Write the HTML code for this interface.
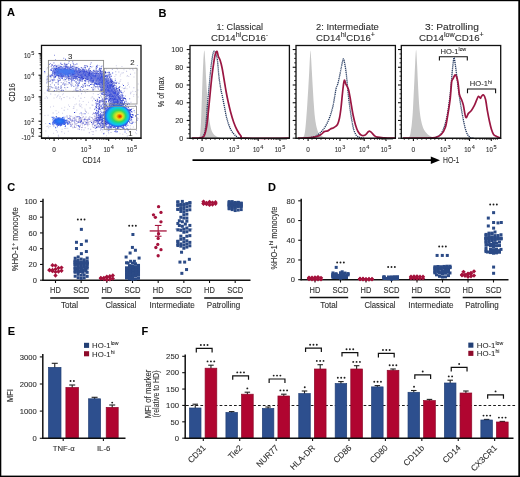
<!DOCTYPE html>
<html><head><meta charset="utf-8"><style>
html,body{margin:0;padding:0;background:#fff;width:520px;height:477px;overflow:hidden}
svg{display:block;will-change:transform;} text{stroke:#2e2e2e;stroke-width:0.1px;paint-order:stroke} svg{font-family:"Liberation Sans", sans-serif}
</style></head><body>
<svg width="520" height="477" viewBox="0 0 520 477">
<defs><radialGradient id="llg" cx="0.5" cy="0.5" r="0.5"><stop offset="0" stop-color="#2a80f8"/><stop offset="0.5" stop-color="#2068f0" stop-opacity="0.9"/><stop offset="1" stop-color="#2050e8" stop-opacity="0"/></radialGradient><filter id="bl1" x="-20%" y="-50%" width="140%" height="200%"><feGaussianBlur stdDeviation="1.8"/></filter><radialGradient id="hotg" cx="0.5" cy="0.5" r="0.5" fx="0.6" fy="0.53">
<stop offset="0" stop-color="#d82800"/><stop offset="0.08" stop-color="#e84a00"/><stop offset="0.17" stop-color="#f0a000"/>
<stop offset="0.25" stop-color="#e8e020"/><stop offset="0.37" stop-color="#a0e030"/><stop offset="0.5" stop-color="#30d860"/>
<stop offset="0.65" stop-color="#10d0c0"/><stop offset="0.77" stop-color="#10c0f0"/><stop offset="0.87" stop-color="#2080f0"/>
<stop offset="0.95" stop-color="#2850e0" stop-opacity="0.8"/><stop offset="1" stop-color="#2840d8" stop-opacity="0"/></radialGradient></defs>
<rect x="0" y="0" width="520" height="1.2" fill="#000"/>
<rect x="0" y="0" width="1.3" height="477" fill="#000"/>
<rect x="518.3" y="0" width="1.7" height="477" fill="#000"/>
<rect x="0" y="475.6" width="520" height="1.4" fill="#000"/>
<text x="7" y="16.3" font-size="11" text-anchor="start" fill="#000" font-weight="bold">A</text>
<text x="158.6" y="16.5" font-size="11" text-anchor="start" fill="#000" font-weight="bold">B</text>
<text x="7.2" y="190.8" font-size="11" text-anchor="start" fill="#000" font-weight="bold">C</text>
<text x="267.9" y="190.6" font-size="11" text-anchor="start" fill="#000" font-weight="bold">D</text>
<text x="7.8" y="334.7" font-size="11" text-anchor="start" fill="#000" font-weight="bold">E</text>
<text x="141.6" y="334.6" font-size="11" text-anchor="start" fill="#000" font-weight="bold">F</text>
<path fill="#d0d0e8" d="M102.76 103.72h1v1h-1zM128.34 119.38h1v1h-1zM116.91 68.7h1v1h-1zM65.17 116.4h1v1h-1zM72.22 65.11h1v1h-1zM126.11 133h1v1h-1zM44.49 97.74h1v1h-1zM121.2 93.45h1v1h-1zM118.92 115.87h1v1h-1zM87.99 101.68h1v1h-1zM72.49 116.62h1v1h-1zM70.17 70.1h1v1h-1zM67.96 104.52h1v1h-1zM85.84 104.18h1v1h-1zM91.43 131.11h1v1h-1zM96.03 66.85h1v1h-1zM137.58 96.6h1v1h-1zM118.51 109.44h1v1h-1zM102.48 103.65h1v1h-1zM136.96 69.34h1v1h-1zM64.24 106.71h1v1h-1zM59.06 80h1v1h-1zM101.58 78.08h1v1h-1zM48.13 127.27h1v1h-1zM47.35 78.24h1v1h-1zM92.4 96.71h1v1h-1zM87.82 118.02h1v1h-1zM130.21 114.93h1v1h-1zM103.15 103.85h1v1h-1zM92.33 122.11h1v1h-1zM90.71 97.54h1v1h-1zM67.27 108.67h1v1h-1zM45.11 122.96h1v1h-1zM62.09 112.82h1v1h-1zM109.05 110.21h1v1h-1zM62.86 93.24h1v1h-1zM78.74 104.2h1v1h-1zM44.35 92.52h1v1h-1zM122.02 117.59h1v1h-1zM58.52 91.39h1v1h-1zM69.15 97.6h1v1h-1zM126.75 118.39h1v1h-1zM91.92 100.26h1v1h-1zM123.63 88.34h1v1h-1zM104.13 123.53h1v1h-1zM113.73 91.43h1v1h-1zM52.6 124.82h1v1h-1zM94.87 120.54h1v1h-1zM91.73 96.2h1v1h-1zM125.91 115.33h1v1h-1zM77.96 66.48h1v1h-1zM100.23 92.07h1v1h-1zM49.57 125.94h1v1h-1zM80.44 105.73h1v1h-1zM74.37 104.16h1v1h-1zM58.12 111.86h1v1h-1zM120.74 112.79h1v1h-1zM79.67 106.02h1v1h-1zM136 94.29h1v1h-1zM99.46 77.21h1v1h-1zM100.88 85.07h1v1h-1zM103.97 85.09h1v1h-1zM107.59 95.01h1v1h-1zM58.17 135.93h1v1h-1zM85.39 89.38h1v1h-1zM66.52 96.21h1v1h-1zM81.83 90.76h1v1h-1zM53.09 105.86h1v1h-1zM134.98 132.25h1v1h-1zM64.21 128.01h1v1h-1zM107.15 91.15h1v1h-1zM72.24 83.22h1v1h-1zM126.16 127.68h1v1h-1zM106.25 99.56h1v1h-1zM56.37 113.36h1v1h-1zM123.44 69.28h1v1h-1zM132.83 126.39h1v1h-1zM128.97 86.53h1v1h-1zM97.55 99.61h1v1h-1zM57.67 78.26h1v1h-1zM62.09 94.26h1v1h-1zM131.22 123.62h1v1h-1zM95.92 123.59h1v1h-1zM60.97 98.1h1v1h-1zM127.1 119.29h1v1h-1zM104.31 96.98h1v1h-1zM97.55 90.88h1v1h-1zM79.37 103.3h1v1h-1zM82.63 78.5h1v1h-1zM66.51 86.79h1v1h-1zM47.58 114.87h1v1h-1zM126.36 119.48h1v1h-1zM87.97 68.08h1v1h-1zM95.48 116.76h1v1h-1zM74.28 122.85h1v1h-1zM114.62 96.05h1v1h-1zM46.37 68.5h1v1h-1zM78.99 113.17h1v1h-1zM46.85 81.72h1v1h-1zM55.55 110.32h1v1h-1zM134.91 91.12h1v1h-1zM105.83 109.88h1v1h-1zM84.25 82.59h1v1h-1zM93.23 98.31h1v1h-1zM126.04 101.78h1v1h-1zM76.36 109.43h1v1h-1zM99.49 78.63h1v1h-1zM108.27 133.27h1v1h-1zM77.41 84.82h1v1h-1zM92.8 86.03h1v1h-1zM115.93 82.45h1v1h-1zM129.46 68.86h1v1h-1zM58.2 94.45h1v1h-1zM131.74 119.57h1v1h-1zM44.49 115.09h1v1h-1zM114.78 78.08h1v1h-1zM120.19 73.86h1v1h-1zM56.86 87.14h1v1h-1zM83.38 119.31h1v1h-1zM120.63 99.14h1v1h-1zM45.34 130.47h1v1h-1zM103.08 111.26h1v1h-1zM118.54 108.71h1v1h-1zM92.22 119.27h1v1h-1zM112.23 118.02h1v1h-1zM65.28 88.76h1v1h-1zM62.66 82.5h1v1h-1zM78.13 95.51h1v1h-1zM60.86 99.23h1v1h-1zM76.53 74.2h1v1h-1zM133.12 95.78h1v1h-1zM97.89 110.07h1v1h-1zM75.97 73.77h1v1h-1zM69.52 73.94h1v1h-1zM133.49 76.51h1v1h-1zM85.78 84.4h1v1h-1zM136.16 133.24h1v1h-1zM92.46 65.86h1v1h-1zM92.99 77.23h1v1h-1zM128.27 75.88h1v1h-1zM113.82 98.15h1v1h-1zM98.58 65.09h1v1h-1zM84.11 96.99h1v1h-1zM126.55 75.73h1v1h-1zM82.69 83.41h1v1h-1zM130.74 121.06h1v1h-1zM50.46 77.25h1v1h-1zM84.42 108.43h1v1h-1zM92.83 93.25h1v1h-1zM133.39 94.07h1v1h-1zM67.59 122.81h1v1h-1zM119.77 75.59h1v1h-1zM107.59 130.51h1v1h-1zM111.41 128.33h1v1h-1zM103.18 112.12h1v1h-1zM135.33 67.56h1v1h-1zM75.27 111.76h1v1h-1zM81.44 107.23h1v1h-1zM63.07 119.6h1v1h-1zM48.77 79.4h1v1h-1zM64.01 132.64h1v1h-1zM130.05 127.81h1v1h-1zM122.98 72.23h1v1h-1zM54.57 86.69h1v1h-1zM100.76 66.34h1v1h-1zM89.04 123.83h1v1h-1zM99.9 129.89h1v1h-1zM105.97 135.27h1v1h-1zM72.83 108.06h1v1h-1zM134.37 111.95h1v1h-1zM87.79 112.85h1v1h-1zM103.04 105.05h1v1h-1zM103.71 132.57h1v1h-1zM61.29 107.77h1v1h-1zM49.82 88.17h1v1h-1zM82.68 100.93h1v1h-1zM115.82 65.34h1v1h-1zM120.63 116.14h1v1h-1zM112.62 113.96h1v1h-1zM54.64 94.32h1v1h-1zM129.86 125.31h1v1h-1zM119.39 118.4h1v1h-1zM126.5 88.24h1v1h-1zM93.19 69.58h1v1h-1zM130.07 73.52h1v1h-1zM48.39 77.27h1v1h-1zM46.85 85.88h1v1h-1zM45.9 96.22h1v1h-1zM67.76 130.82h1v1h-1zM67.37 84.05h1v1h-1zM61.63 128.7h1v1h-1zM97.3 112.99h1v1h-1zM47.66 125.45h1v1h-1zM99.5 93.03h1v1h-1zM59.61 64.24h1v1h-1zM107.72 120.66h1v1h-1zM45.98 81.67h1v1h-1zM73.19 74.26h1v1h-1zM132.2 121.56h1v1h-1zM94.61 113.42h1v1h-1zM120.29 79.29h1v1h-1zM105.85 83.27h1v1h-1zM101.41 131.62h1v1h-1zM61.98 83.33h1v1h-1zM97.99 114.57h1v1h-1zM47.73 73.33h1v1h-1zM119.36 122.68h1v1h-1zM134.25 72.47h1v1h-1zM124.28 101.15h1v1h-1zM48.77 66.54h1v1h-1zM75.83 103.61h1v1h-1zM73.89 124.96h1v1h-1zM54.6 70.08h1v1h-1zM102.9 83.75h1v1h-1zM118.96 119.06h1v1h-1zM73.49 107.78h1v1h-1zM125.1 86.52h1v1h-1zM118.93 109.28h1v1h-1zM56.14 96.74h1v1h-1zM116.08 126.09h1v1h-1zM126.97 85.09h1v1h-1zM62.54 118.56h1v1h-1zM97.92 109.77h1v1h-1zM104.04 117.31h1v1h-1zM101.28 91.23h1v1h-1zM53.05 116.19h1v1h-1zM106.15 114.29h1v1h-1zM103.4 91.9h1v1h-1zM121.45 65.9h1v1h-1zM119.53 133.33h1v1h-1zM74.75 115.38h1v1h-1zM111.87 78.74h1v1h-1zM125.52 116.62h1v1h-1zM127.94 84.07h1v1h-1zM59.18 97.79h1v1h-1zM46.51 125.91h1v1h-1zM105.18 96.26h1v1h-1zM64.18 84.74h1v1h-1zM96.99 86h1v1h-1zM132.81 69.55h1v1h-1zM79.66 79.8h1v1h-1zM67.76 83.52h1v1h-1zM86.91 76.45h1v1h-1zM105.78 68.54h1v1h-1zM53.5 97.54h1v1h-1zM79.77 79.44h1v1h-1zM56.57 117.19h1v1h-1zM106.27 130.42h1v1h-1zM122.07 83.65h1v1h-1zM79.42 105.2h1v1h-1zM78.94 100.48h1v1h-1zM94.72 69.41h1v1h-1zM64.22 72.99h1v1h-1zM67.26 127.7h1v1h-1zM75.01 98.14h1v1h-1zM87 121.93h1v1h-1zM51.66 68.79h1v1h-1zM114.76 106.83h1v1h-1zM98.43 126.3h1v1h-1zM72.17 126.43h1v1h-1zM51.29 64.41h1v1h-1zM115.74 101.56h1v1h-1zM56.32 90.57h1v1h-1zM56.52 118.72h1v1h-1zM56.28 69.27h1v1h-1zM51.64 83.07h1v1h-1zM129.2 122.51h1v1h-1zM69.31 97.81h1v1h-1zM72.8 96.63h1v1h-1zM122.28 133.74h1v1h-1zM102.27 87.03h1v1h-1zM61.59 67h1v1h-1zM84.87 92.24h1v1h-1zM127.09 75.04h1v1h-1zM79.29 69.9h1v1h-1zM110.82 104.89h1v1h-1zM53.1 132.66h1v1h-1zM112.37 105.72h1v1h-1zM116.99 110.59h1v1h-1zM121.62 87.3h1v1h-1zM107.37 105.12h1v1h-1zM78.85 118.16h1v1h-1zM50.04 106.43h1v1h-1zM92.76 121.8h1v1h-1zM115.2 103.63h1v1h-1zM61.94 78.27h1v1h-1zM69.03 105.96h1v1h-1zM94.4 99.35h1v1h-1zM114.34 75.95h1v1h-1zM128.28 108.58h1v1h-1zM55.82 122.82h1v1h-1zM61.32 73.73h1v1h-1zM119.16 103.24h1v1h-1zM104.59 116.83h1v1h-1zM111.77 93.02h1v1h-1zM137.7 83.44h1v1h-1zM132.28 90.8h1v1h-1zM123.24 103h1v1h-1zM117.05 113.44h1v1h-1zM81.13 104.26h1v1h-1z"/>
<path fill="#b4b6de" d="M104.28 71.71h1v1h-1zM61.34 122.89h1v1h-1zM115.39 130.52h1v1h-1zM115.22 71.29h1v1h-1zM111.8 81.97h1v1h-1zM85.81 76.51h1v1h-1zM79.55 125.14h1v1h-1zM83.46 129.54h1v1h-1zM47.13 67.19h1v1h-1zM123.37 87.93h1v1h-1zM94.98 77.86h1v1h-1zM80.43 97.81h1v1h-1zM95.51 130.35h1v1h-1zM111.83 69.05h1v1h-1zM79.86 76.33h1v1h-1zM122.08 99.07h1v1h-1zM130.43 101.73h1v1h-1zM80.42 117.68h1v1h-1zM56.95 95.51h1v1h-1zM115.48 74.16h1v1h-1zM137.34 89.46h1v1h-1zM57.91 134.71h1v1h-1zM110.99 118.05h1v1h-1zM121.58 72.38h1v1h-1zM130.53 122.19h1v1h-1zM55.6 86.39h1v1h-1zM52.63 120.26h1v1h-1zM136.86 64.92h1v1h-1zM54.98 126.73h1v1h-1zM60.62 75.69h1v1h-1zM98.05 96.81h1v1h-1zM85.95 111.65h1v1h-1zM114.54 100.57h1v1h-1zM61.91 75.91h1v1h-1zM129.96 74.02h1v1h-1zM64.42 84.49h1v1h-1zM116.3 67.77h1v1h-1zM50.35 79.59h1v1h-1zM88.5 73.37h1v1h-1zM47.06 97.47h1v1h-1zM73.5 89.67h1v1h-1zM73.35 106.25h1v1h-1zM111.66 84.22h1v1h-1zM86.77 66.44h1v1h-1zM49.34 87.84h1v1h-1zM137.56 118.37h1v1h-1zM127.54 82.42h1v1h-1zM130.13 93.13h1v1h-1zM67.18 118.36h1v1h-1zM81.05 93.28h1v1h-1zM65.35 127.87h1v1h-1zM55.74 130.1h1v1h-1zM47.1 86.36h1v1h-1zM91.31 116.99h1v1h-1zM55.57 82.22h1v1h-1zM60.57 74.05h1v1h-1zM124.88 95.53h1v1h-1zM89.52 107.38h1v1h-1zM61.27 131.36h1v1h-1zM106.97 74.5h1v1h-1zM68.99 115.29h1v1h-1zM93.53 98.23h1v1h-1zM70.6 73.48h1v1h-1zM92.52 134.03h1v1h-1zM103.08 114.1h1v1h-1zM94.4 73.28h1v1h-1zM81.19 129.21h1v1h-1zM118.34 71.42h1v1h-1zM126.1 70.67h1v1h-1zM60.86 87.87h1v1h-1zM56.81 131.53h1v1h-1zM54.64 66.38h1v1h-1zM136.08 130.11h1v1h-1zM132.51 108.04h1v1h-1zM65.68 68.83h1v1h-1zM135.17 104.94h1v1h-1zM63.53 97.03h1v1h-1zM91.61 104.61h1v1h-1zM90.75 117.08h1v1h-1zM130.01 112.86h1v1h-1zM47.81 135.8h1v1h-1zM73.64 75.28h1v1h-1zM100.4 122.53h1v1h-1zM50.24 93.6h1v1h-1zM66.24 120.4h1v1h-1zM87.72 128.21h1v1h-1zM126.8 135.42h1v1h-1zM115.53 83.16h1v1h-1zM121.92 96.61h1v1h-1zM115.54 131.88h1v1h-1zM110.53 132.09h1v1h-1zM123.87 90.85h1v1h-1zM108.06 131.7h1v1h-1zM113.15 93.22h1v1h-1zM72.35 90.98h1v1h-1zM59.76 118.48h1v1h-1zM115.11 97.93h1v1h-1zM59.59 96.27h1v1h-1zM130.43 91.8h1v1h-1zM100.08 95.16h1v1h-1zM74.97 74.07h1v1h-1zM132.04 68.39h1v1h-1zM58.58 118.29h1v1h-1zM92.36 104.64h1v1h-1zM52.61 112.38h1v1h-1zM134.75 121.77h1v1h-1zM98.09 80.57h1v1h-1zM119.54 80.83h1v1h-1zM70.5 84.01h1v1h-1zM119.37 85.88h1v1h-1zM110.07 118.77h1v1h-1zM104.51 90.94h1v1h-1zM133.35 87.27h1v1h-1zM84.75 109.81h1v1h-1zM83.02 77.43h1v1h-1zM109.06 71.66h1v1h-1zM122.5 114.19h1v1h-1zM75.5 118.46h1v1h-1zM106.95 85.34h1v1h-1zM63.65 109.79h1v1h-1z"/>
<path fill="#a0a4da" d="M47.98 86.43h1v1h-1zM69.45 78.37h1v1h-1zM79.52 90.86h1v1h-1zM60.7 86.24h1v1h-1zM66.2 81.2h1v1h-1zM81.35 81.05h1v1h-1zM80.21 87.25h1v1h-1zM54.94 76.99h1v1h-1zM86.98 84.87h1v1h-1zM50.64 86.22h1v1h-1zM102.24 82.78h1v1h-1zM57.74 88.84h1v1h-1zM60.71 81.97h1v1h-1zM57.62 81.9h1v1h-1zM103.51 78.84h1v1h-1zM62.62 89.63h1v1h-1zM81.11 79.38h1v1h-1zM103.46 85.82h1v1h-1zM101.1 80.96h1v1h-1zM48.46 89.9h1v1h-1zM76.23 90.12h1v1h-1zM80.88 74.51h1v1h-1zM86.74 90.91h1v1h-1zM65.48 84.28h1v1h-1zM65.02 75.26h1v1h-1zM46.25 82.45h1v1h-1zM48.04 74.84h1v1h-1zM77.9 83.33h1v1h-1zM50.4 77.15h1v1h-1zM57.74 80.25h1v1h-1zM65.33 79.18h1v1h-1zM50.09 84.24h1v1h-1zM47.79 87.98h1v1h-1zM99.76 89.92h1v1h-1zM71.24 79.59h1v1h-1zM57.88 83.68h1v1h-1zM87.09 74.1h1v1h-1zM46.55 80.33h1v1h-1zM60.21 90.33h1v1h-1zM101.72 76.02h1v1h-1zM98.07 88.79h1v1h-1zM82.88 85.09h1v1h-1zM51.41 79h1v1h-1zM64.45 87.23h1v1h-1zM47.62 78.92h1v1h-1zM58.71 89.21h1v1h-1zM47.48 75.41h1v1h-1zM53.32 76.02h1v1h-1zM82.73 86.75h1v1h-1zM51.83 81.64h1v1h-1zM55.03 76.51h1v1h-1zM98.36 82.73h1v1h-1zM65.46 79.05h1v1h-1zM65.31 83.34h1v1h-1zM51.02 86.64h1v1h-1zM92.16 88.57h1v1h-1zM85.23 75h1v1h-1zM77.73 84.07h1v1h-1zM81.84 90.72h1v1h-1zM51.82 81.82h1v1h-1zM61.1 87.08h1v1h-1zM79.85 75.65h1v1h-1zM101.23 88.85h1v1h-1zM93.39 83.89h1v1h-1zM83.16 89.1h1v1h-1zM76.09 87.38h1v1h-1zM46.88 88.78h1v1h-1zM97.66 74.97h1v1h-1zM49.88 86.16h1v1h-1zM53.49 77.35h1v1h-1zM86.2 78.52h1v1h-1zM93.1 79.52h1v1h-1zM91.62 84.05h1v1h-1zM72.24 84.67h1v1h-1zM56.27 89.83h1v1h-1zM48.05 74.22h1v1h-1zM95.38 77.29h1v1h-1zM102.71 80.15h1v1h-1zM60.16 87.91h1v1h-1zM96.23 83.35h1v1h-1zM69.35 82.7h1v1h-1zM64.06 86.92h1v1h-1zM75.3 85.14h1v1h-1zM46.47 78.93h1v1h-1zM71.68 75.48h1v1h-1zM57.57 81.86h1v1h-1zM87.32 88.96h1v1h-1zM75.15 84.17h1v1h-1zM96.39 74.91h1v1h-1zM98.01 81.48h1v1h-1zM64.37 80.54h1v1h-1zM62.26 83.9h1v1h-1zM100.47 83.98h1v1h-1zM75.23 90.17h1v1h-1zM51.6 79.75h1v1h-1zM48.66 80.94h1v1h-1zM103.44 84.43h1v1h-1zM79.59 89.07h1v1h-1zM49.16 86h1v1h-1zM75.65 82.01h1v1h-1zM75.24 87.85h1v1h-1zM71.25 82.25h1v1h-1zM101.17 90.38h1v1h-1zM101.03 78.8h1v1h-1zM53.25 76.17h1v1h-1zM54.8 88.12h1v1h-1zM69.63 79.05h1v1h-1zM94.37 88.41h1v1h-1zM82.18 84.36h1v1h-1zM88.33 82.65h1v1h-1zM79.41 75.48h1v1h-1zM58.18 87.37h1v1h-1zM93.43 75.12h1v1h-1zM46.81 90.41h1v1h-1zM86.51 88.91h1v1h-1zM57.27 79.15h1v1h-1zM73.32 76.17h1v1h-1zM102.56 89.06h1v1h-1zM77.26 82.16h1v1h-1zM49.3 76.12h1v1h-1zM70.87 82.47h1v1h-1zM84.3 78.2h1v1h-1zM49.29 80.93h1v1h-1zM60.65 84.88h1v1h-1zM47.06 89.56h1v1h-1zM77.32 87.62h1v1h-1zM68.13 76.74h1v1h-1zM75.21 82.11h1v1h-1zM63.16 82.36h1v1h-1zM84.09 90.82h1v1h-1zM56.04 75.48h1v1h-1zM98.59 82.68h1v1h-1zM101.68 89.54h1v1h-1zM74.59 80.78h1v1h-1zM72.99 78.45h1v1h-1zM95.86 83.45h1v1h-1zM62.81 79.44h1v1h-1zM92.58 89.76h1v1h-1zM62.66 75.44h1v1h-1zM87.76 77.51h1v1h-1z"/>
<path fill="#6f78d8" d="M65.37 75.43h1v1h-1zM80.95 86.1h1v1h-1zM99.7 78.98h1v1h-1zM49.15 89.3h1v1h-1zM92.82 89.19h1v1h-1zM77.43 89.92h1v1h-1zM67.99 78.35h1v1h-1zM66.32 74.01h1v1h-1zM50.03 80.59h1v1h-1zM60.99 90.36h1v1h-1zM82.14 86.98h1v1h-1zM51.66 75.01h1v1h-1zM84.83 85.94h1v1h-1zM101.81 89.59h1v1h-1zM102.89 90.45h1v1h-1zM97.58 86.17h1v1h-1zM92.78 88.67h1v1h-1zM56.32 88.31h1v1h-1zM102.27 80.09h1v1h-1zM57.76 75.68h1v1h-1zM96.4 86.37h1v1h-1zM96.92 76.33h1v1h-1zM82.07 80.53h1v1h-1zM76.24 90.93h1v1h-1zM57.62 83.52h1v1h-1zM76.13 82.87h1v1h-1zM62.86 90.11h1v1h-1zM53.3 78.83h1v1h-1zM53.44 90.99h1v1h-1zM92.47 89.5h1v1h-1zM99.5 80.19h1v1h-1zM54.23 79.56h1v1h-1zM46.77 76.15h1v1h-1zM61.29 89.57h1v1h-1zM53.8 77.16h1v1h-1zM56.94 74.15h1v1h-1zM79.83 89.13h1v1h-1zM70.49 84.17h1v1h-1zM70.9 85.42h1v1h-1zM57.93 86.46h1v1h-1zM84.55 74.73h1v1h-1zM62.79 75.56h1v1h-1zM69.15 82.5h1v1h-1zM72.88 74.85h1v1h-1zM98.46 82.57h1v1h-1zM60.29 86.52h1v1h-1zM87.68 85.18h1v1h-1zM63.94 84.48h1v1h-1zM97.88 74.79h1v1h-1zM68.86 78.02h1v1h-1zM75.3 89.26h1v1h-1zM96.88 76.09h1v1h-1zM85.02 83.06h1v1h-1zM51.47 74.85h1v1h-1zM53.94 89.97h1v1h-1zM103.46 76.92h1v1h-1zM47.69 80.97h1v1h-1zM63.45 83.3h1v1h-1zM101.62 86.22h1v1h-1zM46.88 89.94h1v1h-1zM55.36 86.52h1v1h-1zM58.38 79.91h1v1h-1zM51.01 75.28h1v1h-1zM73.37 86.03h1v1h-1zM80.36 90.53h1v1h-1zM64.46 74.29h1v1h-1zM52.3 87.17h1v1h-1zM93.04 76.99h1v1h-1zM92.66 81.82h1v1h-1zM78.6 82.88h1v1h-1zM53.99 84.45h1v1h-1zM77.43 90.82h1v1h-1zM82.51 85.69h1v1h-1zM70.84 80.67h1v1h-1zM96.1 86.16h1v1h-1zM68.62 81.93h1v1h-1zM75.63 81.02h1v1h-1zM52.62 80.22h1v1h-1zM78.69 82.39h1v1h-1zM90.45 78.78h1v1h-1z"/>
<path fill="#b0a8d8" d="M76.17 120.87h1v1h-1zM72.24 120.35h1v1h-1zM84.49 117.74h1v1h-1zM78.32 117.55h1v1h-1zM101.15 117.19h1v1h-1zM101.61 119.5h1v1h-1zM80.44 119.38h1v1h-1zM92 123.83h1v1h-1zM103.9 119.48h1v1h-1zM81.08 120.25h1v1h-1zM89.3 116.37h1v1h-1zM84.63 127.25h1v1h-1zM93.31 122.93h1v1h-1zM106.31 127.8h1v1h-1zM71.82 124.03h1v1h-1zM106.55 126.66h1v1h-1zM93.96 120.06h1v1h-1zM99.43 123.73h1v1h-1zM92.68 131.28h1v1h-1zM102.55 116.35h1v1h-1zM79.7 125.47h1v1h-1zM95.74 127.45h1v1h-1zM77.09 122.6h1v1h-1zM87.36 123.91h1v1h-1zM94.62 125.86h1v1h-1zM74.45 118.45h1v1h-1zM68.57 122.59h1v1h-1zM99.22 117.63h1v1h-1zM99.98 118.37h1v1h-1zM93.96 118.6h1v1h-1zM79.5 120.44h1v1h-1zM93.64 121.57h1v1h-1zM69.52 122.76h1v1h-1zM93.83 115.49h1v1h-1zM90.2 128.7h1v1h-1zM91.92 125.5h1v1h-1zM84.77 123.83h1v1h-1zM75.46 119.61h1v1h-1zM96.49 120.65h1v1h-1zM85.49 123.13h1v1h-1zM97.31 122.6h1v1h-1zM81.3 114.46h1v1h-1zM69.69 123.89h1v1h-1zM88.78 132.36h1v1h-1zM92.16 113.81h1v1h-1zM104.71 124.87h1v1h-1zM103.29 122.44h1v1h-1zM68.4 120.57h1v1h-1zM98.42 126.35h1v1h-1zM76.98 116.39h1v1h-1zM95.28 121.63h1v1h-1zM81.94 126.71h1v1h-1zM79.53 120.23h1v1h-1zM86.51 119.37h1v1h-1zM88.28 121.45h1v1h-1zM95.17 119.26h1v1h-1zM92.79 127.04h1v1h-1zM94.49 117.46h1v1h-1zM82.13 124.41h1v1h-1zM94.45 116.11h1v1h-1zM80.51 123.61h1v1h-1zM91.52 120.59h1v1h-1zM85.3 110.91h1v1h-1zM89.64 120.98h1v1h-1zM66.74 116.83h1v1h-1zM86.95 119.26h1v1h-1zM75.24 127.01h1v1h-1zM82.2 116.64h1v1h-1zM69.1 116.86h1v1h-1zM93.59 126.63h1v1h-1zM103.53 121.45h1v1h-1zM80.89 127.02h1v1h-1zM70.41 122.26h1v1h-1zM92.05 117.55h1v1h-1zM71.34 120.74h1v1h-1zM103.45 125.8h1v1h-1zM71.14 124.68h1v1h-1zM81.2 121h1v1h-1zM86.78 121.19h1v1h-1zM70.95 120.56h1v1h-1zM79.39 118.74h1v1h-1zM77.56 128.55h1v1h-1zM95.96 121.03h1v1h-1zM107.42 116.58h1v1h-1zM81.24 119.14h1v1h-1zM99.21 123.84h1v1h-1zM71.89 123.51h1v1h-1zM90.36 120.46h1v1h-1zM84.17 118.39h1v1h-1zM78.1 121.09h1v1h-1zM100.51 114.46h1v1h-1zM97.35 115.91h1v1h-1zM71.63 124.12h1v1h-1zM78.28 119.13h1v1h-1zM100.42 122.46h1v1h-1zM107.68 125.76h1v1h-1zM91.69 123.54h1v1h-1zM102.61 121.08h1v1h-1zM107.34 129.31h1v1h-1zM97.1 123.61h1v1h-1zM93.08 119.62h1v1h-1zM75.29 123.86h1v1h-1zM81.56 122.59h1v1h-1zM92.19 117.66h1v1h-1zM104.91 121.29h1v1h-1zM78.68 120.36h1v1h-1zM82.6 113.32h1v1h-1zM66.93 120.33h1v1h-1zM95.26 119.89h1v1h-1zM84.63 119.29h1v1h-1zM99.5 114.57h1v1h-1zM75.81 119.61h1v1h-1zM93.71 120.84h1v1h-1zM94.27 121.4h1v1h-1zM85.5 116.56h1v1h-1zM73.92 123.47h1v1h-1zM82.92 116.25h1v1h-1zM97.29 120.13h1v1h-1zM73.95 126.1h1v1h-1zM69.78 118.3h1v1h-1zM85.44 119h1v1h-1zM75.85 125.19h1v1h-1zM99.62 119.5h1v1h-1zM100.32 119.84h1v1h-1zM105.7 121.86h1v1h-1zM101.27 125.1h1v1h-1zM93.19 112.39h1v1h-1zM73.86 117.77h1v1h-1zM100.57 117.07h1v1h-1zM96.58 116.77h1v1h-1zM97.37 117.66h1v1h-1zM95.29 117.73h1v1h-1zM100.86 122.18h1v1h-1zM78.51 117.53h1v1h-1zM94.24 121.48h1v1h-1zM87.73 122.56h1v1h-1zM80.19 118.16h1v1h-1zM79.73 121.51h1v1h-1zM72.53 127.37h1v1h-1zM86.64 122.25h1v1h-1zM81.49 118.52h1v1h-1zM83.7 120.75h1v1h-1zM101.77 117.44h1v1h-1zM94.62 122.05h1v1h-1zM94.57 124.35h1v1h-1zM107.33 117.82h1v1h-1zM75.15 120.19h1v1h-1zM87.33 125.32h1v1h-1zM69.89 119.07h1v1h-1zM82.5 121.73h1v1h-1z"/>
<path fill="#8080d8" d="M105.91 117.02h1v1h-1zM69.61 117.82h1v1h-1zM97.82 119.01h1v1h-1zM102.35 129.27h1v1h-1zM87.38 119.45h1v1h-1zM99.5 118.99h1v1h-1zM84.52 118.86h1v1h-1zM80.84 120.37h1v1h-1zM87.24 123.49h1v1h-1zM74.18 121.72h1v1h-1zM78.91 128.82h1v1h-1zM78.83 121.81h1v1h-1zM107.51 126.5h1v1h-1zM80.08 122.05h1v1h-1zM75.61 123.3h1v1h-1zM105.47 115.51h1v1h-1zM71.82 120.52h1v1h-1zM106.56 120.74h1v1h-1zM101.84 120.08h1v1h-1zM93.18 112.82h1v1h-1zM83.97 124.35h1v1h-1zM74.28 119.53h1v1h-1zM70.46 119.34h1v1h-1zM70.35 120.03h1v1h-1zM80.66 120.13h1v1h-1zM83.1 122.55h1v1h-1zM104.8 116.17h1v1h-1zM88.52 117.46h1v1h-1zM107.61 122.1h1v1h-1zM96.28 121.55h1v1h-1zM72.14 119.57h1v1h-1zM89.25 118.82h1v1h-1zM72.69 117.83h1v1h-1zM67.65 120.78h1v1h-1zM105.64 125.49h1v1h-1zM80.19 116.98h1v1h-1zM73.96 126.79h1v1h-1zM70.28 124.21h1v1h-1zM93.39 119.28h1v1h-1zM85.37 123.98h1v1h-1zM66.49 115.43h1v1h-1zM96.04 114.42h1v1h-1zM76.78 116.1h1v1h-1zM98.78 119.44h1v1h-1zM86.52 119.76h1v1h-1zM88.49 119.04h1v1h-1zM85.2 121.38h1v1h-1zM94.39 112.89h1v1h-1zM107.58 122.88h1v1h-1zM99.51 115.61h1v1h-1zM68.9 118.49h1v1h-1zM86.78 119.43h1v1h-1zM75.84 116.61h1v1h-1zM70.3 115.79h1v1h-1zM74.2 117.18h1v1h-1zM76.42 120.95h1v1h-1zM106.31 123.24h1v1h-1zM97.28 123.14h1v1h-1zM101.82 117.22h1v1h-1zM95.35 117.99h1v1h-1z"/>
<path fill="#3040d0" d="M79.26 117.5h1v1h-1zM82.43 122.71h1v1h-1zM84.51 113.26h1v1h-1zM78.32 125.71h1v1h-1zM83.7 119.16h1v1h-1zM98.39 118.02h1v1h-1zM69.18 122.29h1v1h-1zM77.62 124.92h1v1h-1zM86.12 122.3h1v1h-1zM94.4 125h1v1h-1zM93.13 121.51h1v1h-1zM96.45 125.67h1v1h-1zM70.42 125.73h1v1h-1zM73.59 120.62h1v1h-1zM78.98 126.47h1v1h-1zM77.83 121.63h1v1h-1zM97.73 121.33h1v1h-1zM107.72 117.5h1v1h-1zM94.69 119.9h1v1h-1zM67.39 123.95h1v1h-1zM78.5 116.01h1v1h-1zM99.73 123.47h1v1h-1zM104.82 122.32h1v1h-1zM90.99 122.05h1v1h-1zM80.65 112.62h1v1h-1zM80.91 120.61h1v1h-1zM92.6 123.46h1v1h-1zM102.3 118.1h1v1h-1zM80.31 121.34h1v1h-1zM74.01 111.96h1v1h-1z"/>
<path fill="#3a44d0" d="M95.84 115.53h1v1h-1zM104.9 108.34h1v1h-1zM102.56 100.19h1v1h-1zM99.07 101.86h1v1h-1zM104.26 111.91h1v1h-1zM103.77 105.61h1v1h-1zM98.59 120.19h1v1h-1zM104.32 101.55h1v1h-1zM105.22 98.4h1v1h-1zM101.82 126.91h1v1h-1zM98.87 107.08h1v1h-1zM104.91 112.78h1v1h-1zM105.37 104.09h1v1h-1zM98.82 104.06h1v1h-1zM95.95 109.67h1v1h-1zM104.55 120.9h1v1h-1zM102.31 99.13h1v1h-1zM97.55 122.28h1v1h-1zM101.24 126.72h1v1h-1zM98.39 114.22h1v1h-1zM105.11 108.44h1v1h-1zM98.76 104.78h1v1h-1zM97.16 103.31h1v1h-1zM95.48 107.38h1v1h-1zM98.77 122.7h1v1h-1zM105.88 98.09h1v1h-1zM97.4 120.79h1v1h-1zM100.04 117.36h1v1h-1zM105.69 98.55h1v1h-1zM95.07 100.02h1v1h-1zM98.25 119.32h1v1h-1zM104.03 117.52h1v1h-1zM96.05 107.09h1v1h-1zM105.21 122.98h1v1h-1zM104.18 104.09h1v1h-1zM96.57 110.38h1v1h-1zM101.52 101.34h1v1h-1zM101.11 116.73h1v1h-1zM102.63 100.52h1v1h-1zM98.38 103.2h1v1h-1zM99.23 120.22h1v1h-1zM97.65 112.51h1v1h-1zM98.21 117.19h1v1h-1zM96.93 119.28h1v1h-1zM104.95 115.59h1v1h-1zM104.76 103.74h1v1h-1zM98.96 118.26h1v1h-1zM102.63 101.36h1v1h-1zM100.39 105.82h1v1h-1zM98.09 111h1v1h-1zM98.85 101.32h1v1h-1zM105.62 101.07h1v1h-1zM98.76 116.92h1v1h-1zM101.37 119.52h1v1h-1zM105.4 108.75h1v1h-1zM98.27 109.31h1v1h-1zM103.9 104.02h1v1h-1zM96.25 113.13h1v1h-1zM103.07 114.83h1v1h-1zM103.87 125.07h1v1h-1zM104.21 99.18h1v1h-1zM105.73 124.35h1v1h-1zM102.82 126.73h1v1h-1zM105.75 108.04h1v1h-1zM98.06 119.05h1v1h-1zM100.74 121.92h1v1h-1zM97.35 116.88h1v1h-1zM95.92 106.38h1v1h-1zM99.83 116.06h1v1h-1zM102.92 123.43h1v1h-1zM103.56 101.1h1v1h-1zM95.19 111.92h1v1h-1zM105.36 98.66h1v1h-1zM97.72 122.5h1v1h-1zM98.21 120.58h1v1h-1zM104.16 99.33h1v1h-1zM104.84 119.63h1v1h-1zM103.1 118.06h1v1h-1zM98.66 101.66h1v1h-1zM100.09 113.23h1v1h-1zM104.18 117.99h1v1h-1zM98.93 107.73h1v1h-1zM103.86 112.61h1v1h-1zM103.6 126.3h1v1h-1zM100.16 116.43h1v1h-1zM104.86 112.56h1v1h-1zM99.23 99.91h1v1h-1zM103.25 101.51h1v1h-1zM102.04 122.67h1v1h-1zM98.64 119.54h1v1h-1zM100.85 122.22h1v1h-1zM101.67 114.76h1v1h-1zM100.91 114.7h1v1h-1zM96.22 113.39h1v1h-1zM105.91 119.32h1v1h-1zM105.63 107.58h1v1h-1zM95.41 112.4h1v1h-1zM105.39 111.62h1v1h-1zM100.85 117.19h1v1h-1zM96.38 104.27h1v1h-1zM104.03 98.73h1v1h-1zM99.76 100.57h1v1h-1zM102.85 103.2h1v1h-1zM104.1 122.86h1v1h-1zM100.92 118.79h1v1h-1zM95.55 119.75h1v1h-1zM104.05 110.88h1v1h-1zM102.63 100.98h1v1h-1zM105.01 111.49h1v1h-1zM97.97 123.03h1v1h-1zM103.64 112.77h1v1h-1zM104.6 116.32h1v1h-1zM98.91 108.85h1v1h-1zM99.51 102.35h1v1h-1zM98.67 116.17h1v1h-1zM95.06 112.06h1v1h-1zM97.55 108.02h1v1h-1zM98.65 105.5h1v1h-1zM96.19 118.18h1v1h-1zM103.42 107.22h1v1h-1zM99.7 114.7h1v1h-1zM101.25 105.53h1v1h-1zM98.13 119.85h1v1h-1zM98.96 108.87h1v1h-1zM103.29 111.88h1v1h-1zM100.17 124.9h1v1h-1zM101.56 118.83h1v1h-1zM99.65 119.35h1v1h-1zM101.13 107.84h1v1h-1zM104.87 122.37h1v1h-1z"/>
<path fill="#7a7ed8" d="M97.94 109.19h1v1h-1zM100.71 126.66h1v1h-1zM102.56 123.98h1v1h-1zM95.95 117.11h1v1h-1zM105.58 122.11h1v1h-1zM100.49 113.78h1v1h-1zM97.7 119.26h1v1h-1zM103.36 101.62h1v1h-1zM103.97 126.67h1v1h-1zM101.94 121.21h1v1h-1zM105.08 102.13h1v1h-1zM95.98 105.04h1v1h-1zM100.8 114.67h1v1h-1zM103.17 120.12h1v1h-1zM105.08 102.32h1v1h-1zM102.06 125.86h1v1h-1zM101.63 108.03h1v1h-1zM99.27 126.85h1v1h-1zM101.29 119.82h1v1h-1zM101.1 112.08h1v1h-1zM104.96 108.52h1v1h-1zM104.1 100.8h1v1h-1zM103.11 100.55h1v1h-1zM105.16 116.25h1v1h-1zM95.73 120.43h1v1h-1zM103.47 124.32h1v1h-1zM100.1 108.58h1v1h-1zM103.27 125.19h1v1h-1zM98.26 106.61h1v1h-1zM100.14 125.26h1v1h-1zM104.07 124.65h1v1h-1zM95.39 102.49h1v1h-1zM98.2 122.96h1v1h-1zM100.37 118.41h1v1h-1zM104.37 118.37h1v1h-1zM97.97 122.37h1v1h-1zM104.05 113.56h1v1h-1zM97.69 112.7h1v1h-1zM98.33 108.64h1v1h-1zM101.09 123.09h1v1h-1zM102.19 124.13h1v1h-1zM104.68 102.66h1v1h-1zM104.67 120.39h1v1h-1zM97.75 105.99h1v1h-1zM103.2 103.33h1v1h-1zM101.98 103.72h1v1h-1zM99.25 114.63h1v1h-1zM103.54 106.11h1v1h-1zM104.87 105.03h1v1h-1zM100.27 100.86h1v1h-1zM105.08 107.42h1v1h-1zM96.4 120.45h1v1h-1zM96.83 98.63h1v1h-1zM103.41 112h1v1h-1zM98.36 115.48h1v1h-1zM101.44 99.44h1v1h-1zM100.47 106.53h1v1h-1zM96.6 124.29h1v1h-1zM103.3 126.84h1v1h-1zM103.16 122.66h1v1h-1zM96.6 102.92h1v1h-1zM97.86 120.16h1v1h-1zM103.81 111.08h1v1h-1zM105.03 102.95h1v1h-1zM104.57 111.95h1v1h-1zM100.52 124.76h1v1h-1zM99.04 123.44h1v1h-1zM99.9 109.35h1v1h-1zM96.94 99.84h1v1h-1zM100.46 124.12h1v1h-1zM97.54 126.6h1v1h-1zM96.78 112.83h1v1h-1zM99.19 104.53h1v1h-1zM95.7 113.77h1v1h-1zM100.17 118.19h1v1h-1zM102.66 111.98h1v1h-1zM102.17 108.22h1v1h-1zM105.73 105.19h1v1h-1zM104.74 106.61h1v1h-1zM101.97 99.44h1v1h-1zM104.87 105.4h1v1h-1zM99.89 125.64h1v1h-1zM103.79 98.23h1v1h-1zM98.13 119.1h1v1h-1zM100.79 120.88h1v1h-1zM105.78 109.74h1v1h-1zM101.59 115.26h1v1h-1zM100.57 104.41h1v1h-1zM103.66 117.37h1v1h-1zM98.44 118.53h1v1h-1zM104.14 119.3h1v1h-1zM95.2 112.26h1v1h-1zM97.62 126.14h1v1h-1zM96.95 123.12h1v1h-1zM97.83 114.6h1v1h-1zM105.4 117.79h1v1h-1zM95.26 105.97h1v1h-1zM98.29 125.37h1v1h-1zM101.32 116.71h1v1h-1zM102.73 123.95h1v1h-1zM103.51 106.37h1v1h-1zM99.22 126.49h1v1h-1zM97.42 101.06h1v1h-1zM104.38 113.38h1v1h-1zM96.34 101.2h1v1h-1zM95.72 103.5h1v1h-1zM97.55 120.16h1v1h-1zM100.42 99.92h1v1h-1zM105.36 109.1h1v1h-1zM103.02 103.56h1v1h-1zM101.2 122.66h1v1h-1zM100.73 100.39h1v1h-1zM102.63 107.76h1v1h-1zM101.89 122.83h1v1h-1zM98.7 117.92h1v1h-1zM96.02 118.4h1v1h-1zM97.21 126.74h1v1h-1zM103.61 98.68h1v1h-1zM101.98 117.28h1v1h-1zM103.77 119.6h1v1h-1zM95.49 119.7h1v1h-1zM104.91 118.71h1v1h-1zM99.2 100.09h1v1h-1zM105.19 100.43h1v1h-1zM101.54 120.41h1v1h-1zM101.02 115.74h1v1h-1zM104 105.62h1v1h-1zM101.88 98.27h1v1h-1zM102.42 113.47h1v1h-1zM96.73 100.62h1v1h-1z"/>
<path fill="#2028b4" d="M110.19 83.47h1v1h-1zM80.32 71.8h1v1h-1zM110.19 92.38h1v1h-1zM64.39 68.19h1v1h-1zM94.94 74.97h1v1h-1zM58.64 70.59h1v1h-1zM104.36 88.46h1v1h-1zM96.95 77.18h1v1h-1zM73.4 71.38h1v1h-1zM115.6 96.35h1v1h-1zM104.09 80.07h1v1h-1zM78.2 73.43h1v1h-1zM112.06 88.61h1v1h-1zM78.24 73.48h1v1h-1zM116.19 100.22h1v1h-1zM79.15 76.88h1v1h-1zM117.85 101.9h1v1h-1zM55.77 68.36h1v1h-1zM105.18 86.39h1v1h-1zM76.77 73.04h1v1h-1zM85.63 76.85h1v1h-1zM101.99 81.02h1v1h-1zM58.39 69.62h1v1h-1zM68.02 73.58h1v1h-1zM63.15 70.46h1v1h-1zM105.56 92.53h1v1h-1zM68.63 71.49h1v1h-1zM92.36 73.08h1v1h-1zM79.25 78.8h1v1h-1zM74.67 74.15h1v1h-1zM116.26 99.02h1v1h-1zM95.05 76.15h1v1h-1zM100.97 81.2h1v1h-1zM107.8 84.7h1v1h-1zM112.17 85.25h1v1h-1zM77.46 79.45h1v1h-1zM63.87 70.08h1v1h-1zM86.82 76.64h1v1h-1zM64.11 73.57h1v1h-1zM54.03 74.16h1v1h-1zM117.9 91.77h1v1h-1zM101.66 77.7h1v1h-1zM81.27 73.08h1v1h-1zM63.78 74.22h1v1h-1zM103.32 90.31h1v1h-1zM100.01 78.82h1v1h-1zM68.88 71.48h1v1h-1zM112.92 103.37h1v1h-1zM116.25 101.85h1v1h-1zM121.68 100.27h1v1h-1zM111.65 96.01h1v1h-1zM90.15 73.74h1v1h-1zM75.72 71.26h1v1h-1zM104.27 80.05h1v1h-1zM70.6 75.69h1v1h-1zM102.35 78.31h1v1h-1zM60.83 73.43h1v1h-1zM51.94 72.43h1v1h-1zM107.73 85.06h1v1h-1zM84.53 77.32h1v1h-1zM102.43 83.69h1v1h-1zM106.16 90.1h1v1h-1zM108.23 94.73h1v1h-1zM101.18 82.22h1v1h-1zM110.76 88.59h1v1h-1zM107.78 80.84h1v1h-1zM118.23 99.42h1v1h-1zM115.04 101.45h1v1h-1zM58.29 75.29h1v1h-1zM70.03 75.24h1v1h-1zM82.74 74.1h1v1h-1zM73.2 73.52h1v1h-1zM72.29 66.18h1v1h-1zM112.32 92.51h1v1h-1zM59.29 70.11h1v1h-1zM69.19 70.46h1v1h-1zM109.63 90.14h1v1h-1zM69.84 72.29h1v1h-1zM69.52 73.48h1v1h-1zM118.25 99.23h1v1h-1zM111.05 81.34h1v1h-1zM82.54 71.46h1v1h-1zM62.99 71.27h1v1h-1zM74.21 72.54h1v1h-1zM118.38 100.38h1v1h-1zM105.4 85.51h1v1h-1zM65.46 64.23h1v1h-1zM104.78 88.12h1v1h-1zM83.88 71.89h1v1h-1zM105.88 87.21h1v1h-1zM79.93 70.48h1v1h-1zM66.14 71.93h1v1h-1zM58.71 75.41h1v1h-1zM75.45 68.89h1v1h-1zM112.85 98.87h1v1h-1zM114.86 96.44h1v1h-1zM110.99 79.59h1v1h-1zM109.75 84.78h1v1h-1zM68.97 72.04h1v1h-1zM85.24 71.25h1v1h-1zM111.62 91.68h1v1h-1zM117.89 100.76h1v1h-1zM88.71 72.27h1v1h-1zM107.36 91.19h1v1h-1zM113.97 100.39h1v1h-1zM118.42 101.78h1v1h-1zM71.93 75.95h1v1h-1zM102.89 83.94h1v1h-1zM77.69 69.71h1v1h-1zM82.91 73.26h1v1h-1zM91.91 77.38h1v1h-1zM75.06 73.24h1v1h-1zM57.66 70.5h1v1h-1zM109.12 88h1v1h-1zM98.41 82.15h1v1h-1zM114.89 91.26h1v1h-1zM65.29 69.53h1v1h-1zM70.62 75.58h1v1h-1zM97.88 75.86h1v1h-1zM105.57 97.13h1v1h-1zM83.92 70.64h1v1h-1zM71.6 73.92h1v1h-1zM93 81.25h1v1h-1zM116.72 97.9h1v1h-1zM114.12 89.52h1v1h-1zM109.67 92.11h1v1h-1zM81.84 77.36h1v1h-1zM70.06 69.31h1v1h-1zM109.33 94.97h1v1h-1zM107.96 91.42h1v1h-1zM109.29 89.38h1v1h-1zM82.16 74.62h1v1h-1zM73.02 73.75h1v1h-1zM77.53 70.66h1v1h-1zM112.19 98.3h1v1h-1zM112.03 95.16h1v1h-1zM78.61 75.28h1v1h-1zM113.69 94.19h1v1h-1zM82.96 78.02h1v1h-1zM90.31 71.35h1v1h-1zM96.48 78.2h1v1h-1zM72.86 71.41h1v1h-1zM72.38 71.31h1v1h-1zM69.03 72.55h1v1h-1zM71.95 73.89h1v1h-1zM89.8 75.4h1v1h-1zM58.74 67.9h1v1h-1zM110.53 87h1v1h-1zM68.52 68.18h1v1h-1zM87.74 70.39h1v1h-1zM100.21 78.89h1v1h-1zM66.11 71.63h1v1h-1zM84.34 77.1h1v1h-1zM96.77 79.29h1v1h-1zM97.52 77.16h1v1h-1zM111.94 96.68h1v1h-1zM107.47 89.73h1v1h-1zM66.31 73.51h1v1h-1zM109.43 88.07h1v1h-1zM95.09 76.97h1v1h-1zM106.82 81.1h1v1h-1zM65.47 73.33h1v1h-1zM88.12 75.33h1v1h-1zM109.8 87.65h1v1h-1zM111 90.18h1v1h-1zM106.69 91.58h1v1h-1zM70.56 72.57h1v1h-1zM109.01 91.71h1v1h-1zM96.03 78.79h1v1h-1zM107.21 82.76h1v1h-1zM106.43 90.19h1v1h-1zM79.97 72.3h1v1h-1zM115.43 98.68h1v1h-1zM110.62 95.74h1v1h-1zM107.37 85.97h1v1h-1zM78.56 71.73h1v1h-1zM97.78 72.97h1v1h-1zM70.66 75.21h1v1h-1zM106.98 86.86h1v1h-1zM110.94 95.54h1v1h-1zM68.04 71.23h1v1h-1zM109.73 89.53h1v1h-1zM105.49 83.97h1v1h-1zM56.46 72.12h1v1h-1zM110.47 98.5h1v1h-1zM90.61 73.42h1v1h-1zM80.53 69.77h1v1h-1zM53.64 71.96h1v1h-1zM102.91 86.1h1v1h-1zM75.04 70.77h1v1h-1zM92.18 77.49h1v1h-1zM71.88 73.96h1v1h-1zM102.7 80.69h1v1h-1zM82.56 77.69h1v1h-1zM108.09 88.21h1v1h-1zM107.35 83.85h1v1h-1zM106.44 86.84h1v1h-1zM75.48 68.4h1v1h-1zM58.44 67.52h1v1h-1zM112.64 92.92h1v1h-1zM118.33 100.07h1v1h-1zM99.29 80.33h1v1h-1zM110.36 97.76h1v1h-1zM106.69 84.46h1v1h-1zM93.59 77.98h1v1h-1zM87.02 75.67h1v1h-1zM84.14 70.1h1v1h-1zM92.3 74.21h1v1h-1zM71.33 73.15h1v1h-1zM88.18 73.25h1v1h-1zM92.65 73.05h1v1h-1zM52.13 72.75h1v1h-1zM83.47 69.7h1v1h-1zM72.97 72.82h1v1h-1zM105.62 82.92h1v1h-1zM112 85.15h1v1h-1zM99.5 80.58h1v1h-1zM103.92 82.64h1v1h-1zM99.07 84.27h1v1h-1zM77.59 72.13h1v1h-1zM79.49 80.08h1v1h-1zM109.31 95.95h1v1h-1zM120.32 96.51h1v1h-1zM68.49 70.43h1v1h-1zM56.13 72.19h1v1h-1zM121.01 101.98h1v1h-1zM111.47 96.77h1v1h-1zM98.51 77.93h1v1h-1zM116.37 88.28h1v1h-1zM96.94 78.73h1v1h-1zM110.15 90.39h1v1h-1zM75.39 69.96h1v1h-1zM85.83 74.15h1v1h-1zM100.31 78.66h1v1h-1zM70.71 78.83h1v1h-1zM107.61 86.38h1v1h-1zM69.4 72.41h1v1h-1zM101.83 86.16h1v1h-1zM108.73 89.93h1v1h-1zM85.66 73.16h1v1h-1zM112.04 103.85h1v1h-1zM96.94 76.31h1v1h-1zM106.49 84.76h1v1h-1zM56.16 74.13h1v1h-1zM63.16 71.53h1v1h-1zM105.39 86.5h1v1h-1zM109.32 100.11h1v1h-1zM98.05 76.02h1v1h-1zM113.53 95.91h1v1h-1zM60.03 74.14h1v1h-1zM105.97 95.42h1v1h-1zM117.85 97.19h1v1h-1zM105 79.91h1v1h-1zM82.15 71.69h1v1h-1zM107.1 86.39h1v1h-1zM70.25 71.46h1v1h-1zM103.74 76.55h1v1h-1zM103.47 87.7h1v1h-1zM100.84 76.73h1v1h-1zM78.91 70.93h1v1h-1zM51.64 64.83h1v1h-1zM71.52 70.54h1v1h-1zM117.3 92.75h1v1h-1zM70.54 66.6h1v1h-1zM63.85 69.81h1v1h-1zM72.11 65.88h1v1h-1zM95.65 79.52h1v1h-1zM96.04 78.64h1v1h-1zM113.31 97.46h1v1h-1zM111.62 98.18h1v1h-1zM114.95 99h1v1h-1zM111.09 87.79h1v1h-1zM85.52 78.27h1v1h-1zM65.44 68.71h1v1h-1zM116.17 94.05h1v1h-1zM70.42 73.58h1v1h-1zM102.36 77.18h1v1h-1zM76.58 77.94h1v1h-1zM108.65 92.82h1v1h-1zM64.62 66.01h1v1h-1zM87.46 74.94h1v1h-1zM71.14 70.26h1v1h-1zM110.7 95.93h1v1h-1zM105.14 78.73h1v1h-1zM96.15 83.43h1v1h-1zM79.46 75.2h1v1h-1zM67.84 78.14h1v1h-1zM111.65 94.86h1v1h-1zM102.36 85.64h1v1h-1zM104.39 85.37h1v1h-1zM117.75 100.49h1v1h-1zM100.95 74.51h1v1h-1zM66.16 72.12h1v1h-1zM95.83 80.73h1v1h-1zM77.51 71.97h1v1h-1zM98.06 76.79h1v1h-1zM89.36 72.75h1v1h-1zM91.35 75.89h1v1h-1zM112.93 96.31h1v1h-1zM111.88 83.31h1v1h-1zM81.98 69.43h1v1h-1zM113.81 89.07h1v1h-1zM110.06 90.39h1v1h-1zM110.77 86.71h1v1h-1zM96 71.46h1v1h-1zM116.43 97.31h1v1h-1zM92.57 79.75h1v1h-1zM61.38 70.47h1v1h-1zM76.61 73.87h1v1h-1zM101.73 81.25h1v1h-1zM81.1 76.27h1v1h-1zM88.56 74.87h1v1h-1zM89.76 70.08h1v1h-1zM67.81 76.58h1v1h-1zM59.77 66.27h1v1h-1zM61.66 72.63h1v1h-1zM99.82 84.16h1v1h-1zM75.47 69.48h1v1h-1zM87.93 74.11h1v1h-1zM111.21 97.49h1v1h-1zM97.76 79.76h1v1h-1zM109.61 92.45h1v1h-1zM106.33 83.32h1v1h-1zM111.27 99.07h1v1h-1zM63.42 73.4h1v1h-1zM81.09 77.02h1v1h-1zM111.58 102.46h1v1h-1zM87.83 77.88h1v1h-1zM116.69 98.59h1v1h-1zM68.91 68.42h1v1h-1zM58.24 74.13h1v1h-1zM124.81 97.96h1v1h-1zM85.24 71.74h1v1h-1zM95.27 71.66h1v1h-1zM112.11 99.67h1v1h-1zM67.06 76.44h1v1h-1zM118.84 99.1h1v1h-1zM82.27 70.63h1v1h-1zM68.6 73.61h1v1h-1zM73.45 73.17h1v1h-1zM93.72 75.05h1v1h-1zM90.18 71.42h1v1h-1zM112.57 99.59h1v1h-1zM61.59 69.7h1v1h-1zM56.25 75.1h1v1h-1zM70.73 66.8h1v1h-1zM97.96 79.65h1v1h-1zM112.05 85.93h1v1h-1zM91.96 75.07h1v1h-1zM106.69 80.46h1v1h-1zM101.22 79.38h1v1h-1zM58.41 73.22h1v1h-1zM69.44 72.94h1v1h-1zM112.89 100.52h1v1h-1zM75.18 69.63h1v1h-1zM112.84 96.47h1v1h-1zM92.55 78.5h1v1h-1zM70.11 68.75h1v1h-1zM56.4 65.46h1v1h-1zM64.8 74.06h1v1h-1zM80.17 76.19h1v1h-1zM86.45 71.51h1v1h-1zM86.18 76.98h1v1h-1zM92.92 75.24h1v1h-1zM85.6 72.45h1v1h-1zM58.83 72.48h1v1h-1zM70.77 69.43h1v1h-1zM113.79 101.94h1v1h-1zM52.56 70.7h1v1h-1zM100.14 81.79h1v1h-1zM91.06 78.5h1v1h-1zM101.79 81.52h1v1h-1zM81.41 72.38h1v1h-1zM80.33 75.59h1v1h-1zM93.4 79.89h1v1h-1zM115.75 95.19h1v1h-1zM78.43 73.28h1v1h-1zM56.47 68.07h1v1h-1zM59.62 66.51h1v1h-1zM115.27 95.84h1v1h-1zM77.27 74.8h1v1h-1zM64.38 74.55h1v1h-1zM97.39 78.04h1v1h-1zM110.27 98.05h1v1h-1zM101.53 76.11h1v1h-1zM64.49 69.1h1v1h-1zM84.63 75.24h1v1h-1zM80.8 67.27h1v1h-1zM58.14 72.55h1v1h-1zM113.54 100.17h1v1h-1zM87.13 75.72h1v1h-1zM67.1 66.68h1v1h-1zM116.34 94.15h1v1h-1zM120.69 103.1h1v1h-1zM113.49 92.31h1v1h-1zM76.33 72.59h1v1h-1zM65.99 73.58h1v1h-1zM95.54 82.94h1v1h-1zM91.84 77.78h1v1h-1zM115.37 91.17h1v1h-1zM114.99 106.88h1v1h-1zM117.62 94.39h1v1h-1zM83.98 77.13h1v1h-1zM100.08 79.53h1v1h-1zM64.05 68.55h1v1h-1zM91.52 78.86h1v1h-1zM59.72 76.33h1v1h-1zM61.44 64.06h1v1h-1zM62.25 71.89h1v1h-1zM77.91 73.29h1v1h-1zM75.03 77.56h1v1h-1zM103.19 85.77h1v1h-1zM58.88 67.46h1v1h-1zM66.51 63.76h1v1h-1zM99.97 82.39h1v1h-1zM102.33 84.17h1v1h-1zM105.09 82.73h1v1h-1zM112.09 84.01h1v1h-1zM102.36 78.34h1v1h-1zM93.35 79.36h1v1h-1zM108.41 85.97h1v1h-1zM58.12 72.94h1v1h-1zM65.12 70.95h1v1h-1zM106.05 83.53h1v1h-1zM69.06 69.76h1v1h-1zM91.61 82.22h1v1h-1zM75.88 76.06h1v1h-1zM86.72 77.91h1v1h-1zM112.93 95.46h1v1h-1zM109.6 80.74h1v1h-1zM88.37 75.24h1v1h-1zM64.55 68.71h1v1h-1zM109.62 91.85h1v1h-1zM100.87 84.51h1v1h-1zM90.96 74.1h1v1h-1zM116.15 99.38h1v1h-1zM105.88 80.22h1v1h-1zM120.51 101.22h1v1h-1zM101.87 81.95h1v1h-1zM111.63 99.45h1v1h-1zM97.68 81.01h1v1h-1zM107.11 81.79h1v1h-1zM110.55 95.07h1v1h-1zM59.72 79.51h1v1h-1zM89.1 74.27h1v1h-1zM102.66 81.27h1v1h-1zM58.33 70.47h1v1h-1zM110.23 91.42h1v1h-1zM107.89 83.56h1v1h-1zM115.83 101.21h1v1h-1zM84.4 65.29h1v1h-1zM86.84 73.63h1v1h-1zM112.99 97.66h1v1h-1zM87.81 76.62h1v1h-1zM110.34 92.06h1v1h-1zM90.99 73.2h1v1h-1zM80.49 78.26h1v1h-1zM76.06 66.91h1v1h-1zM71.34 70.9h1v1h-1zM86.3 78.21h1v1h-1zM67.69 70.59h1v1h-1zM113.06 92.83h1v1h-1zM116.33 102.17h1v1h-1zM62.17 70.09h1v1h-1zM56.85 71.22h1v1h-1zM51.52 67.83h1v1h-1zM118.19 97.79h1v1h-1zM59.56 70.64h1v1h-1zM103.93 82.51h1v1h-1zM77.25 70.88h1v1h-1zM71.8 69.82h1v1h-1zM75.73 66.88h1v1h-1zM101.32 85.82h1v1h-1zM54.94 69.44h1v1h-1zM112.95 90.99h1v1h-1zM96.88 71.57h1v1h-1zM70.61 70.42h1v1h-1zM71.43 74.5h1v1h-1zM99.95 85.79h1v1h-1zM99.29 73.84h1v1h-1zM71.23 77.89h1v1h-1zM79.07 71.79h1v1h-1zM86.83 72.6h1v1h-1zM117.52 96.81h1v1h-1zM99.75 76.61h1v1h-1zM104.11 94.82h1v1h-1zM100.58 79.72h1v1h-1zM100.8 77.06h1v1h-1zM94.32 76.25h1v1h-1zM101.71 83.94h1v1h-1zM89.34 79.86h1v1h-1zM108.93 85.26h1v1h-1zM69.65 73.26h1v1h-1zM77.65 76.09h1v1h-1zM111.53 96.36h1v1h-1zM81.16 74.88h1v1h-1zM112.25 90.29h1v1h-1zM113.44 97.34h1v1h-1zM99.53 76.23h1v1h-1zM63.05 75.52h1v1h-1zM108.59 82.34h1v1h-1zM103.44 84.74h1v1h-1zM75.27 76.25h1v1h-1zM113.61 95.14h1v1h-1zM89.7 74.67h1v1h-1zM57.63 71.34h1v1h-1zM60.73 72.31h1v1h-1zM70.52 72.43h1v1h-1zM100.78 74.55h1v1h-1zM107.79 88.44h1v1h-1zM61 70.31h1v1h-1zM54.99 68.86h1v1h-1zM102.51 80.45h1v1h-1zM80.26 74.88h1v1h-1zM84.16 80.33h1v1h-1zM108.91 89.99h1v1h-1zM114.21 97.08h1v1h-1zM115.63 105.36h1v1h-1zM109.25 90.84h1v1h-1zM57.57 68.7h1v1h-1zM70.44 73.32h1v1h-1zM100.86 76.11h1v1h-1zM117.72 101.28h1v1h-1zM58.71 77.68h1v1h-1zM94.52 76.1h1v1h-1zM84.63 77.3h1v1h-1zM88.12 76.5h1v1h-1zM77.99 77.05h1v1h-1zM71.05 71.4h1v1h-1zM69.46 72.68h1v1h-1zM66.11 73.04h1v1h-1zM92.71 76.79h1v1h-1zM90.75 73.95h1v1h-1zM105.34 85.21h1v1h-1zM96.38 82.67h1v1h-1zM116.26 101.57h1v1h-1zM76.97 71.58h1v1h-1zM110.87 95.98h1v1h-1zM83.4 74.86h1v1h-1zM108.02 85.28h1v1h-1zM107.57 88.2h1v1h-1zM89.07 73.75h1v1h-1zM91.78 80.13h1v1h-1zM99.6 79.18h1v1h-1zM62.75 68.68h1v1h-1zM91.29 75.96h1v1h-1zM63.77 69.82h1v1h-1zM70.57 70.88h1v1h-1zM96.66 83.98h1v1h-1zM109.21 99.31h1v1h-1zM118.65 98.97h1v1h-1zM75.62 76.32h1v1h-1zM62.74 71.92h1v1h-1zM89.93 78.34h1v1h-1zM87.68 76.03h1v1h-1zM86.75 75.77h1v1h-1zM112.02 89.61h1v1h-1zM101.99 84.89h1v1h-1zM97.71 73.68h1v1h-1zM104.37 79.82h1v1h-1zM98.77 75.86h1v1h-1zM103.94 83.2h1v1h-1zM113.37 98.49h1v1h-1zM108.88 103.46h1v1h-1zM113.05 95.36h1v1h-1zM108.94 91.31h1v1h-1zM63.62 68.5h1v1h-1zM89.01 72.82h1v1h-1zM115.11 90.16h1v1h-1zM82.07 70.18h1v1h-1zM101.39 76.42h1v1h-1zM59.94 73.17h1v1h-1zM64.93 68.65h1v1h-1zM80.96 70.35h1v1h-1zM57.28 68.32h1v1h-1zM81.96 75.35h1v1h-1zM73.13 68.47h1v1h-1zM110.18 93.88h1v1h-1zM77.55 71.44h1v1h-1zM85.22 76.86h1v1h-1zM111.49 89.28h1v1h-1zM101.88 82.83h1v1h-1zM56.69 70.87h1v1h-1zM74.04 69.79h1v1h-1zM100.89 79.42h1v1h-1zM67.18 71.2h1v1h-1zM68.35 70.92h1v1h-1zM94.8 86.25h1v1h-1zM95.71 79.95h1v1h-1zM75.35 75.66h1v1h-1zM99.76 80.71h1v1h-1zM103.94 77.41h1v1h-1zM58.27 69.72h1v1h-1zM71.4 69.51h1v1h-1zM78.61 76.34h1v1h-1zM108.44 100.02h1v1h-1zM62.19 70.08h1v1h-1zM78.98 73.66h1v1h-1zM71.68 70.68h1v1h-1zM101.5 84.23h1v1h-1zM99.71 78.78h1v1h-1zM122.19 103.37h1v1h-1zM105.87 81.95h1v1h-1zM108.97 88.14h1v1h-1zM116.11 87.87h1v1h-1zM118.03 102.92h1v1h-1zM122.4 95.13h1v1h-1zM112.81 88.4h1v1h-1zM101.74 70.67h1v1h-1zM109.96 81.39h1v1h-1zM104.7 85.38h1v1h-1zM106.28 87.95h1v1h-1zM110.07 95.06h1v1h-1zM116.12 98.26h1v1h-1zM117.56 96.96h1v1h-1zM107.43 75.85h1v1h-1zM96.43 77.68h1v1h-1zM116.47 91.05h1v1h-1zM110.6 93.64h1v1h-1zM114.67 95.85h1v1h-1zM117.53 93.49h1v1h-1zM111.32 85.11h1v1h-1zM96.37 80.41h1v1h-1zM107.87 89.63h1v1h-1zM100.62 88.95h1v1h-1zM100.89 68.17h1v1h-1zM114.97 92.17h1v1h-1zM104.84 87.36h1v1h-1zM103.36 93.92h1v1h-1zM114.82 98.1h1v1h-1zM115.58 90.31h1v1h-1zM113.42 95.99h1v1h-1zM114.36 101.63h1v1h-1zM106.85 84.64h1v1h-1zM114.49 91.74h1v1h-1zM107.92 95.1h1v1h-1zM101.69 85.19h1v1h-1zM106.07 93.76h1v1h-1zM112.83 95.35h1v1h-1zM101.13 87.13h1v1h-1zM114.58 92.05h1v1h-1zM118.9 88.94h1v1h-1zM97.29 77.91h1v1h-1zM105.99 101.45h1v1h-1zM112.39 86.18h1v1h-1zM119.19 103.06h1v1h-1zM123.8 97.66h1v1h-1zM95.74 68.36h1v1h-1zM102.96 74.55h1v1h-1zM111.67 95.47h1v1h-1zM101.06 75.02h1v1h-1zM119.46 96.99h1v1h-1zM112.82 96.88h1v1h-1zM112.11 98.04h1v1h-1zM115.52 82.67h1v1h-1zM108.11 92.61h1v1h-1zM108.3 86.16h1v1h-1zM110.46 93.33h1v1h-1zM117.11 103.68h1v1h-1zM98.98 77.47h1v1h-1zM106.53 77.89h1v1h-1zM119.18 98.36h1v1h-1zM96.13 79.45h1v1h-1zM105.61 90.43h1v1h-1zM121.55 109.16h1v1h-1zM114.95 101.2h1v1h-1zM113.42 96.8h1v1h-1zM88.51 72.03h1v1h-1zM118.91 104.38h1v1h-1zM104.73 89.62h1v1h-1zM108.9 81.72h1v1h-1zM98.82 73.63h1v1h-1zM102.03 81.77h1v1h-1zM105.07 72.59h1v1h-1zM106.1 86.59h1v1h-1zM110.15 85.06h1v1h-1zM105.82 83.43h1v1h-1zM116.15 97.11h1v1h-1zM95.95 72.97h1v1h-1zM107.57 86.99h1v1h-1zM112.95 95.51h1v1h-1zM120.24 96.13h1v1h-1zM113.46 93.01h1v1h-1zM105.7 82.67h1v1h-1zM99.74 74.37h1v1h-1zM109.89 80.17h1v1h-1zM111.37 97.41h1v1h-1zM113.52 98.37h1v1h-1zM113.95 84.77h1v1h-1zM114.62 96.32h1v1h-1zM115.07 89.37h1v1h-1zM117.17 105.09h1v1h-1zM114.95 100.53h1v1h-1zM103.63 76.78h1v1h-1zM106.4 80.37h1v1h-1zM121.81 102.97h1v1h-1zM103.35 80.22h1v1h-1zM106.18 79.9h1v1h-1zM108.53 88.66h1v1h-1zM115.21 96.59h1v1h-1zM98.59 74.37h1v1h-1zM109.67 94.52h1v1h-1zM104.54 88.08h1v1h-1zM103.1 76.18h1v1h-1zM106.64 82.23h1v1h-1zM113.45 102.03h1v1h-1zM104.95 72.04h1v1h-1zM105.62 82.2h1v1h-1zM114.53 92.08h1v1h-1zM111.11 92.61h1v1h-1zM109.06 95.97h1v1h-1zM98.76 75.41h1v1h-1zM97.82 70.63h1v1h-1zM108.04 87.68h1v1h-1zM113.72 97.42h1v1h-1zM106.44 84.85h1v1h-1zM107.11 86.01h1v1h-1zM112.19 93.44h1v1h-1zM108.21 93.52h1v1h-1zM99.69 82.5h1v1h-1zM105.35 89.41h1v1h-1zM111.82 97.69h1v1h-1zM100.65 75.82h1v1h-1zM112.98 103.67h1v1h-1zM105.17 83.06h1v1h-1zM111.14 101.77h1v1h-1zM105.22 79.28h1v1h-1zM105.28 93.99h1v1h-1zM113.67 100.35h1v1h-1zM103.15 72.1h1v1h-1zM118.14 105.18h1v1h-1zM101.21 74.82h1v1h-1zM94.39 70.94h1v1h-1zM109.88 101.47h1v1h-1zM109.2 83.56h1v1h-1zM98.92 69.17h1v1h-1zM98.98 97.18h1v1h-1zM113.19 82.44h1v1h-1zM115.29 103.75h1v1h-1zM116.2 99.13h1v1h-1zM113.84 98.49h1v1h-1zM106.88 89.32h1v1h-1zM113.76 94.66h1v1h-1zM113.17 88.71h1v1h-1zM109.7 74.21h1v1h-1zM112.97 96.68h1v1h-1zM106.21 82.54h1v1h-1zM111.83 81.07h1v1h-1zM99.69 75.88h1v1h-1zM99.38 74.64h1v1h-1zM113.46 85.12h1v1h-1zM113.18 97.09h1v1h-1zM113.36 97.42h1v1h-1zM100.94 78.87h1v1h-1zM109.86 90.92h1v1h-1zM110.04 78.66h1v1h-1zM109.11 77.08h1v1h-1zM108.49 84.29h1v1h-1zM110.85 85.85h1v1h-1zM122.78 97.93h1v1h-1zM97.35 79.82h1v1h-1zM104.85 88.66h1v1h-1zM119.65 98.07h1v1h-1zM109.43 90.6h1v1h-1zM101.38 84.99h1v1h-1zM114.85 95.23h1v1h-1zM99.47 68.06h1v1h-1zM120.48 106.32h1v1h-1zM99.25 81.35h1v1h-1zM121 99.98h1v1h-1zM111.02 94.29h1v1h-1zM118.21 105.05h1v1h-1zM106.69 91.56h1v1h-1zM108.43 91.25h1v1h-1zM100.36 74.26h1v1h-1zM104.52 93.48h1v1h-1zM110.31 90.92h1v1h-1zM108.35 80.86h1v1h-1zM111.21 96.9h1v1h-1zM105.61 92.19h1v1h-1zM115.6 95.39h1v1h-1zM114.65 98.64h1v1h-1zM98.86 82.2h1v1h-1zM111.98 94.85h1v1h-1zM99.74 72.97h1v1h-1zM111.04 96.7h1v1h-1zM115.04 101.97h1v1h-1zM112.14 91.64h1v1h-1zM111.76 91.8h1v1h-1zM108.78 81.31h1v1h-1zM99.16 77.92h1v1h-1zM115.94 96.56h1v1h-1zM101.67 81.09h1v1h-1zM106.14 94.56h1v1h-1zM102.01 73.38h1v1h-1zM118.79 89.91h1v1h-1zM104.3 87.03h1v1h-1zM112.57 91.12h1v1h-1zM93.98 76.67h1v1h-1zM106.58 94.75h1v1h-1zM116.72 93.12h1v1h-1zM103.27 87.23h1v1h-1zM108.39 95.36h1v1h-1zM101.4 73.91h1v1h-1zM106.72 82.17h1v1h-1zM98.42 81.82h1v1h-1zM115.25 93.91h1v1h-1zM103.6 85.19h1v1h-1zM115.37 98.54h1v1h-1zM118.93 97.33h1v1h-1zM94.73 81.72h1v1h-1zM115.16 94.58h1v1h-1zM119.33 91.48h1v1h-1zM115.04 98.55h1v1h-1zM104.57 71.09h1v1h-1zM98.98 81.31h1v1h-1zM109.84 84.58h1v1h-1zM120.33 90.43h1v1h-1zM102.33 75.3h1v1h-1zM119.91 101.92h1v1h-1zM109.41 95.04h1v1h-1zM93.45 75.44h1v1h-1zM111.95 98.66h1v1h-1zM105.46 83.07h1v1h-1zM103.6 82.54h1v1h-1zM103.83 93.17h1v1h-1zM114.94 89h1v1h-1zM107.5 93.85h1v1h-1zM100.65 77.78h1v1h-1zM108.68 74.56h1v1h-1zM96.19 66.04h1v1h-1zM97.81 73.08h1v1h-1zM112.22 88.01h1v1h-1zM100.62 90.12h1v1h-1zM102.54 74.3h1v1h-1zM118.09 99.7h1v1h-1zM99.49 71.63h1v1h-1zM96.49 75.24h1v1h-1zM101.53 76.06h1v1h-1zM111 81.96h1v1h-1zM114.18 89.72h1v1h-1zM100.32 71.09h1v1h-1zM101.49 74.29h1v1h-1zM92.1 73.69h1v1h-1zM106.32 87.71h1v1h-1zM119.08 99.21h1v1h-1zM111.54 87.02h1v1h-1zM111.01 103.38h1v1h-1zM122.06 103.25h1v1h-1zM104.25 81.37h1v1h-1zM113.1 85.73h1v1h-1zM103.59 89.61h1v1h-1zM110.26 84.42h1v1h-1zM112.24 94.18h1v1h-1zM107.6 86.14h1v1h-1zM103.57 92.02h1v1h-1zM102.36 79.88h1v1h-1zM123.3 103.4h1v1h-1zM108.8 94.66h1v1h-1zM105.29 95.63h1v1h-1zM114.41 94.93h1v1h-1zM118.51 105.84h1v1h-1zM100.34 74.19h1v1h-1zM111.87 80.54h1v1h-1zM123.1 99.64h1v1h-1zM113.2 90.63h1v1h-1zM118.26 98.56h1v1h-1zM102.7 88.38h1v1h-1zM119.04 94.98h1v1h-1zM106.25 82.15h1v1h-1zM109.69 94.84h1v1h-1zM114.52 100.42h1v1h-1zM105.79 81.22h1v1h-1zM104.83 88.46h1v1h-1zM103.26 89.97h1v1h-1zM102.72 74.9h1v1h-1zM100.83 72.17h1v1h-1zM115.45 97.48h1v1h-1zM113.11 97.52h1v1h-1zM97.4 79.86h1v1h-1zM102.11 87.11h1v1h-1zM99.81 86.5h1v1h-1zM112.71 101.05h1v1h-1zM98 83.81h1v1h-1zM100.55 73.35h1v1h-1zM101.31 93.43h1v1h-1zM120.96 107.83h1v1h-1zM114.48 88.57h1v1h-1zM116.47 105.24h1v1h-1zM97.27 77.97h1v1h-1zM102.63 81.66h1v1h-1zM116.58 93.45h1v1h-1zM118.55 87.11h1v1h-1zM103.42 75.14h1v1h-1zM105.66 81.86h1v1h-1zM98.79 75.31h1v1h-1zM113.41 93.59h1v1h-1zM103.68 87.9h1v1h-1zM111.77 94.64h1v1h-1zM113.95 88.13h1v1h-1z"/>
<path fill="#3444d4" d="M103.85 90.87h1v1h-1zM61.75 72.03h1v1h-1zM114.08 95.35h1v1h-1zM106.86 83.69h1v1h-1zM68.11 71.42h1v1h-1zM113.59 101.06h1v1h-1zM80.97 74.27h1v1h-1zM106.78 86.83h1v1h-1zM59.17 75.05h1v1h-1zM89.42 75.47h1v1h-1zM89.92 79.13h1v1h-1zM113.91 95.98h1v1h-1zM111.09 97.03h1v1h-1zM94.68 82.26h1v1h-1zM61.53 71.32h1v1h-1zM89.08 74.77h1v1h-1zM80.02 73.51h1v1h-1zM114.2 104.18h1v1h-1zM103.93 84.12h1v1h-1zM87.05 65.68h1v1h-1zM82.54 68.9h1v1h-1zM108.5 85.11h1v1h-1zM61.61 75.03h1v1h-1zM105.1 91.39h1v1h-1zM103.11 76.48h1v1h-1zM88.79 75.33h1v1h-1zM103.97 82.02h1v1h-1zM93.43 73.48h1v1h-1zM59.71 68.55h1v1h-1zM84.49 73.8h1v1h-1zM57.69 68.14h1v1h-1zM62.22 69.63h1v1h-1zM83.25 72.94h1v1h-1zM109.24 93.84h1v1h-1zM70.91 70.92h1v1h-1zM91.83 77.1h1v1h-1zM122.11 99.81h1v1h-1zM111.8 93.64h1v1h-1zM110.51 97.03h1v1h-1zM104.04 80.81h1v1h-1zM99.81 81.6h1v1h-1zM100.93 77.85h1v1h-1zM99.57 85.79h1v1h-1zM85.92 76.44h1v1h-1zM83.9 74.5h1v1h-1zM74.05 72.85h1v1h-1zM61.17 74.8h1v1h-1zM81.32 74.76h1v1h-1zM107.97 86.63h1v1h-1zM95.53 74.26h1v1h-1zM68.67 76.32h1v1h-1zM114.89 94.35h1v1h-1zM54.37 75.64h1v1h-1zM112.31 98.27h1v1h-1zM107.62 77.86h1v1h-1zM98.27 78.46h1v1h-1zM84.78 72.3h1v1h-1zM111.58 90.03h1v1h-1zM57.55 75.01h1v1h-1zM51.21 69.93h1v1h-1zM92.29 73.42h1v1h-1zM73.31 73.37h1v1h-1zM83.79 69.89h1v1h-1zM92.87 78.66h1v1h-1zM53.84 68.54h1v1h-1zM120.96 105.69h1v1h-1zM99.02 78.4h1v1h-1zM62.64 67.62h1v1h-1zM105.98 84.55h1v1h-1zM95.78 69.75h1v1h-1zM97.85 79.24h1v1h-1zM109.62 85.36h1v1h-1zM111.72 103.86h1v1h-1zM65.09 70.44h1v1h-1zM115.9 104.02h1v1h-1zM93.5 76.46h1v1h-1zM70.85 71.72h1v1h-1zM81.19 71.6h1v1h-1zM82.34 73.25h1v1h-1zM112.32 98.74h1v1h-1zM94.93 79.44h1v1h-1zM54.52 72.7h1v1h-1zM103.94 82.05h1v1h-1zM89.08 79.93h1v1h-1zM112.36 88.6h1v1h-1zM54.24 71.24h1v1h-1zM110.54 98.84h1v1h-1zM108.69 90.57h1v1h-1zM53.89 71.48h1v1h-1zM90.39 78.21h1v1h-1zM69.29 70.17h1v1h-1zM92.32 71.92h1v1h-1zM61.51 73.52h1v1h-1zM111.96 98.92h1v1h-1zM68.09 76.03h1v1h-1zM104.15 78.76h1v1h-1zM100.52 76.62h1v1h-1zM73.3 74.24h1v1h-1zM72.85 77.7h1v1h-1zM113.62 96.68h1v1h-1zM53.82 74.11h1v1h-1zM74.44 70.82h1v1h-1zM80.77 75.18h1v1h-1zM92.39 80.63h1v1h-1zM82.36 73.06h1v1h-1zM61.29 76.2h1v1h-1zM101.29 83.36h1v1h-1zM102.73 83.06h1v1h-1zM107.82 80.26h1v1h-1zM88.85 71.03h1v1h-1zM82.66 76.34h1v1h-1zM56.11 72.07h1v1h-1zM92.94 75.93h1v1h-1zM102.73 77.71h1v1h-1zM90.92 73.92h1v1h-1zM112.92 104.05h1v1h-1zM68.98 73.49h1v1h-1zM108.74 84.12h1v1h-1zM107.41 80.73h1v1h-1zM116.32 91.81h1v1h-1zM108.73 98.88h1v1h-1zM73.24 72.63h1v1h-1zM110.51 100.38h1v1h-1zM80.27 73.36h1v1h-1zM101.51 81.29h1v1h-1zM117.68 98.03h1v1h-1zM100.24 80.82h1v1h-1zM92.77 75.05h1v1h-1zM58.29 69.33h1v1h-1zM99.59 73.24h1v1h-1zM74.42 74.54h1v1h-1zM82.91 70.47h1v1h-1zM82.63 72.76h1v1h-1zM117.63 100.98h1v1h-1zM103.59 78.99h1v1h-1zM110.29 78.33h1v1h-1zM64.23 72.92h1v1h-1zM72.71 75.35h1v1h-1zM108.82 95.13h1v1h-1zM60.52 69.88h1v1h-1zM115.73 99.58h1v1h-1zM85.22 81.33h1v1h-1zM83.55 71.69h1v1h-1zM95.49 79.12h1v1h-1zM91.05 80.57h1v1h-1zM86.8 78.97h1v1h-1zM89.38 75.02h1v1h-1zM105.77 74.87h1v1h-1zM73.32 78.01h1v1h-1zM61.52 69.87h1v1h-1zM87.69 76.89h1v1h-1zM65.47 65.92h1v1h-1zM87.94 77.96h1v1h-1zM87.48 76.24h1v1h-1zM114.24 92.51h1v1h-1zM63.89 63.54h1v1h-1zM83.67 75.73h1v1h-1zM107.71 88.27h1v1h-1zM88.59 73.11h1v1h-1zM107.97 92.82h1v1h-1zM104.89 83.71h1v1h-1zM56.93 73.48h1v1h-1zM83.86 70.95h1v1h-1zM107.58 88.96h1v1h-1zM92.32 80.29h1v1h-1zM105.7 79.19h1v1h-1zM117.55 108.09h1v1h-1zM108.11 82.03h1v1h-1zM97.72 75.4h1v1h-1zM106.96 94.38h1v1h-1zM87.25 76.63h1v1h-1zM54.72 72.38h1v1h-1zM73.21 74.15h1v1h-1zM100.98 78.61h1v1h-1zM117.4 94.43h1v1h-1zM97.16 83.34h1v1h-1zM80.66 73.65h1v1h-1zM116.44 98.87h1v1h-1zM85.34 76.92h1v1h-1zM67.03 73.83h1v1h-1zM97.03 78.83h1v1h-1zM76.81 75.39h1v1h-1zM58.17 75.44h1v1h-1zM105.95 80.89h1v1h-1zM108.4 86.38h1v1h-1zM114.06 107.54h1v1h-1zM61.53 72.13h1v1h-1zM117.03 90.47h1v1h-1zM112.2 89.34h1v1h-1zM73.19 69.41h1v1h-1zM91.14 72.85h1v1h-1zM98.24 78.55h1v1h-1zM74.34 77.94h1v1h-1zM58.35 68.92h1v1h-1zM109.9 92.18h1v1h-1zM68.87 73.77h1v1h-1zM90.15 75.17h1v1h-1zM87.2 77.66h1v1h-1zM115.34 95.06h1v1h-1zM90.06 83.94h1v1h-1zM88.87 75.79h1v1h-1zM117.11 99.95h1v1h-1zM77.81 72.98h1v1h-1zM105.53 83.3h1v1h-1zM67.57 71.38h1v1h-1zM109.23 85.58h1v1h-1zM107.35 80.64h1v1h-1zM109.87 91.23h1v1h-1zM87.03 71.15h1v1h-1zM72.1 69.79h1v1h-1zM102.57 78.72h1v1h-1zM115.4 96.05h1v1h-1zM73.14 73.05h1v1h-1zM54.59 73.28h1v1h-1zM66.79 70.52h1v1h-1zM116.95 101.92h1v1h-1zM56.66 74.47h1v1h-1zM59.43 73.39h1v1h-1zM64.05 72.25h1v1h-1zM113.08 96.23h1v1h-1zM90 74.44h1v1h-1zM103.82 81.98h1v1h-1zM105.15 84.54h1v1h-1zM83.54 69.47h1v1h-1zM107.29 80.82h1v1h-1zM89.59 76.13h1v1h-1zM98.16 82.1h1v1h-1zM78.35 71.65h1v1h-1zM50.74 69.19h1v1h-1zM98.58 72.74h1v1h-1zM74.4 72.66h1v1h-1zM76.77 71.84h1v1h-1zM112.69 92.81h1v1h-1zM80.07 68.94h1v1h-1zM62.17 75.58h1v1h-1zM101.53 80.92h1v1h-1zM91.72 81.34h1v1h-1zM56.17 73.46h1v1h-1zM80.75 71.11h1v1h-1zM102.7 79.31h1v1h-1zM75.77 74.18h1v1h-1zM116.41 100.98h1v1h-1zM110.72 88.47h1v1h-1zM92.22 74.6h1v1h-1zM109.47 95.43h1v1h-1zM55.21 71.32h1v1h-1zM74.52 67.26h1v1h-1zM114.14 90.93h1v1h-1zM89.33 75.15h1v1h-1zM60.45 66.08h1v1h-1zM97.27 78.28h1v1h-1zM106.01 83.01h1v1h-1zM105.42 78.57h1v1h-1zM55 76.08h1v1h-1zM58.58 70.19h1v1h-1zM88.27 75.22h1v1h-1zM57.11 72.08h1v1h-1zM57.43 73.84h1v1h-1zM102.21 77.56h1v1h-1zM84.94 78.06h1v1h-1zM59.45 71.16h1v1h-1zM114.21 95.16h1v1h-1zM77.49 76.03h1v1h-1zM115.29 97.75h1v1h-1zM104.27 80.27h1v1h-1zM102.67 84.16h1v1h-1zM85.24 80.06h1v1h-1zM108.43 84.29h1v1h-1zM77.85 74.88h1v1h-1zM71.01 75.88h1v1h-1zM113.2 95.89h1v1h-1zM69.96 75.84h1v1h-1zM84.83 72.43h1v1h-1zM108.4 88.35h1v1h-1zM76.92 72.35h1v1h-1zM80.61 72.38h1v1h-1zM114.56 99.92h1v1h-1zM75.21 75.4h1v1h-1zM75.3 75.69h1v1h-1zM116.57 94.38h1v1h-1zM76.92 73.75h1v1h-1zM78.69 72.29h1v1h-1zM111.05 94.38h1v1h-1zM74.78 74.98h1v1h-1zM116.82 103.11h1v1h-1zM111.2 93.23h1v1h-1zM109.46 92.5h1v1h-1zM66.5 65.74h1v1h-1zM64.89 76.53h1v1h-1zM102.05 88.1h1v1h-1zM114.7 90.16h1v1h-1zM75.81 77.52h1v1h-1zM72.42 78.81h1v1h-1zM74.32 70.3h1v1h-1zM66.03 69.95h1v1h-1zM82.1 71.28h1v1h-1zM98.65 74.96h1v1h-1zM100.87 77.86h1v1h-1zM58.64 70.48h1v1h-1zM67.48 68.26h1v1h-1zM58.87 69.02h1v1h-1zM75.4 78.8h1v1h-1zM71.25 76.99h1v1h-1zM116.03 98.56h1v1h-1zM78.48 74.31h1v1h-1zM58.43 70.41h1v1h-1zM107.86 82.74h1v1h-1zM119.3 100.15h1v1h-1zM105.26 88.01h1v1h-1zM100.97 84.34h1v1h-1zM88.43 72.24h1v1h-1zM83.55 74.35h1v1h-1zM75.99 69.65h1v1h-1zM109.98 91.24h1v1h-1zM110.72 86.51h1v1h-1zM90.67 71.29h1v1h-1zM114.48 90.94h1v1h-1zM101.57 79.77h1v1h-1zM102.55 79.73h1v1h-1zM69.38 77.84h1v1h-1zM73.19 73.24h1v1h-1zM77.5 72h1v1h-1zM115.37 97.33h1v1h-1zM112.95 91.27h1v1h-1zM114.18 95.66h1v1h-1zM111.17 94.69h1v1h-1zM103.66 89.75h1v1h-1zM85.85 74.47h1v1h-1zM102.3 89.75h1v1h-1zM64.36 70.86h1v1h-1zM101.12 76.43h1v1h-1zM56.06 65.98h1v1h-1zM113.06 99.91h1v1h-1zM112.5 95.25h1v1h-1zM66.28 77.69h1v1h-1zM109.43 84.28h1v1h-1zM108.62 89.47h1v1h-1zM56.79 69.58h1v1h-1zM94.15 82.82h1v1h-1zM86.01 74.08h1v1h-1zM99.62 78.96h1v1h-1zM116.82 96.93h1v1h-1zM109.37 75.95h1v1h-1zM71.12 75.16h1v1h-1zM101.56 77.79h1v1h-1zM91.35 79.62h1v1h-1zM53.23 66.33h1v1h-1zM62.37 74.37h1v1h-1zM84.82 76.24h1v1h-1zM64.64 78.97h1v1h-1zM68.76 72.21h1v1h-1zM99.55 86.16h1v1h-1zM116.93 103.11h1v1h-1zM88.97 75.58h1v1h-1zM102.56 75.31h1v1h-1zM110.74 90.03h1v1h-1zM102.43 82.15h1v1h-1zM103.54 85.91h1v1h-1zM55.46 71.73h1v1h-1zM110.7 90.12h1v1h-1zM64.7 71.68h1v1h-1zM67.15 71.94h1v1h-1zM94.73 78.04h1v1h-1zM98.93 80.58h1v1h-1zM108.15 86.95h1v1h-1zM77.74 68.17h1v1h-1zM118.68 95.75h1v1h-1zM103.49 79.94h1v1h-1zM114.43 92.88h1v1h-1zM87.41 79.28h1v1h-1zM60.1 71.53h1v1h-1zM55.3 74.47h1v1h-1zM104.13 81.19h1v1h-1zM81.89 74.04h1v1h-1zM87.75 80.69h1v1h-1zM79.99 73.43h1v1h-1zM71.22 71.4h1v1h-1zM89.83 76.57h1v1h-1zM69.18 75.48h1v1h-1zM114.32 95.21h1v1h-1zM64.47 72.35h1v1h-1zM119.99 99.15h1v1h-1zM108.78 95.09h1v1h-1zM78.58 68.13h1v1h-1zM107.13 86.14h1v1h-1zM96.93 76.94h1v1h-1zM90.31 75.34h1v1h-1zM108.29 89.35h1v1h-1zM112.57 94.7h1v1h-1zM72.13 74.06h1v1h-1zM104.03 94.02h1v1h-1zM55.7 72.06h1v1h-1zM49.9 75.76h1v1h-1zM91.55 74.52h1v1h-1zM77.52 72.34h1v1h-1zM83.95 76.64h1v1h-1zM89.01 72.14h1v1h-1zM87.7 75.7h1v1h-1zM110.54 100.71h1v1h-1zM110.91 102.84h1v1h-1zM83.01 71.3h1v1h-1zM76.4 76.58h1v1h-1zM102.02 77.81h1v1h-1zM69.62 77.78h1v1h-1zM80.18 76.46h1v1h-1zM106 84.43h1v1h-1zM53.49 70.73h1v1h-1zM111.41 89.84h1v1h-1zM103.81 90.28h1v1h-1zM79.76 76.58h1v1h-1zM73.57 76.14h1v1h-1zM95.92 80.48h1v1h-1zM76.58 76.11h1v1h-1zM111.41 97.55h1v1h-1zM96.46 82.33h1v1h-1zM78.83 73.98h1v1h-1zM108.26 91.73h1v1h-1zM95.41 75.4h1v1h-1zM66.35 66.91h1v1h-1zM89.71 74.28h1v1h-1zM91.89 76.7h1v1h-1zM116.34 98.73h1v1h-1zM77.47 73.32h1v1h-1zM91.16 78.99h1v1h-1zM120.03 102.74h1v1h-1zM85.87 70.41h1v1h-1zM112.52 94.17h1v1h-1zM60.45 73.63h1v1h-1zM87.77 75.06h1v1h-1zM71.3 72.76h1v1h-1zM107.79 94.14h1v1h-1zM94.62 79.3h1v1h-1zM68.35 71.04h1v1h-1zM58.46 71.16h1v1h-1zM86.27 78.02h1v1h-1zM63.89 71.77h1v1h-1zM91.54 76.72h1v1h-1zM106.83 89.96h1v1h-1zM70.57 73.02h1v1h-1zM67.91 74.93h1v1h-1zM78.44 75.31h1v1h-1zM69.4 70.35h1v1h-1zM105.76 91.8h1v1h-1zM58.08 73.18h1v1h-1zM104.58 91.39h1v1h-1zM79.95 71.55h1v1h-1zM105.02 82.28h1v1h-1zM109.53 92.41h1v1h-1zM63.91 74.12h1v1h-1zM105.01 88.09h1v1h-1zM121.84 95.53h1v1h-1zM100.4 81.6h1v1h-1zM96.65 76.68h1v1h-1zM75.86 76.53h1v1h-1zM66.29 71.26h1v1h-1zM109.25 86.78h1v1h-1zM111.06 90.36h1v1h-1zM73.18 69.89h1v1h-1zM67.74 70.37h1v1h-1zM78.6 76.03h1v1h-1zM102.3 74.18h1v1h-1zM82.52 70.43h1v1h-1zM113.45 103.11h1v1h-1zM106.8 90.39h1v1h-1zM112.93 103.25h1v1h-1zM98.84 75.73h1v1h-1zM104.5 84.5h1v1h-1zM115.71 99.94h1v1h-1zM59.73 71.96h1v1h-1zM97.73 79.34h1v1h-1zM68.08 72.73h1v1h-1zM111.69 91.85h1v1h-1zM70.31 67.33h1v1h-1zM104.7 87.05h1v1h-1zM72.19 72.45h1v1h-1zM103.74 79.51h1v1h-1zM100.73 87.65h1v1h-1zM117.73 96.37h1v1h-1zM116.17 98.46h1v1h-1zM84 83.23h1v1h-1zM101.81 82.31h1v1h-1zM64.9 72.02h1v1h-1zM57.84 71.22h1v1h-1zM108.92 85.12h1v1h-1zM112.86 101.45h1v1h-1zM104.64 89.32h1v1h-1zM92.24 77.56h1v1h-1zM101.26 80.34h1v1h-1zM106.33 83.21h1v1h-1zM95.26 79.46h1v1h-1zM81.34 70.87h1v1h-1zM109.43 91.21h1v1h-1zM81.95 74.84h1v1h-1zM113.74 94.83h1v1h-1zM109.56 85.83h1v1h-1zM100.9 89.21h1v1h-1zM106.01 89.32h1v1h-1zM113.11 104.06h1v1h-1zM113.21 103.23h1v1h-1zM90.5 73h1v1h-1z"/>
<path fill="#5670e4" d="M78.1 75.74h1v1h-1zM107.68 87.85h1v1h-1zM121.17 101.73h1v1h-1zM101.93 79.55h1v1h-1zM56.33 70.38h1v1h-1zM54.41 77.09h1v1h-1zM83.71 76.57h1v1h-1zM110.26 89.38h1v1h-1zM109.98 95.01h1v1h-1zM81.1 71.2h1v1h-1zM92.88 75.63h1v1h-1zM91.1 78.71h1v1h-1zM58.16 72.35h1v1h-1zM52.31 72.74h1v1h-1zM93.68 77.61h1v1h-1zM89.19 74.29h1v1h-1zM109.34 94.44h1v1h-1zM70.01 74.73h1v1h-1zM109.94 93.43h1v1h-1zM69.91 66.33h1v1h-1zM92.1 75.26h1v1h-1zM100.78 78.73h1v1h-1zM66.61 68.9h1v1h-1zM110.07 106.12h1v1h-1zM115.86 99.24h1v1h-1zM117.78 98.76h1v1h-1zM58.72 66.98h1v1h-1zM97.96 80.08h1v1h-1zM101.08 85.99h1v1h-1zM107.74 92.84h1v1h-1zM69.96 73.42h1v1h-1zM66.29 72.09h1v1h-1zM116.06 88.88h1v1h-1zM74.31 75.03h1v1h-1zM58.03 70.14h1v1h-1zM59.58 69.09h1v1h-1zM98.53 78.92h1v1h-1zM89.79 78.13h1v1h-1zM102.42 92.29h1v1h-1zM114.48 93.26h1v1h-1zM53.48 69.67h1v1h-1zM117.87 98.94h1v1h-1zM113.92 92.8h1v1h-1zM117.41 96.11h1v1h-1zM108.25 82.59h1v1h-1zM81.03 75.72h1v1h-1zM71.43 71.04h1v1h-1zM115.82 96.83h1v1h-1zM89.24 67.83h1v1h-1zM92.31 77.55h1v1h-1zM100.28 79.5h1v1h-1zM106.71 79.64h1v1h-1zM102.62 84.71h1v1h-1zM99.49 80.86h1v1h-1zM89.7 77.33h1v1h-1zM110.97 88.41h1v1h-1zM77.47 76.32h1v1h-1zM73.95 69.88h1v1h-1zM117.42 91.77h1v1h-1zM116.41 90.78h1v1h-1zM110.18 84.3h1v1h-1zM62.84 71.56h1v1h-1zM58.28 72.62h1v1h-1zM116.96 95.1h1v1h-1zM116.1 101.18h1v1h-1zM73.75 69.92h1v1h-1zM98.09 81.82h1v1h-1zM57.55 68.83h1v1h-1zM79.78 77.98h1v1h-1zM100.51 84.02h1v1h-1zM78.87 68.84h1v1h-1zM109.87 89.47h1v1h-1zM117.68 103.6h1v1h-1zM63.77 74.02h1v1h-1zM107.16 81.19h1v1h-1zM79.81 78.78h1v1h-1zM66.08 71.28h1v1h-1zM79.47 73.35h1v1h-1zM88.46 78.11h1v1h-1zM116.51 94.84h1v1h-1zM103.78 87.5h1v1h-1zM49.94 69.46h1v1h-1zM61.69 77.68h1v1h-1zM117.69 99.35h1v1h-1zM97.96 71.02h1v1h-1zM97.49 83.47h1v1h-1zM82.72 69.8h1v1h-1zM105.64 94.1h1v1h-1zM95.6 75.8h1v1h-1zM99.44 76.9h1v1h-1zM67.26 74.66h1v1h-1zM106.4 85.16h1v1h-1zM66.29 72.59h1v1h-1zM61.99 72.86h1v1h-1zM97.81 81.82h1v1h-1zM109.36 89.81h1v1h-1zM70.41 69.72h1v1h-1zM78.85 81.84h1v1h-1zM61.63 68.11h1v1h-1zM99.97 80.25h1v1h-1zM106.05 87.92h1v1h-1zM58.79 70.16h1v1h-1zM96.76 81.68h1v1h-1zM94.01 76.3h1v1h-1zM63.29 74.14h1v1h-1zM95.21 74.71h1v1h-1zM75.53 75.4h1v1h-1zM66.95 67.83h1v1h-1zM117.76 102.94h1v1h-1zM63.52 71.14h1v1h-1zM78.02 72.39h1v1h-1zM97.13 76.6h1v1h-1zM82.87 73.18h1v1h-1zM58.43 67.7h1v1h-1zM111.63 92.26h1v1h-1zM76.33 72.96h1v1h-1zM83.96 77.04h1v1h-1zM113.57 95.4h1v1h-1zM120.13 102.88h1v1h-1zM118.61 100.53h1v1h-1zM87.2 75.06h1v1h-1zM103.7 88.11h1v1h-1zM111.32 94.74h1v1h-1zM68.87 69.69h1v1h-1zM112.81 102.86h1v1h-1zM65.33 70.13h1v1h-1zM103.78 85.14h1v1h-1zM69.64 71.24h1v1h-1zM67.01 75.31h1v1h-1zM65.11 69.77h1v1h-1zM109.91 98.51h1v1h-1zM66.54 70.22h1v1h-1zM112.33 98.91h1v1h-1zM62.97 71.44h1v1h-1zM80.57 71.23h1v1h-1zM67.59 72.6h1v1h-1zM116.14 101.4h1v1h-1zM61.57 71.58h1v1h-1zM108.95 91.74h1v1h-1zM77.99 76.28h1v1h-1zM118.98 97.28h1v1h-1zM110.29 88.66h1v1h-1zM73.86 73.97h1v1h-1zM94.73 81.69h1v1h-1zM63.16 72.98h1v1h-1zM84.31 74.07h1v1h-1zM59.21 73.59h1v1h-1zM100.92 81.61h1v1h-1zM99.02 74.58h1v1h-1zM77.04 72.46h1v1h-1zM55.39 72.29h1v1h-1zM119.78 98.96h1v1h-1zM62.42 76.08h1v1h-1zM77.32 71.97h1v1h-1zM51.86 74.35h1v1h-1zM83.71 75.67h1v1h-1zM84.79 74.2h1v1h-1zM91.86 74.77h1v1h-1zM79.7 73.78h1v1h-1zM77.58 70.22h1v1h-1zM107.36 85.77h1v1h-1zM79.06 69.24h1v1h-1zM81.31 77.68h1v1h-1zM90.57 78.29h1v1h-1zM68.62 71.61h1v1h-1zM101.34 85.53h1v1h-1zM60.35 68.74h1v1h-1zM81.14 74.44h1v1h-1zM84.27 73.42h1v1h-1zM69.32 71.99h1v1h-1zM116.92 90.25h1v1h-1zM81.96 72.32h1v1h-1zM88.06 76.15h1v1h-1zM88.66 70.68h1v1h-1zM109 95.08h1v1h-1zM69.87 73.82h1v1h-1zM109.05 86.2h1v1h-1zM116.19 100.41h1v1h-1zM72.48 71.56h1v1h-1zM67.67 69.69h1v1h-1zM109.89 88.31h1v1h-1zM70.91 72.86h1v1h-1zM69.52 69.73h1v1h-1zM61.04 69.53h1v1h-1zM101.39 82.41h1v1h-1zM114.95 94.31h1v1h-1zM110.33 97.66h1v1h-1zM97.33 76.23h1v1h-1zM86.84 76.68h1v1h-1zM116.78 103.22h1v1h-1zM100.32 80.56h1v1h-1zM114.55 99.96h1v1h-1zM98.24 82.13h1v1h-1zM100.89 87.23h1v1h-1zM109.43 88.3h1v1h-1zM65.86 69.73h1v1h-1zM75.9 71.89h1v1h-1zM60.71 68.44h1v1h-1zM112.7 99.79h1v1h-1zM121.82 102.51h1v1h-1zM105.7 86.94h1v1h-1zM62.18 71.17h1v1h-1zM60.71 70.73h1v1h-1zM86.14 75.2h1v1h-1zM86.3 77.16h1v1h-1zM69.6 71.75h1v1h-1zM61.1 71.36h1v1h-1zM103.62 80.71h1v1h-1zM110.51 85.4h1v1h-1zM61.04 76.06h1v1h-1zM77.97 69.2h1v1h-1zM80.64 72.17h1v1h-1zM86.23 76.59h1v1h-1zM100.95 80.13h1v1h-1zM88.58 76.55h1v1h-1zM112.23 88.39h1v1h-1zM80.35 74.99h1v1h-1zM78.93 70.22h1v1h-1zM106.19 88.91h1v1h-1zM105.48 86.87h1v1h-1zM111.65 95.54h1v1h-1zM65.5 64.84h1v1h-1zM69.03 67.96h1v1h-1zM90.78 75.43h1v1h-1zM116.49 102.65h1v1h-1zM98.82 81.88h1v1h-1zM104.12 80.73h1v1h-1zM82.56 71.72h1v1h-1zM119.23 103.11h1v1h-1zM65.05 71.37h1v1h-1zM94.5 76.12h1v1h-1zM103.78 85.19h1v1h-1zM108.84 90.7h1v1h-1zM105.67 90.88h1v1h-1zM86.54 76.75h1v1h-1zM75.92 71.22h1v1h-1zM113.4 101.35h1v1h-1zM91.73 73.98h1v1h-1zM78.1 70.24h1v1h-1zM69.68 67.09h1v1h-1zM110.73 86.52h1v1h-1zM111.72 89.91h1v1h-1zM96.88 77.57h1v1h-1zM81.75 75.85h1v1h-1zM107.01 79.65h1v1h-1zM118.75 101.89h1v1h-1zM97.28 84.57h1v1h-1zM102.63 86.87h1v1h-1zM107.29 94.23h1v1h-1zM106.85 97.9h1v1h-1zM91.68 81.33h1v1h-1zM71.29 70.27h1v1h-1zM106.12 88.06h1v1h-1zM111.07 92.37h1v1h-1zM117 96.18h1v1h-1zM63.26 72.21h1v1h-1zM64.21 68.46h1v1h-1zM100.43 79.77h1v1h-1zM109.96 93.47h1v1h-1zM60.09 71.45h1v1h-1zM95.82 76.29h1v1h-1zM75.13 68.08h1v1h-1zM117.71 101.01h1v1h-1zM79 75.9h1v1h-1zM58.26 68.5h1v1h-1zM106.72 88.71h1v1h-1zM84.68 67.02h1v1h-1zM85.61 74.2h1v1h-1zM66.65 70.08h1v1h-1zM71.93 77.38h1v1h-1zM60.98 70.98h1v1h-1zM69.56 69.37h1v1h-1zM95.94 80.72h1v1h-1zM79.06 71.35h1v1h-1zM104.53 80.65h1v1h-1zM113.5 96.81h1v1h-1zM98.98 76.4h1v1h-1zM55.74 71.87h1v1h-1zM115.66 97.96h1v1h-1zM73.95 70.42h1v1h-1zM82.34 74.36h1v1h-1zM97.12 70.59h1v1h-1zM106.09 78.8h1v1h-1zM76.3 74.08h1v1h-1zM93.72 76.71h1v1h-1zM97.2 78.31h1v1h-1zM92.3 71.52h1v1h-1zM74.92 71.99h1v1h-1zM91.24 73.89h1v1h-1zM86.83 72.39h1v1h-1zM73.77 75.84h1v1h-1zM100.69 73.89h1v1h-1zM94.38 78.46h1v1h-1zM83.29 75.37h1v1h-1zM106.09 82.57h1v1h-1zM108.11 88.52h1v1h-1zM101.23 76.9h1v1h-1zM79.65 69.37h1v1h-1zM114.72 98.45h1v1h-1zM58.88 73.46h1v1h-1zM115.1 93.8h1v1h-1zM81.85 78.55h1v1h-1zM84.57 74.36h1v1h-1zM109.23 92.46h1v1h-1zM106.36 82.62h1v1h-1zM114.72 99.24h1v1h-1zM111.07 96.48h1v1h-1zM68.15 68h1v1h-1zM91.84 75.31h1v1h-1zM105.76 88.7h1v1h-1zM61.78 66.84h1v1h-1zM91.78 80.6h1v1h-1zM117.54 103.92h1v1h-1zM70.63 71.16h1v1h-1zM64.13 69.62h1v1h-1zM72.69 72.9h1v1h-1zM82.6 70.76h1v1h-1zM78.64 74.87h1v1h-1zM84.1 75.1h1v1h-1zM110.45 93.65h1v1h-1zM94.82 72.95h1v1h-1zM94.2 81.48h1v1h-1zM62.55 72.22h1v1h-1zM59.8 75.39h1v1h-1zM111.57 102.77h1v1h-1zM77.86 75.85h1v1h-1zM118.75 95.43h1v1h-1zM80.5 72.79h1v1h-1zM100.65 80.36h1v1h-1zM99.7 78.61h1v1h-1zM62.65 73.37h1v1h-1zM57.68 66.78h1v1h-1zM93.94 78.41h1v1h-1zM64.65 68.13h1v1h-1zM74.69 73.69h1v1h-1zM66.07 76.29h1v1h-1zM78.04 74.38h1v1h-1zM85.4 72.93h1v1h-1zM75.27 74.02h1v1h-1zM78.57 72.76h1v1h-1zM91.48 76.74h1v1h-1zM108.15 81.92h1v1h-1zM54.21 71.1h1v1h-1zM120.99 101.15h1v1h-1zM86.62 74.03h1v1h-1zM115.14 98.52h1v1h-1zM52.14 70.7h1v1h-1zM60.97 74.16h1v1h-1zM64.1 73.44h1v1h-1zM112.64 96.07h1v1h-1z"/>
<path fill="#8c94dc" d="M87.73 71.39h1v1h-1zM110.91 87.4h1v1h-1zM103.49 81.09h1v1h-1zM57.17 72.59h1v1h-1zM79.21 72.94h1v1h-1zM78.3 71.43h1v1h-1zM92.19 74.07h1v1h-1zM107.87 82.99h1v1h-1zM58.93 70h1v1h-1zM113.23 96.35h1v1h-1zM90.29 80.36h1v1h-1zM81.24 73.65h1v1h-1zM103.64 90.49h1v1h-1zM79.51 74.32h1v1h-1zM107.45 82.13h1v1h-1zM84.95 75.4h1v1h-1zM90.34 73.52h1v1h-1zM66.1 73.09h1v1h-1zM70.27 65.8h1v1h-1zM111.91 97.32h1v1h-1zM95.33 78.83h1v1h-1zM81.72 77.27h1v1h-1zM105.09 84.46h1v1h-1zM112.67 103.81h1v1h-1zM64.3 67.64h1v1h-1zM118.15 103.43h1v1h-1zM59.71 67.71h1v1h-1zM95.3 78.36h1v1h-1zM75.02 73.59h1v1h-1zM76.16 68.18h1v1h-1zM88.88 75.9h1v1h-1zM101.53 80.33h1v1h-1zM85.74 72.27h1v1h-1zM108.03 86.95h1v1h-1zM122.74 99.1h1v1h-1zM71.41 67.92h1v1h-1zM70.44 70.32h1v1h-1zM98.2 76.64h1v1h-1zM83.42 74.57h1v1h-1zM76.56 75.18h1v1h-1zM91.72 76.45h1v1h-1zM108.9 84.12h1v1h-1zM113.89 96.79h1v1h-1zM114.85 100.61h1v1h-1zM107.78 94.18h1v1h-1zM84.65 77.05h1v1h-1zM111.11 90.67h1v1h-1zM104.1 84.44h1v1h-1zM69.58 70.92h1v1h-1zM114.28 104.13h1v1h-1zM70.82 75.4h1v1h-1zM106.46 78.69h1v1h-1zM105.37 81.52h1v1h-1zM110.73 91.55h1v1h-1zM98.55 82.83h1v1h-1zM115.17 102.57h1v1h-1zM55.45 70.13h1v1h-1zM56 66.79h1v1h-1zM64.09 72.96h1v1h-1zM97.52 75.48h1v1h-1zM85.7 76.82h1v1h-1zM65.41 68.41h1v1h-1zM71.05 77.81h1v1h-1zM97.57 82.41h1v1h-1zM77.03 78.72h1v1h-1zM107.72 81.98h1v1h-1zM91.39 78.73h1v1h-1zM115.71 98.2h1v1h-1zM107.46 84.9h1v1h-1zM89.91 76.17h1v1h-1zM82.19 72.57h1v1h-1zM70.33 74.44h1v1h-1zM77.02 79.47h1v1h-1zM86.96 70.63h1v1h-1zM79.67 70.27h1v1h-1zM64.25 73.05h1v1h-1zM86.82 72.89h1v1h-1zM61.68 73.32h1v1h-1zM110.91 93.17h1v1h-1zM97.95 78.74h1v1h-1zM62.47 73.68h1v1h-1zM75.89 74.1h1v1h-1zM71.51 75.4h1v1h-1zM68.16 68.24h1v1h-1zM94 72.68h1v1h-1zM71.22 72.13h1v1h-1zM63.01 68.01h1v1h-1zM104.13 83.46h1v1h-1zM84.38 76.65h1v1h-1zM99.33 81.92h1v1h-1zM89.4 70.47h1v1h-1zM92.81 72.85h1v1h-1zM70.36 71.48h1v1h-1zM85.51 77.56h1v1h-1zM88.82 80.22h1v1h-1zM83.98 76.82h1v1h-1zM114.09 92.37h1v1h-1zM71.05 74.21h1v1h-1zM73.46 72.71h1v1h-1zM79.31 69.25h1v1h-1zM110.66 89.66h1v1h-1zM107.4 93.07h1v1h-1zM98.44 77.51h1v1h-1zM83.48 76.13h1v1h-1zM97.79 79.87h1v1h-1zM111.71 94h1v1h-1zM76.41 66.83h1v1h-1zM102.87 83.75h1v1h-1zM108.84 88.82h1v1h-1zM80.78 73.35h1v1h-1zM61.95 73.51h1v1h-1zM95.58 82.46h1v1h-1zM72.59 73.29h1v1h-1zM75.57 72.15h1v1h-1zM97.07 73.16h1v1h-1zM114.81 100.13h1v1h-1zM67.65 71.98h1v1h-1zM60.32 69.68h1v1h-1zM94.52 76.72h1v1h-1zM116.84 98.61h1v1h-1zM60.39 66.25h1v1h-1zM105.07 79.89h1v1h-1zM59.22 71.48h1v1h-1zM97.83 81.69h1v1h-1zM61.42 71.29h1v1h-1zM102.1 81.86h1v1h-1zM76.62 73.49h1v1h-1zM101.62 78.77h1v1h-1zM72.98 68.08h1v1h-1zM63.63 72.21h1v1h-1zM73.17 69.02h1v1h-1zM71.37 73.51h1v1h-1zM61.7 71.95h1v1h-1zM67 70.77h1v1h-1zM95.62 77.33h1v1h-1zM92.33 76.99h1v1h-1zM106.57 94.1h1v1h-1zM87.6 76.56h1v1h-1zM90.97 74.74h1v1h-1zM109.1 82.4h1v1h-1zM109.49 91.55h1v1h-1zM96.85 82.51h1v1h-1zM53.32 67.62h1v1h-1zM90.24 71.01h1v1h-1zM55.3 74.43h1v1h-1zM99.17 77.6h1v1h-1zM56.81 68.35h1v1h-1zM92.84 77.48h1v1h-1zM68.89 73.92h1v1h-1zM109.77 91.18h1v1h-1zM63.06 65.73h1v1h-1zM101.31 80.31h1v1h-1zM101.84 80.72h1v1h-1zM75.76 67.94h1v1h-1zM95.66 76.72h1v1h-1zM79.1 69.53h1v1h-1zM76.64 71.57h1v1h-1zM72.83 71.42h1v1h-1zM53.12 68.43h1v1h-1zM106.57 82.48h1v1h-1zM58.99 73.72h1v1h-1zM66.79 73.43h1v1h-1zM60.51 68.3h1v1h-1zM111.56 85.53h1v1h-1zM95.57 74.3h1v1h-1zM90.27 79.59h1v1h-1zM99.18 76.53h1v1h-1zM109.43 89h1v1h-1zM97.07 76.28h1v1h-1zM92.61 78.03h1v1h-1zM72.5 72.93h1v1h-1zM94.18 76.86h1v1h-1zM113.42 104.88h1v1h-1zM93.1 79.67h1v1h-1zM94.35 69.97h1v1h-1zM113.25 96.23h1v1h-1zM58.56 68.72h1v1h-1zM57.69 66.86h1v1h-1zM109.13 90.28h1v1h-1zM112.65 96.26h1v1h-1zM56.27 70.89h1v1h-1zM55.75 70.79h1v1h-1zM54.67 67.44h1v1h-1zM89.26 79.75h1v1h-1zM68.3 66.92h1v1h-1zM94.03 78.38h1v1h-1zM105.38 83.17h1v1h-1zM58.55 70.97h1v1h-1zM112.97 95.26h1v1h-1zM71.69 75.66h1v1h-1zM97.18 80.09h1v1h-1zM79.41 76.61h1v1h-1zM76.74 74.64h1v1h-1zM76.82 71.55h1v1h-1zM56.09 69.91h1v1h-1zM86.64 70.22h1v1h-1zM78.25 74.09h1v1h-1zM80.72 74.91h1v1h-1zM67.08 75.1h1v1h-1zM79.71 69.21h1v1h-1zM103.93 86.8h1v1h-1zM117.71 100.44h1v1h-1zM70.46 71.85h1v1h-1zM113.38 89.35h1v1h-1zM97.14 80.97h1v1h-1zM60.79 71.79h1v1h-1zM60.39 70.23h1v1h-1zM112.99 93.42h1v1h-1zM69.74 71.79h1v1h-1zM57.7 64.85h1v1h-1zM106.06 80.58h1v1h-1zM108.17 83.94h1v1h-1zM113.15 97.64h1v1h-1zM93.48 72.77h1v1h-1zM80.81 70.29h1v1h-1zM78.43 80.38h1v1h-1zM69.53 76.35h1v1h-1zM100.06 81.56h1v1h-1zM114.67 100.06h1v1h-1zM57.75 68.14h1v1h-1zM83.94 69.74h1v1h-1zM77.98 75.46h1v1h-1zM58.09 68.2h1v1h-1zM95.14 78.92h1v1h-1zM115.04 102.01h1v1h-1zM74.2 77.79h1v1h-1zM104.68 79.32h1v1h-1zM113.27 96.12h1v1h-1zM74.72 67.93h1v1h-1zM116.84 97.24h1v1h-1zM106.75 81.7h1v1h-1zM102.98 80.18h1v1h-1zM72.33 70.32h1v1h-1zM71.3 72.92h1v1h-1zM58.88 71.98h1v1h-1zM109.7 95.42h1v1h-1zM108.82 89.92h1v1h-1zM58.87 68.46h1v1h-1zM93.56 75.13h1v1h-1zM70.37 70.97h1v1h-1zM101.31 87.08h1v1h-1zM100.67 78.72h1v1h-1zM116.33 100.37h1v1h-1zM104.6 81.11h1v1h-1zM63.68 73.77h1v1h-1zM83.54 75.16h1v1h-1zM98.08 77.88h1v1h-1zM114.14 96.89h1v1h-1zM82.73 71.28h1v1h-1zM66.27 73.01h1v1h-1zM74.29 65.86h1v1h-1zM72.93 65.78h1v1h-1zM70.87 73.02h1v1h-1zM81.67 71.68h1v1h-1zM69.5 71.61h1v1h-1zM92.27 74.23h1v1h-1zM113.15 97.62h1v1h-1zM116.67 96.79h1v1h-1zM59.86 71.07h1v1h-1zM94.67 79.02h1v1h-1zM107.81 86.42h1v1h-1zM66.18 74.11h1v1h-1zM98.38 76.93h1v1h-1zM69.73 73.96h1v1h-1zM81.23 72.47h1v1h-1zM76.23 73.28h1v1h-1zM108 92.67h1v1h-1zM70.63 76.1h1v1h-1zM97.8 73.54h1v1h-1zM100.67 77.16h1v1h-1zM82.58 74.79h1v1h-1zM113.96 99.94h1v1h-1zM77.41 74.32h1v1h-1zM79.58 72.92h1v1h-1zM105.41 80.11h1v1h-1zM92.13 72.66h1v1h-1zM107.6 86.1h1v1h-1zM67.42 69.54h1v1h-1zM73.49 70.44h1v1h-1zM106.82 83.42h1v1h-1zM87.18 72.99h1v1h-1zM114.13 90.71h1v1h-1zM72.43 71.08h1v1h-1zM74.66 71.39h1v1h-1zM109.26 94.99h1v1h-1zM77.95 71.28h1v1h-1zM64.33 65.8h1v1h-1zM72.7 70.85h1v1h-1zM105.44 88.3h1v1h-1zM75.76 70.93h1v1h-1zM95.18 79.7h1v1h-1zM112.65 91.73h1v1h-1zM97.42 76.51h1v1h-1zM105.58 88.47h1v1h-1zM117.58 102.18h1v1h-1zM80.41 72.2h1v1h-1zM111.14 93.6h1v1h-1zM100.6 71.75h1v1h-1zM70.03 72.99h1v1h-1zM64.14 77.5h1v1h-1zM81.98 75.59h1v1h-1zM61.96 72.5h1v1h-1zM107.1 87.95h1v1h-1zM96.39 76.29h1v1h-1zM59.03 75.6h1v1h-1zM115.14 95.43h1v1h-1zM93.3 81.73h1v1h-1zM90.36 74.79h1v1h-1zM63.4 72.98h1v1h-1zM87.21 78.01h1v1h-1zM110.86 94.94h1v1h-1zM97.83 74.46h1v1h-1zM88.65 77.1h1v1h-1zM95.88 81.66h1v1h-1zM93.87 78.94h1v1h-1zM101.15 78.36h1v1h-1zM67.7 67.16h1v1h-1zM63.42 69.14h1v1h-1zM59.4 74.17h1v1h-1zM106.86 93.98h1v1h-1zM54.83 70.42h1v1h-1zM74.7 74.7h1v1h-1zM96.33 77.74h1v1h-1zM92.13 73.76h1v1h-1zM113.74 96.22h1v1h-1zM68.36 69.72h1v1h-1zM63.52 73.5h1v1h-1zM67.13 69.01h1v1h-1zM93.58 76.87h1v1h-1zM77.71 76.17h1v1h-1zM85.94 75.23h1v1h-1zM102.66 80.46h1v1h-1zM83.81 76.02h1v1h-1zM98.21 82.81h1v1h-1zM53.98 74.48h1v1h-1zM95.35 76.87h1v1h-1zM113.86 97.88h1v1h-1zM114.58 98.02h1v1h-1zM96.56 79.49h1v1h-1zM113.29 101.87h1v1h-1zM71.57 70.98h1v1h-1zM78.59 69.62h1v1h-1zM86.87 73.16h1v1h-1zM93.85 75.36h1v1h-1zM110.27 92.04h1v1h-1zM83.48 76.69h1v1h-1zM55.64 70.5h1v1h-1zM104.66 85.66h1v1h-1zM72.94 76.92h1v1h-1zM113.01 93.89h1v1h-1z"/>
<path fill="#8a90dc" d="M87.66 77.83h1v1h-1zM78.62 77.81h1v1h-1zM85.91 65.29h1v1h-1zM58.56 70.4h1v1h-1zM81.46 79.84h1v1h-1zM111.37 86.75h1v1h-1zM94.26 83.12h1v1h-1zM62.55 69.82h1v1h-1zM114.09 92.46h1v1h-1zM119.05 96.35h1v1h-1zM92.19 73.15h1v1h-1zM76.84 74.13h1v1h-1zM64.16 71.55h1v1h-1zM81.5 79.62h1v1h-1zM62.58 75.96h1v1h-1zM126.47 104.57h1v1h-1zM106.46 83.07h1v1h-1zM79.07 74.8h1v1h-1zM98.33 83.82h1v1h-1zM59.24 70.29h1v1h-1zM117.14 93.6h1v1h-1zM91.4 73.29h1v1h-1zM107.19 87.72h1v1h-1zM74.96 74.15h1v1h-1zM86.46 77.3h1v1h-1zM108.46 91.21h1v1h-1zM73.21 76.37h1v1h-1zM50.36 74.64h1v1h-1zM91.69 78.39h1v1h-1zM114.68 93.28h1v1h-1zM85.95 77.55h1v1h-1zM122.1 101.23h1v1h-1zM96.35 72.09h1v1h-1zM118.22 92.93h1v1h-1zM53.07 69.29h1v1h-1zM97.14 78.84h1v1h-1zM98.7 80.58h1v1h-1zM88.05 81.25h1v1h-1zM109.14 98.92h1v1h-1zM68.31 82.15h1v1h-1zM84.06 69.53h1v1h-1zM79.63 71.78h1v1h-1zM110.87 102.29h1v1h-1zM105.02 77.82h1v1h-1zM69.3 72.58h1v1h-1zM66.91 75.8h1v1h-1zM56.8 70.34h1v1h-1zM64.63 63.84h1v1h-1zM112.33 103.16h1v1h-1zM115.4 104.46h1v1h-1zM108.79 81.3h1v1h-1zM88.36 79.72h1v1h-1zM84.9 68.52h1v1h-1zM98.02 81.71h1v1h-1zM104.55 88.87h1v1h-1zM50.72 65.93h1v1h-1zM61.64 72.38h1v1h-1zM95.94 75.29h1v1h-1zM52.43 79.68h1v1h-1zM110.24 98.33h1v1h-1zM52.06 73.11h1v1h-1zM108.88 101.78h1v1h-1zM69.51 76.5h1v1h-1zM63.62 68.75h1v1h-1zM85.06 85.1h1v1h-1zM94.52 81.71h1v1h-1zM113.17 103.2h1v1h-1zM93.14 76.75h1v1h-1zM114.45 97.62h1v1h-1zM110.1 94.75h1v1h-1zM108.56 100.33h1v1h-1zM77.65 72.89h1v1h-1zM93.39 77.85h1v1h-1zM57.94 76.68h1v1h-1zM71.73 76.51h1v1h-1zM80.72 73.53h1v1h-1zM57.3 73.84h1v1h-1zM116.16 96.81h1v1h-1zM74.83 75.95h1v1h-1zM68.42 79.93h1v1h-1zM68.7 71.85h1v1h-1zM56.35 72.17h1v1h-1zM108.58 84.55h1v1h-1zM97.79 73.79h1v1h-1zM89.67 78.63h1v1h-1zM82.6 73.72h1v1h-1zM105.74 104.41h1v1h-1zM82.62 73.74h1v1h-1zM92.08 77.01h1v1h-1zM101.09 92.54h1v1h-1zM112.17 102.95h1v1h-1zM120.38 90.66h1v1h-1zM112.97 91.24h1v1h-1zM72.99 70.05h1v1h-1zM109.66 105.61h1v1h-1zM114.7 87.07h1v1h-1zM84.67 74.55h1v1h-1zM122.58 98.27h1v1h-1zM112.57 98.59h1v1h-1zM102.76 86.8h1v1h-1zM106.96 89.39h1v1h-1zM111.29 85.26h1v1h-1zM108.53 101.7h1v1h-1zM114.15 87.73h1v1h-1zM59.28 70.21h1v1h-1zM70 63.96h1v1h-1zM67.49 68.02h1v1h-1zM89.89 63.76h1v1h-1zM60.13 77.47h1v1h-1zM84.78 84.74h1v1h-1zM116.38 94.47h1v1h-1zM108.73 107.32h1v1h-1zM58.11 74.09h1v1h-1zM102.7 78.77h1v1h-1zM69.07 66.69h1v1h-1zM116.07 85.86h1v1h-1zM51.96 64.37h1v1h-1zM68.13 62.73h1v1h-1zM73.1 76.66h1v1h-1zM55.5 81.94h1v1h-1zM111.65 84.46h1v1h-1zM72.96 63.2h1v1h-1zM101.66 83.13h1v1h-1zM114.23 93.07h1v1h-1zM85.07 71.85h1v1h-1zM94.58 77.93h1v1h-1zM115.28 101.44h1v1h-1zM79.19 70.02h1v1h-1zM111.4 87.18h1v1h-1zM108.77 88.88h1v1h-1zM56.42 73.72h1v1h-1zM78.34 82.88h1v1h-1zM106.9 78.44h1v1h-1zM52.42 74.61h1v1h-1zM116.69 97.21h1v1h-1zM117.68 98.06h1v1h-1zM100.53 83.75h1v1h-1zM101.16 88.59h1v1h-1zM92.22 79.31h1v1h-1zM108.9 80.93h1v1h-1zM92.8 79.47h1v1h-1zM78.22 75.45h1v1h-1zM108.53 82.24h1v1h-1zM93.22 76.68h1v1h-1zM82.69 74.18h1v1h-1zM73.29 75.1h1v1h-1zM90.78 76.43h1v1h-1zM80.73 70.55h1v1h-1zM105.58 84.02h1v1h-1zM109.7 89.44h1v1h-1zM108.88 89.53h1v1h-1zM111.88 100.16h1v1h-1zM87.17 71.25h1v1h-1zM83.95 72.55h1v1h-1zM110.32 91h1v1h-1zM64.65 64.97h1v1h-1zM93.14 84.48h1v1h-1zM99.17 72.49h1v1h-1zM105.45 79.79h1v1h-1zM106.07 79.35h1v1h-1zM102.03 81.24h1v1h-1zM60.33 73.25h1v1h-1zM55.04 59.3h1v1h-1zM118.24 99.59h1v1h-1zM114 97.84h1v1h-1zM89.95 71.26h1v1h-1zM100.54 79.29h1v1h-1zM71.56 79.84h1v1h-1zM86.16 73.56h1v1h-1zM99.53 81.2h1v1h-1zM101.5 78.51h1v1h-1zM79.9 77.08h1v1h-1zM53.43 62.39h1v1h-1zM111.4 101.36h1v1h-1zM113.77 91.15h1v1h-1zM59.66 72.5h1v1h-1zM113.05 91.07h1v1h-1zM107.33 93.18h1v1h-1zM67.42 66.03h1v1h-1zM109.89 83.59h1v1h-1zM87.47 76.52h1v1h-1zM74.36 74.55h1v1h-1zM72.18 60.77h1v1h-1zM97.5 86.54h1v1h-1zM92.16 78.36h1v1h-1zM85.48 76.2h1v1h-1zM49.78 63.03h1v1h-1zM106.47 89.95h1v1h-1zM79.73 75.33h1v1h-1zM79.55 75.93h1v1h-1zM105.12 75.49h1v1h-1zM67.17 87.05h1v1h-1zM124.52 100.94h1v1h-1zM105.53 85.47h1v1h-1zM106.87 98.43h1v1h-1zM77.84 73.21h1v1h-1zM96.91 64.76h1v1h-1zM74.73 63.91h1v1h-1zM69.73 71.91h1v1h-1zM83.53 75.58h1v1h-1zM104.98 88.21h1v1h-1zM85.96 74.46h1v1h-1zM103.7 95h1v1h-1zM56.01 74.39h1v1h-1zM73.78 71.35h1v1h-1zM62.46 71.65h1v1h-1zM104.22 99.55h1v1h-1zM44.36 72.27h1v1h-1zM92.7 70.2h1v1h-1zM103.72 80.42h1v1h-1zM79.3 69.59h1v1h-1zM125.69 108.36h1v1h-1zM113.1 97.53h1v1h-1zM78.5 71.52h1v1h-1zM65.29 69.82h1v1h-1zM96.01 78.87h1v1h-1zM87.9 69h1v1h-1zM97.63 87.76h1v1h-1zM108.08 79.01h1v1h-1zM115.86 102.48h1v1h-1zM114.66 89.14h1v1h-1zM75.2 71.25h1v1h-1zM112.59 99.19h1v1h-1zM84.69 65.16h1v1h-1zM119.95 100.84h1v1h-1zM90.58 82.03h1v1h-1zM55.02 64.69h1v1h-1zM103.94 97.1h1v1h-1zM69.12 74.13h1v1h-1zM103.74 89.24h1v1h-1zM92.28 77.33h1v1h-1zM104.61 89.03h1v1h-1zM113.27 84.81h1v1h-1zM108.97 106.33h1v1h-1zM112.34 94.83h1v1h-1zM104.8 87.75h1v1h-1zM83.67 76.8h1v1h-1zM94.94 71.93h1v1h-1zM72.01 72.2h1v1h-1zM79.86 73.67h1v1h-1zM90.2 75.71h1v1h-1zM83.75 66.78h1v1h-1zM80.02 75.8h1v1h-1zM72.6 75.58h1v1h-1zM79.48 73.56h1v1h-1zM59.29 65.6h1v1h-1zM94.6 86.36h1v1h-1zM56.65 69.19h1v1h-1zM67.21 69.88h1v1h-1zM68.6 61h1v1h-1zM90.99 87.06h1v1h-1zM75.31 69.73h1v1h-1zM66.31 75.8h1v1h-1zM99.62 90.16h1v1h-1zM92.5 71.81h1v1h-1zM107.87 94.63h1v1h-1zM76.86 67.36h1v1h-1zM76.71 67.1h1v1h-1zM98.67 68.99h1v1h-1zM64.19 62.71h1v1h-1zM116.22 94.01h1v1h-1zM62.47 76.18h1v1h-1zM119.18 103.62h1v1h-1zM102.12 81.77h1v1h-1zM108.9 90.39h1v1h-1zM67.86 77.34h1v1h-1zM114.4 101.41h1v1h-1zM96.63 80.4h1v1h-1zM81.5 72.64h1v1h-1zM62.1 70.15h1v1h-1zM66.06 75.53h1v1h-1zM105.36 109.91h1v1h-1zM115.1 107.14h1v1h-1zM90.71 62.2h1v1h-1zM104.59 92.16h1v1h-1zM92.64 87.11h1v1h-1zM86.54 73.88h1v1h-1zM91.24 66.62h1v1h-1zM96.47 74.19h1v1h-1zM76.39 77.23h1v1h-1zM124.43 87.87h1v1h-1zM88.25 74.53h1v1h-1zM88.3 77.7h1v1h-1zM75.31 72.42h1v1h-1zM120.39 100.11h1v1h-1zM72.39 62.62h1v1h-1zM108.52 87.08h1v1h-1zM103.95 75.7h1v1h-1zM74.27 72.49h1v1h-1zM116.45 95.22h1v1h-1zM51.3 73.91h1v1h-1zM79.72 69.81h1v1h-1zM75.94 69.92h1v1h-1zM113.94 82.74h1v1h-1zM97.74 83.51h1v1h-1zM116.81 89.87h1v1h-1zM104.38 93.12h1v1h-1zM53.27 69.48h1v1h-1zM89.88 75.64h1v1h-1zM78.75 76.18h1v1h-1zM104.41 75.65h1v1h-1zM84.97 74.38h1v1h-1zM83.46 76.16h1v1h-1zM54 54.71h1v1h-1zM74.9 69.41h1v1h-1zM85.83 69.13h1v1h-1zM77.19 70.18h1v1h-1zM96.13 77.67h1v1h-1zM101.06 80.49h1v1h-1zM78.64 74.43h1v1h-1zM109.11 92.81h1v1h-1zM86.32 78.04h1v1h-1zM88.21 81.7h1v1h-1zM87.7 70.07h1v1h-1zM104.36 92.88h1v1h-1zM98.76 80.88h1v1h-1zM120.86 97.57h1v1h-1zM50.1 75.14h1v1h-1zM121.02 97.45h1v1h-1zM70.35 78.48h1v1h-1zM114.51 95.7h1v1h-1zM46.73 77.67h1v1h-1zM114.57 93.88h1v1h-1zM98.65 73.52h1v1h-1zM103.45 81.98h1v1h-1zM88.92 68.25h1v1h-1zM90.41 74.45h1v1h-1zM71.71 66.23h1v1h-1zM66.26 77.15h1v1h-1zM101.02 72.08h1v1h-1zM78.07 76.27h1v1h-1zM48.98 63.88h1v1h-1zM67.91 66.49h1v1h-1zM70.18 65.37h1v1h-1zM59.32 67.67h1v1h-1zM95.59 71.07h1v1h-1zM113.37 98.09h1v1h-1zM92.69 83.68h1v1h-1zM107.48 88h1v1h-1zM53.43 62.14h1v1h-1zM90.55 81.94h1v1h-1zM110.53 97.46h1v1h-1zM124.05 101.19h1v1h-1zM104 86.3h1v1h-1zM106.91 74.84h1v1h-1zM118.51 99.06h1v1h-1zM61.99 75.09h1v1h-1zM104.99 83.71h1v1h-1zM109 84.36h1v1h-1zM104.65 84.24h1v1h-1zM83.18 71.94h1v1h-1zM63.72 72.89h1v1h-1zM72.04 77.39h1v1h-1zM107.79 81.09h1v1h-1zM78.09 70.19h1v1h-1zM129.16 98.33h1v1h-1zM65.91 77.79h1v1h-1zM102.96 86.35h1v1h-1zM87.88 70.88h1v1h-1zM69.82 70.31h1v1h-1zM79.66 76.01h1v1h-1zM80.79 73.93h1v1h-1zM73.4 77.5h1v1h-1zM73.17 66.61h1v1h-1zM71.54 70.97h1v1h-1zM113.15 95.98h1v1h-1zM82.34 70.1h1v1h-1zM102.71 81.29h1v1h-1zM106.55 82.57h1v1h-1zM76.97 83.69h1v1h-1zM105.06 104.51h1v1h-1zM77.93 73.26h1v1h-1zM65.93 70.5h1v1h-1zM51.31 64.13h1v1h-1zM73.27 64.23h1v1h-1zM62.73 76.54h1v1h-1zM83.53 71.84h1v1h-1zM98.41 79.13h1v1h-1zM56.13 73.32h1v1h-1zM118.69 103.86h1v1h-1zM115.08 85.24h1v1h-1zM99.6 69.22h1v1h-1zM114.11 93.1h1v1h-1zM100.76 88.57h1v1h-1zM70.01 64.91h1v1h-1zM107.87 88.42h1v1h-1zM116.16 105.34h1v1h-1zM63.21 57.75h1v1h-1zM98.71 73.93h1v1h-1zM68.31 79.15h1v1h-1zM111.9 89.64h1v1h-1zM54.56 71.23h1v1h-1zM114.08 97.54h1v1h-1zM68.72 69.47h1v1h-1zM109.67 78.02h1v1h-1zM111.7 84.12h1v1h-1zM108.78 85.93h1v1h-1zM59.41 68.73h1v1h-1zM86.95 75.35h1v1h-1z"/>
<path fill="#3c4cd8" d="M60.22 72.59h1v1h-1zM63.97 69.76h1v1h-1zM65.24 70.1h1v1h-1zM73.88 71.1h1v1h-1zM111.45 97.09h1v1h-1zM99.33 76.66h1v1h-1zM72.42 71.14h1v1h-1zM91.35 78.02h1v1h-1zM60.29 62.86h1v1h-1zM64.99 58.8h1v1h-1zM104.73 85.16h1v1h-1zM111.05 83.79h1v1h-1zM105.67 79.1h1v1h-1zM115.69 94.16h1v1h-1zM112.2 98.57h1v1h-1zM115.17 100.14h1v1h-1zM86.71 77.55h1v1h-1zM108.81 83.02h1v1h-1zM64.22 68.6h1v1h-1zM104.57 92.32h1v1h-1zM71.7 71.38h1v1h-1zM115.68 104.68h1v1h-1zM50.26 75.72h1v1h-1zM100.78 89.64h1v1h-1zM93.57 72.39h1v1h-1zM101.93 93.85h1v1h-1zM89.78 80.63h1v1h-1zM114.38 91.77h1v1h-1zM105.21 88.78h1v1h-1zM103.3 75.52h1v1h-1zM115.85 102.39h1v1h-1zM63.87 71.96h1v1h-1zM113.33 97.37h1v1h-1zM88.53 69.6h1v1h-1zM110.79 80.62h1v1h-1zM104.16 74.21h1v1h-1zM84.31 70.27h1v1h-1zM108.34 71.76h1v1h-1zM111.02 105.74h1v1h-1zM96.36 65.61h1v1h-1zM114.96 101.69h1v1h-1zM48.42 74.71h1v1h-1zM94.35 73.07h1v1h-1zM102.47 80.47h1v1h-1zM76.87 85.57h1v1h-1zM57.79 67.16h1v1h-1zM113.21 88.68h1v1h-1zM113.85 85.28h1v1h-1zM84.47 74.69h1v1h-1zM62.13 69.89h1v1h-1zM110.24 100.51h1v1h-1zM104.88 85.32h1v1h-1zM108.85 94.67h1v1h-1zM111.97 95.46h1v1h-1zM67.2 73.8h1v1h-1zM99.65 78.1h1v1h-1zM89.84 65.9h1v1h-1zM84.76 75.08h1v1h-1zM77.83 74.19h1v1h-1zM111.01 80.02h1v1h-1zM119.72 101.61h1v1h-1zM85.52 71.23h1v1h-1zM79.66 80.45h1v1h-1zM104.81 76.12h1v1h-1zM105.8 79.02h1v1h-1zM81.25 76.75h1v1h-1zM97.28 72.75h1v1h-1zM108.81 72.03h1v1h-1zM109.62 78.67h1v1h-1zM66.46 70.31h1v1h-1zM99.99 70.05h1v1h-1zM84.94 74.6h1v1h-1zM107.84 94.51h1v1h-1zM105 75.79h1v1h-1zM110.96 84.62h1v1h-1zM111.55 93.42h1v1h-1zM82.33 76.36h1v1h-1zM61.93 77.84h1v1h-1zM102.62 92.32h1v1h-1zM55.41 67.96h1v1h-1zM120.31 100.59h1v1h-1zM110.85 75.7h1v1h-1zM87.25 72.3h1v1h-1zM101.85 72.41h1v1h-1zM68.58 72.13h1v1h-1zM96.53 73.52h1v1h-1zM109.58 104.47h1v1h-1zM53.41 69.76h1v1h-1zM116.98 98.85h1v1h-1zM78.63 76.88h1v1h-1zM85.59 78.85h1v1h-1zM108.76 99.21h1v1h-1zM107.46 89.93h1v1h-1zM82.88 71.24h1v1h-1zM114.45 106.23h1v1h-1zM53.71 65.12h1v1h-1zM105.62 86.14h1v1h-1zM91.04 77.22h1v1h-1zM108.57 94.49h1v1h-1zM60.82 75.28h1v1h-1zM79.09 72.1h1v1h-1zM82.09 77.57h1v1h-1zM61.81 76.18h1v1h-1zM111.77 82.48h1v1h-1zM115.89 87.39h1v1h-1zM119.33 101.01h1v1h-1zM71.67 74.55h1v1h-1zM94.4 83.82h1v1h-1zM113.18 105.16h1v1h-1zM64.76 67.22h1v1h-1zM99.58 85.91h1v1h-1zM76.35 75.95h1v1h-1zM116.7 93.21h1v1h-1zM101.19 84.72h1v1h-1zM111.37 94.76h1v1h-1zM52.39 75.21h1v1h-1zM108.89 72.48h1v1h-1zM89.56 79.41h1v1h-1zM59.56 69.36h1v1h-1zM79.93 71.04h1v1h-1zM107.72 89.29h1v1h-1zM98.31 82.65h1v1h-1zM99.57 73.14h1v1h-1zM82.38 78.72h1v1h-1zM89 85.35h1v1h-1zM90.11 76.18h1v1h-1zM123.02 84.94h1v1h-1zM104.64 98.45h1v1h-1zM85.97 70.76h1v1h-1zM99.41 79.01h1v1h-1zM70.11 69.94h1v1h-1zM100.83 86.79h1v1h-1zM54.31 72.54h1v1h-1zM113.96 92.33h1v1h-1zM84.68 67.19h1v1h-1zM52.21 79.47h1v1h-1zM79.19 77.06h1v1h-1zM118.12 101.48h1v1h-1zM82.43 67.77h1v1h-1zM81.66 78.77h1v1h-1zM112.65 99.35h1v1h-1zM114.85 96.37h1v1h-1zM78.53 70.25h1v1h-1zM69.61 72.9h1v1h-1zM80.47 77.61h1v1h-1zM85.15 74.83h1v1h-1zM127.53 102.82h1v1h-1zM98.8 82.39h1v1h-1zM128.79 103.56h1v1h-1zM113.16 103.84h1v1h-1zM112.61 91.76h1v1h-1zM86.24 76.18h1v1h-1zM83.5 72.34h1v1h-1zM99.48 69.8h1v1h-1zM108.04 82.65h1v1h-1zM112.81 81.55h1v1h-1zM118.49 82.63h1v1h-1zM73.73 76.7h1v1h-1zM103.85 83.92h1v1h-1zM71.78 72.38h1v1h-1zM109.68 91.74h1v1h-1zM53.83 72.7h1v1h-1zM113.61 89.87h1v1h-1zM101.41 93.19h1v1h-1zM61.25 77.51h1v1h-1zM73.6 79.92h1v1h-1zM74.71 76.08h1v1h-1zM94.56 75.83h1v1h-1zM115.16 93.19h1v1h-1zM115.71 99.31h1v1h-1zM103.09 78.8h1v1h-1zM55.74 69.52h1v1h-1zM115.92 97.36h1v1h-1zM122.25 102.58h1v1h-1zM65.08 67.52h1v1h-1zM101.32 86.87h1v1h-1zM96.3 83.76h1v1h-1zM103.44 79.22h1v1h-1zM106.78 79.98h1v1h-1zM55.72 65.73h1v1h-1zM71.4 80.37h1v1h-1zM76.38 63.57h1v1h-1zM107.13 77.28h1v1h-1zM44.19 71.01h1v1h-1zM79.78 74.78h1v1h-1zM76.04 71.15h1v1h-1zM60.78 66.48h1v1h-1zM90.77 83.71h1v1h-1zM72.25 72.93h1v1h-1zM80.91 74.5h1v1h-1zM63.6 75.98h1v1h-1zM105.7 91.19h1v1h-1zM57.83 80.63h1v1h-1zM102.65 88.79h1v1h-1zM115.75 82.56h1v1h-1zM62.02 74.57h1v1h-1zM87.78 78.85h1v1h-1zM73.48 75.69h1v1h-1zM78.12 85.18h1v1h-1zM104.14 80.13h1v1h-1z"/>
<path fill="#4a80f2" d="M67.77 74.45h1v1h-1zM66.93 71.42h1v1h-1zM59.35 71.12h1v1h-1zM72.09 72.14h1v1h-1zM63.62 71.84h1v1h-1zM56.74 69.19h1v1h-1zM71.07 71.64h1v1h-1zM71.68 70.92h1v1h-1zM70.42 73.69h1v1h-1zM67.21 75.29h1v1h-1zM60.67 69.66h1v1h-1zM68.98 69.9h1v1h-1zM73.17 70.1h1v1h-1zM68.43 70.4h1v1h-1zM72 70.34h1v1h-1zM61.2 71.53h1v1h-1zM69.36 73.19h1v1h-1zM68.99 69.37h1v1h-1zM57.95 68.99h1v1h-1zM57.33 68.5h1v1h-1zM61.46 73.22h1v1h-1zM65.1 73.57h1v1h-1zM66.79 68.99h1v1h-1zM63.71 68.84h1v1h-1zM64.44 71.66h1v1h-1zM64.22 73.2h1v1h-1zM65.14 73.07h1v1h-1zM67.4 71.76h1v1h-1zM67 72.54h1v1h-1zM64.49 71.97h1v1h-1zM65.92 70.56h1v1h-1zM62.68 74.5h1v1h-1zM68.37 71.45h1v1h-1zM62.44 69.67h1v1h-1zM72.22 70.7h1v1h-1zM64.63 68.98h1v1h-1zM65.99 71.48h1v1h-1zM61.27 73.21h1v1h-1zM63.17 69.43h1v1h-1zM65.49 73.25h1v1h-1zM64.83 74.8h1v1h-1zM61.91 72.06h1v1h-1zM59.45 69.6h1v1h-1zM64.93 70.09h1v1h-1zM65.45 70.92h1v1h-1zM67.25 69.4h1v1h-1zM70.44 69.45h1v1h-1zM63.32 71.04h1v1h-1zM55.64 71.16h1v1h-1zM64.09 72.42h1v1h-1zM56.32 69.53h1v1h-1zM58.87 74.45h1v1h-1zM69.45 73.15h1v1h-1zM67.34 72.88h1v1h-1zM61.8 70.41h1v1h-1zM61.85 74.24h1v1h-1zM64.34 70.9h1v1h-1zM56.73 74.36h1v1h-1zM66.95 73.17h1v1h-1zM63.16 70.02h1v1h-1zM73.16 70.72h1v1h-1zM59.91 74.45h1v1h-1zM69.34 73.06h1v1h-1zM61.64 71.2h1v1h-1zM69.42 71.78h1v1h-1zM60.28 71.77h1v1h-1zM68.11 70.21h1v1h-1zM62.74 71.13h1v1h-1zM60.98 70.4h1v1h-1zM64.07 70.77h1v1h-1zM66.93 72.2h1v1h-1zM66.61 69.92h1v1h-1zM71.98 72.62h1v1h-1zM68.52 71.63h1v1h-1zM52.69 72.67h1v1h-1zM62.92 72.88h1v1h-1zM55.63 73.45h1v1h-1zM63 72.46h1v1h-1zM67.61 72.59h1v1h-1zM58.63 71.16h1v1h-1zM59.35 72.36h1v1h-1zM65.42 70.01h1v1h-1zM63.44 71.06h1v1h-1zM72.01 72.65h1v1h-1zM66.24 71.37h1v1h-1zM67.2 72.17h1v1h-1zM72.78 69.76h1v1h-1zM62.46 73.64h1v1h-1zM64.75 70.53h1v1h-1zM60.21 72.09h1v1h-1zM65.95 71.42h1v1h-1zM69.51 72.95h1v1h-1zM71.04 70.84h1v1h-1zM64.6 69.85h1v1h-1zM61.51 68.41h1v1h-1zM61.25 70.96h1v1h-1zM58.37 69.54h1v1h-1zM65.32 72.31h1v1h-1zM71 73.76h1v1h-1zM53.9 67.88h1v1h-1zM54.79 69.38h1v1h-1zM71.2 71.95h1v1h-1zM57.39 73.43h1v1h-1zM66.29 71.94h1v1h-1zM59 71.97h1v1h-1zM68.37 72.26h1v1h-1zM68.37 72.37h1v1h-1zM65.56 74.09h1v1h-1zM68.57 72.43h1v1h-1zM65.01 69.46h1v1h-1zM67.37 70.69h1v1h-1zM73.16 71.79h1v1h-1zM69.83 70.15h1v1h-1zM61.77 71.03h1v1h-1zM61.1 70.61h1v1h-1zM63.7 70.33h1v1h-1zM63.74 72.57h1v1h-1zM65.13 70.83h1v1h-1zM62.02 69.7h1v1h-1zM67.8 70.3h1v1h-1zM64.98 71.51h1v1h-1zM66.46 74.85h1v1h-1zM64.84 71.87h1v1h-1zM67.63 73.84h1v1h-1zM59.31 72.25h1v1h-1zM72.07 68h1v1h-1zM66.4 72.06h1v1h-1zM66.88 70.08h1v1h-1zM67.63 69.27h1v1h-1zM69.79 69.72h1v1h-1zM68.21 74.33h1v1h-1zM65.91 68.91h1v1h-1zM63.99 70.45h1v1h-1zM57.27 73.31h1v1h-1zM65.81 72.52h1v1h-1zM63.4 68.7h1v1h-1zM63.39 71.27h1v1h-1zM75.89 70.62h1v1h-1zM56.29 71.14h1v1h-1zM65.09 72.66h1v1h-1zM70.41 70.52h1v1h-1zM69.26 70.93h1v1h-1zM70.54 73.8h1v1h-1zM59.02 68.48h1v1h-1zM60.43 70.85h1v1h-1zM67.69 72.2h1v1h-1zM63.49 69.44h1v1h-1zM72.72 70.43h1v1h-1zM65.91 69.33h1v1h-1zM65.76 71.7h1v1h-1zM66.89 70.44h1v1h-1zM63.61 72.71h1v1h-1zM65.41 73.09h1v1h-1zM61.76 71.52h1v1h-1zM64.7 70.83h1v1h-1zM62.65 71.87h1v1h-1zM66.05 71.54h1v1h-1zM58.36 69.48h1v1h-1zM58.02 73.17h1v1h-1zM66.99 71.81h1v1h-1zM65.92 72.72h1v1h-1zM60.45 69.25h1v1h-1zM63.84 72.86h1v1h-1zM60.06 74.84h1v1h-1zM74.27 72.44h1v1h-1zM57.7 69.11h1v1h-1zM72.77 71.5h1v1h-1zM61.11 71.35h1v1h-1zM66.83 71.8h1v1h-1zM63.69 71.07h1v1h-1zM63.14 72.24h1v1h-1zM69.2 70.69h1v1h-1zM68.65 71.81h1v1h-1zM63.57 70.33h1v1h-1zM60.72 71.6h1v1h-1zM74.43 73.05h1v1h-1zM71.36 70.65h1v1h-1zM65.55 72.52h1v1h-1zM63.54 70.01h1v1h-1zM66.25 70.84h1v1h-1zM65.28 71.06h1v1h-1zM70.41 73.45h1v1h-1zM60.47 70.2h1v1h-1zM65 73.41h1v1h-1zM61.3 69.07h1v1h-1zM70.92 71.18h1v1h-1zM73.2 72.91h1v1h-1zM64.49 72.56h1v1h-1zM67.39 69.81h1v1h-1zM71.38 69.46h1v1h-1zM63.53 72.86h1v1h-1zM60.62 69.4h1v1h-1zM69.7 72.37h1v1h-1zM67.24 70.6h1v1h-1zM63.96 71.42h1v1h-1zM71.63 75.18h1v1h-1zM66 73.94h1v1h-1zM56.73 72.79h1v1h-1zM66.51 69.21h1v1h-1zM64.64 71.95h1v1h-1z"/>
<path fill="#3a52e0" d="M115.42 94.11h1v1h-1zM114.6 100.11h1v1h-1zM107.65 82.57h1v1h-1zM107.57 78.29h1v1h-1zM116.57 98.03h1v1h-1zM113.61 97.84h1v1h-1zM109.81 95.44h1v1h-1zM115.66 99.56h1v1h-1zM111.66 96.14h1v1h-1zM105.19 85.49h1v1h-1zM111.59 92.48h1v1h-1zM103.28 75.15h1v1h-1zM94.79 83.17h1v1h-1zM106.82 84.44h1v1h-1zM113.7 95.39h1v1h-1zM112.13 72.6h1v1h-1zM98.82 74.07h1v1h-1zM99.07 74.76h1v1h-1zM111.2 95.09h1v1h-1zM113.91 102.5h1v1h-1zM99.62 82.3h1v1h-1zM122.82 105.18h1v1h-1zM103.68 75.79h1v1h-1zM115.22 95.29h1v1h-1zM109.42 97.69h1v1h-1zM105.83 86.4h1v1h-1zM111.02 99.35h1v1h-1zM114.4 97.94h1v1h-1zM111.99 87.63h1v1h-1zM98.93 84.22h1v1h-1zM119.97 97.9h1v1h-1zM110.76 94.01h1v1h-1zM104.87 83.98h1v1h-1zM104.26 75.68h1v1h-1zM114.32 81.76h1v1h-1zM105.31 93.45h1v1h-1zM123.5 97.44h1v1h-1zM111.58 89.79h1v1h-1zM112.97 88.66h1v1h-1zM113.02 101.72h1v1h-1zM115.26 92.9h1v1h-1zM123.78 103.23h1v1h-1zM101.16 74.66h1v1h-1zM101.93 79.84h1v1h-1zM118.58 102.71h1v1h-1zM113.78 97.8h1v1h-1zM108.44 79.68h1v1h-1zM95.86 82.9h1v1h-1zM101.87 73.32h1v1h-1zM105.87 81.24h1v1h-1zM109.33 98.8h1v1h-1zM97.02 79.09h1v1h-1zM103.21 84.31h1v1h-1zM114.32 99.26h1v1h-1zM101.14 76.69h1v1h-1zM98.13 83.47h1v1h-1zM113.8 93.02h1v1h-1zM116.04 97.03h1v1h-1zM114.14 102.18h1v1h-1zM103.65 73.22h1v1h-1zM99.76 80.14h1v1h-1zM117.38 88h1v1h-1zM109.73 81.63h1v1h-1zM115.86 94.67h1v1h-1zM97.18 77.71h1v1h-1zM118.46 90.39h1v1h-1zM103.89 76.22h1v1h-1zM100.98 78.4h1v1h-1zM115.93 105.24h1v1h-1zM110.82 90.91h1v1h-1zM107.21 84.77h1v1h-1zM99.94 86.41h1v1h-1zM104.68 98.35h1v1h-1zM120.36 100.43h1v1h-1zM101.66 83.97h1v1h-1zM99.19 78.61h1v1h-1zM100.98 78.84h1v1h-1zM113.62 95.25h1v1h-1zM102.19 74.98h1v1h-1zM107.08 92.92h1v1h-1zM101.87 82.46h1v1h-1zM119.06 97.17h1v1h-1zM107.37 90.72h1v1h-1zM108.63 86.71h1v1h-1zM114.83 79.81h1v1h-1zM108.66 89.56h1v1h-1zM118.57 92.77h1v1h-1zM115.26 92.31h1v1h-1zM102.46 86.47h1v1h-1zM99.51 69.65h1v1h-1zM111.42 94.71h1v1h-1zM104.14 77.73h1v1h-1zM107.04 85.87h1v1h-1zM112.17 98.36h1v1h-1zM115.33 97.33h1v1h-1zM110.11 95.45h1v1h-1zM101 80.2h1v1h-1zM110.93 101.11h1v1h-1zM100.62 70.68h1v1h-1zM99.82 72.49h1v1h-1zM108.67 99.19h1v1h-1zM111.19 104.33h1v1h-1zM109.57 88.44h1v1h-1zM112.28 96.41h1v1h-1zM108.07 93.26h1v1h-1zM92.89 80.09h1v1h-1zM113.91 96.64h1v1h-1zM109.82 87.06h1v1h-1zM105.97 86.9h1v1h-1zM113.64 92.2h1v1h-1zM107.53 87.31h1v1h-1zM94.52 82.74h1v1h-1zM111.13 99.81h1v1h-1zM106.91 75.8h1v1h-1zM102.78 84.92h1v1h-1zM99.96 80.6h1v1h-1zM106.63 83.89h1v1h-1zM109.32 83.85h1v1h-1zM101.84 82.2h1v1h-1zM102.8 79.46h1v1h-1zM103 86.31h1v1h-1zM102.94 76.8h1v1h-1zM109.63 85.52h1v1h-1zM98.2 77.69h1v1h-1zM106.53 76.93h1v1h-1zM105.78 75.24h1v1h-1zM119.68 94.57h1v1h-1zM115.24 93.36h1v1h-1zM120.27 104.76h1v1h-1zM110.73 94.28h1v1h-1zM106.92 82.28h1v1h-1zM102.94 81.2h1v1h-1zM113.08 95.6h1v1h-1zM109.29 90.63h1v1h-1zM118.65 100.73h1v1h-1zM104.28 85.88h1v1h-1zM117.08 99.78h1v1h-1zM114.94 107.14h1v1h-1zM114.86 102.13h1v1h-1zM106.98 89.34h1v1h-1zM111.05 89.77h1v1h-1zM120.01 103.2h1v1h-1zM101.59 76.35h1v1h-1zM117.55 93.98h1v1h-1zM105.52 75.33h1v1h-1zM100.58 81.85h1v1h-1zM107.53 87.91h1v1h-1zM109.48 97.4h1v1h-1zM106.35 76.02h1v1h-1zM121.36 95.36h1v1h-1zM110.86 83.82h1v1h-1zM93.89 84.8h1v1h-1zM104.35 78.48h1v1h-1zM100.09 85.48h1v1h-1zM116.24 97.9h1v1h-1zM118.73 98.85h1v1h-1zM112.84 91.37h1v1h-1zM101.89 80.73h1v1h-1zM113.11 98.85h1v1h-1zM100.02 77.44h1v1h-1zM110 85.48h1v1h-1zM113.2 87.43h1v1h-1zM104 85.88h1v1h-1zM101.93 80.85h1v1h-1zM103.51 90.74h1v1h-1zM114.49 97.34h1v1h-1zM110.21 90.93h1v1h-1zM101.94 79.19h1v1h-1zM106.51 82.82h1v1h-1zM108.44 88.43h1v1h-1zM106.98 90.37h1v1h-1zM116.76 102.02h1v1h-1zM110.93 87.78h1v1h-1zM108.82 93.61h1v1h-1zM109 88.15h1v1h-1zM108.21 82.14h1v1h-1zM102.04 81.15h1v1h-1zM111.01 85.31h1v1h-1zM104.58 76h1v1h-1zM98.37 77.57h1v1h-1zM102.93 76.63h1v1h-1zM97.11 74.91h1v1h-1zM95.44 74.32h1v1h-1zM106.82 90.16h1v1h-1zM106.82 79.71h1v1h-1zM121.22 103.21h1v1h-1zM117.18 90.64h1v1h-1zM108.17 74.59h1v1h-1zM113.09 96.62h1v1h-1zM113.28 95.47h1v1h-1zM113.27 104.99h1v1h-1zM104.07 82.95h1v1h-1zM104.12 75.38h1v1h-1zM115.1 99.73h1v1h-1zM105.98 87.86h1v1h-1zM109.68 90.58h1v1h-1zM110.3 107.67h1v1h-1zM121.78 100.55h1v1h-1zM91.32 74.62h1v1h-1zM113.82 87.4h1v1h-1zM121.31 97.7h1v1h-1zM99.3 67.8h1v1h-1zM112.87 84.92h1v1h-1zM105.49 88.76h1v1h-1zM101.56 75.6h1v1h-1zM108.93 92.71h1v1h-1zM124.1 101.95h1v1h-1zM102.23 88.13h1v1h-1zM93.12 70.06h1v1h-1zM101.86 75.49h1v1h-1zM102.64 84.79h1v1h-1zM95.17 75.34h1v1h-1zM110.57 94.08h1v1h-1zM102.97 83.44h1v1h-1zM104.88 82.79h1v1h-1zM111.68 96.88h1v1h-1zM106.14 104.96h1v1h-1zM111.56 97.22h1v1h-1zM100.55 76.37h1v1h-1zM106.92 80.91h1v1h-1zM109.37 86.59h1v1h-1zM104.91 83.26h1v1h-1zM121.1 91.96h1v1h-1zM102.64 85.71h1v1h-1zM121.66 93.77h1v1h-1zM97.14 79.55h1v1h-1zM112.61 86.97h1v1h-1zM107.27 93.16h1v1h-1zM120.56 102.43h1v1h-1zM108.87 83.49h1v1h-1zM115.59 101.72h1v1h-1zM109.87 91.65h1v1h-1zM107.6 89.66h1v1h-1zM105.49 79.26h1v1h-1zM112.77 101.71h1v1h-1zM101.55 74.76h1v1h-1zM114.87 106.05h1v1h-1zM119.12 86.53h1v1h-1zM104.06 87.16h1v1h-1zM98.42 72.97h1v1h-1zM107.22 96.2h1v1h-1zM104.77 82.85h1v1h-1zM117.59 96.05h1v1h-1zM117.2 92.85h1v1h-1zM100.49 73.13h1v1h-1zM118.52 100.27h1v1h-1zM109.12 90.49h1v1h-1zM104.57 82.12h1v1h-1zM114.67 92.84h1v1h-1zM113.59 87.87h1v1h-1zM107.18 80.77h1v1h-1zM118.81 98.81h1v1h-1zM116.62 100.72h1v1h-1zM123.43 103.14h1v1h-1zM108.6 96.92h1v1h-1zM91.44 72.78h1v1h-1zM110.51 98.61h1v1h-1zM118.4 97.82h1v1h-1zM106.91 88.11h1v1h-1zM115.48 99.31h1v1h-1z"/>
<path fill="#8890dc" d="M93.89 77.44h1v1h-1zM101.82 74.97h1v1h-1zM101.64 84.88h1v1h-1zM101.65 72.49h1v1h-1zM103.46 73.45h1v1h-1zM105.97 85.42h1v1h-1zM125.83 100.85h1v1h-1zM106.51 90.89h1v1h-1zM115.84 103.22h1v1h-1zM99.9 88.95h1v1h-1zM107.51 81.52h1v1h-1zM103.5 72.53h1v1h-1zM99.04 70.18h1v1h-1zM109.27 96.85h1v1h-1zM106.09 95.15h1v1h-1zM112.81 87.09h1v1h-1zM109.66 98.02h1v1h-1zM107.13 92.78h1v1h-1zM104.8 79.25h1v1h-1zM115.57 102.7h1v1h-1zM119.14 92.56h1v1h-1zM102.45 74.17h1v1h-1zM110.61 102.56h1v1h-1zM107.18 83.93h1v1h-1zM116.23 97.49h1v1h-1zM110.51 104.26h1v1h-1zM119.5 101.02h1v1h-1zM104.14 80.88h1v1h-1zM112.03 96.98h1v1h-1zM103.46 84.25h1v1h-1zM114.15 107.73h1v1h-1zM99.14 77.99h1v1h-1zM117.23 97.78h1v1h-1zM120.88 101.69h1v1h-1zM107.03 88.05h1v1h-1zM106.35 93.57h1v1h-1zM112.77 94.66h1v1h-1zM110.75 100.73h1v1h-1zM96.96 75.61h1v1h-1zM119.85 99.29h1v1h-1zM104.71 87.16h1v1h-1zM110.32 91.68h1v1h-1zM108.34 100.2h1v1h-1zM99.08 72.9h1v1h-1zM101.6 72.41h1v1h-1zM103.25 89.64h1v1h-1zM111.67 101.65h1v1h-1zM100.28 74.68h1v1h-1zM104.46 92.12h1v1h-1zM104.62 83.71h1v1h-1zM92.98 70.71h1v1h-1zM95.11 80.89h1v1h-1zM95.6 66.87h1v1h-1zM111.75 87.96h1v1h-1zM108.71 87.43h1v1h-1zM102.14 88.09h1v1h-1zM112.13 107.34h1v1h-1zM106.93 77h1v1h-1zM105.57 85.65h1v1h-1zM115.87 105.29h1v1h-1zM110.16 89.45h1v1h-1zM107.11 106.07h1v1h-1zM105.66 87.49h1v1h-1zM105.98 87.3h1v1h-1zM109.24 80.82h1v1h-1zM115.62 96.93h1v1h-1zM104.79 83.64h1v1h-1zM114.79 100.03h1v1h-1zM100.61 88.02h1v1h-1zM111.06 95.15h1v1h-1zM117.51 91.19h1v1h-1zM107.7 92.53h1v1h-1zM101.21 85.31h1v1h-1zM118.7 101.98h1v1h-1zM111.39 92.43h1v1h-1zM96.71 80.42h1v1h-1zM115.07 94.87h1v1h-1zM90.65 75.78h1v1h-1zM116.46 91.06h1v1h-1zM121.28 94.5h1v1h-1zM98.7 80.8h1v1h-1zM101.69 79.28h1v1h-1zM100.16 81.61h1v1h-1zM109.2 92.89h1v1h-1zM108.28 92.09h1v1h-1zM117.14 97.92h1v1h-1zM103.26 81.44h1v1h-1zM101.13 78.55h1v1h-1zM113.76 95.49h1v1h-1zM115.56 95.81h1v1h-1zM106.58 93.18h1v1h-1zM105.1 80.33h1v1h-1zM110.23 73.46h1v1h-1zM114.09 96.75h1v1h-1zM114.26 108.45h1v1h-1zM103.05 76.06h1v1h-1zM119.14 90.97h1v1h-1zM108.02 92.04h1v1h-1zM115.38 102.99h1v1h-1zM107.26 77.94h1v1h-1zM107.64 92.91h1v1h-1zM96.19 73.64h1v1h-1zM104.29 81.99h1v1h-1zM110.45 91.38h1v1h-1zM100.1 84.86h1v1h-1zM119.69 91.87h1v1h-1zM96.63 77.29h1v1h-1zM108.23 98.25h1v1h-1zM106.52 90.88h1v1h-1zM116.31 95.92h1v1h-1zM111.72 82.28h1v1h-1zM97.41 78.9h1v1h-1zM106.29 72.37h1v1h-1zM107.71 84.38h1v1h-1zM98.74 76.87h1v1h-1zM114.32 99.16h1v1h-1zM119.54 97.43h1v1h-1zM118.03 100.04h1v1h-1zM101.53 65.45h1v1h-1zM108.48 101.99h1v1h-1zM111.72 93.96h1v1h-1zM111.94 92.9h1v1h-1zM109.75 88.83h1v1h-1zM100.19 80.53h1v1h-1zM99.91 85.75h1v1h-1zM97.64 93.89h1v1h-1zM96.93 80.29h1v1h-1zM102.08 73.67h1v1h-1zM119.9 101.07h1v1h-1zM99.42 85.55h1v1h-1zM114.84 88.78h1v1h-1zM93.83 73.56h1v1h-1zM116.44 99.71h1v1h-1zM117.43 97.46h1v1h-1zM100.81 66.29h1v1h-1zM111.18 78.68h1v1h-1zM116.36 93.74h1v1h-1zM98.64 74.72h1v1h-1zM104.56 79.44h1v1h-1zM103.05 83.89h1v1h-1zM99.68 78.87h1v1h-1zM111.83 101.02h1v1h-1zM113.9 100.05h1v1h-1zM116.42 81.79h1v1h-1zM113.05 82.9h1v1h-1zM112.56 88.89h1v1h-1zM109.77 82.82h1v1h-1zM99.7 73.98h1v1h-1zM109.39 76.91h1v1h-1zM116.28 98.15h1v1h-1zM117.66 88.7h1v1h-1zM109.31 78.5h1v1h-1zM104.65 87.51h1v1h-1zM103.38 75.05h1v1h-1zM108.43 93.01h1v1h-1zM99.38 76.19h1v1h-1zM114.25 107.95h1v1h-1zM121.51 98.36h1v1h-1zM107.9 94.05h1v1h-1zM119.41 99.69h1v1h-1zM106.55 90.81h1v1h-1zM118.45 87.76h1v1h-1zM122.47 92.15h1v1h-1zM111.43 99h1v1h-1zM116.83 104.15h1v1h-1zM109.79 91.52h1v1h-1zM100.51 80.5h1v1h-1zM96.76 66.97h1v1h-1zM118.31 99.9h1v1h-1zM111.88 92.57h1v1h-1zM101.22 96.4h1v1h-1zM106.34 89.41h1v1h-1zM122.45 105.84h1v1h-1zM99.75 74.19h1v1h-1zM102.77 80.83h1v1h-1zM107.18 80.34h1v1h-1zM119.7 104.39h1v1h-1zM114.86 94.45h1v1h-1zM115.69 91.55h1v1h-1zM108.88 83.04h1v1h-1zM99.4 73.68h1v1h-1zM97.76 75.55h1v1h-1zM106.22 76.58h1v1h-1zM99.99 75.84h1v1h-1zM113.67 88.43h1v1h-1zM103.91 86.47h1v1h-1zM112.43 102.78h1v1h-1zM116.32 100.06h1v1h-1zM104.99 93.21h1v1h-1zM108.4 72.44h1v1h-1zM105.4 84.61h1v1h-1zM107.41 72.12h1v1h-1zM107.83 92.63h1v1h-1zM114.08 84.44h1v1h-1zM117.62 107.67h1v1h-1zM96.59 73.62h1v1h-1zM118.69 101.47h1v1h-1zM101 86.46h1v1h-1zM111.53 93.23h1v1h-1zM102.52 81.49h1v1h-1zM110.93 97.35h1v1h-1zM102.25 85.8h1v1h-1zM104.15 71.31h1v1h-1zM100.81 80.01h1v1h-1zM107.26 88.29h1v1h-1zM112.77 97.6h1v1h-1zM104.07 89.61h1v1h-1zM109.62 103.23h1v1h-1zM104.19 82.09h1v1h-1zM111.14 88.05h1v1h-1zM108.85 89.32h1v1h-1zM98.82 70.66h1v1h-1zM110.99 91.82h1v1h-1zM104.34 86.04h1v1h-1zM97.04 75.55h1v1h-1zM102.54 74.09h1v1h-1zM97.15 75.37h1v1h-1zM114.88 90.33h1v1h-1zM106.72 78.28h1v1h-1zM106.24 78.78h1v1h-1zM103.48 85.47h1v1h-1zM117.37 107.41h1v1h-1zM97.46 82.25h1v1h-1zM110.9 86.9h1v1h-1zM102.17 77.41h1v1h-1zM102.96 83.19h1v1h-1zM105.3 82.86h1v1h-1zM117.09 93.64h1v1h-1zM113.21 97.58h1v1h-1zM101.16 84.04h1v1h-1zM116.68 108.82h1v1h-1zM102.53 76.01h1v1h-1zM113.62 84.28h1v1h-1zM115.92 101.36h1v1h-1zM103.15 77.08h1v1h-1zM116.61 98.12h1v1h-1zM105.91 82.28h1v1h-1zM111.1 87.13h1v1h-1zM119.15 95.07h1v1h-1zM120.26 97.22h1v1h-1z"/>
<path fill="#2b55e8" d="M53.73 120.1h1v1h-1zM54.42 118.68h1v1h-1zM57.18 124.58h1v1h-1zM63.65 121.75h1v1h-1zM62.13 117.1h1v1h-1zM55.17 118.98h1v1h-1zM59.82 118.47h1v1h-1zM59.11 121.69h1v1h-1zM53.71 123.37h1v1h-1zM55.84 119.19h1v1h-1zM51.98 122.46h1v1h-1zM56.29 120.64h1v1h-1zM49.72 123.54h1v1h-1zM56.56 123.98h1v1h-1zM56.05 121.83h1v1h-1zM56.56 122.66h1v1h-1zM56.46 121.19h1v1h-1zM63.77 120.44h1v1h-1zM58.21 118.84h1v1h-1zM60.39 121.86h1v1h-1zM62.28 121.06h1v1h-1zM62.82 120.42h1v1h-1zM62.01 121.05h1v1h-1zM57.46 120.82h1v1h-1zM55.45 119.09h1v1h-1zM56.63 120.13h1v1h-1zM57.76 123.52h1v1h-1zM59.52 120.73h1v1h-1zM59.18 124.03h1v1h-1zM63.54 118.86h1v1h-1zM59.12 118.45h1v1h-1zM66.11 121.46h1v1h-1zM63.3 122.77h1v1h-1zM57.72 119.87h1v1h-1zM62.67 122.47h1v1h-1zM48.9 123.09h1v1h-1zM64.58 123.38h1v1h-1zM61.02 120.98h1v1h-1zM60.96 121.1h1v1h-1zM53.3 117.85h1v1h-1zM68.79 121.25h1v1h-1zM58.56 121.77h1v1h-1zM58.97 124.06h1v1h-1zM63.65 118.62h1v1h-1zM58.79 119.49h1v1h-1zM56.37 119.17h1v1h-1zM61.92 123.02h1v1h-1zM55.76 116.08h1v1h-1zM62.23 119.01h1v1h-1zM60.01 125.37h1v1h-1zM63.65 122.53h1v1h-1zM55.04 118.51h1v1h-1zM64.09 121.08h1v1h-1zM60.58 122.91h1v1h-1zM66.77 122.31h1v1h-1zM57.1 120.75h1v1h-1zM66.34 119.6h1v1h-1zM62.09 122.88h1v1h-1zM62.4 121.19h1v1h-1zM56.82 122.84h1v1h-1zM61.55 122h1v1h-1zM61.97 120.26h1v1h-1zM56.44 124.12h1v1h-1zM55.24 120.19h1v1h-1zM56.65 122.07h1v1h-1zM64.88 119.92h1v1h-1zM60.08 120.73h1v1h-1zM62.95 120.7h1v1h-1zM60.56 119.86h1v1h-1zM59.93 121.68h1v1h-1zM60.32 123.85h1v1h-1zM57.99 124.96h1v1h-1zM63.99 124.1h1v1h-1zM60.14 120.85h1v1h-1zM60.33 124.14h1v1h-1zM54.4 122.05h1v1h-1zM60.64 124.83h1v1h-1zM57.01 118.66h1v1h-1zM57.65 124.19h1v1h-1zM63.32 119.99h1v1h-1zM55.48 123.54h1v1h-1zM58.76 120.26h1v1h-1zM61.81 123.04h1v1h-1zM63.74 120.63h1v1h-1zM57.59 117.41h1v1h-1zM60.67 119.25h1v1h-1zM60.55 120.71h1v1h-1zM55.34 121.25h1v1h-1zM51.62 116.68h1v1h-1zM52.4 118.78h1v1h-1zM61.71 119.73h1v1h-1zM59.88 120.77h1v1h-1zM54.57 121.65h1v1h-1zM57.14 119.55h1v1h-1zM58.03 118.14h1v1h-1zM58.18 121.81h1v1h-1zM59.39 120.53h1v1h-1zM67.62 122.99h1v1h-1zM56.62 120.14h1v1h-1zM60.02 122.5h1v1h-1zM56.66 119.41h1v1h-1zM57.18 121.74h1v1h-1zM56.26 121.38h1v1h-1zM58.65 122.11h1v1h-1zM57.46 119.32h1v1h-1zM60.78 120.96h1v1h-1zM60.28 119.49h1v1h-1zM56.21 120.88h1v1h-1zM66.55 122.45h1v1h-1zM55.2 127.21h1v1h-1zM60.81 121.27h1v1h-1zM67.47 122.64h1v1h-1zM56.87 121.43h1v1h-1zM64.37 123.49h1v1h-1zM64.72 122.13h1v1h-1zM60.74 123.31h1v1h-1zM52.7 121.92h1v1h-1zM64.72 126.03h1v1h-1zM59.84 123.98h1v1h-1zM57.49 117.78h1v1h-1zM64.19 121.81h1v1h-1zM56.83 121.36h1v1h-1zM63.41 116.77h1v1h-1zM57.48 119.47h1v1h-1zM61.47 120.28h1v1h-1zM55.54 119.73h1v1h-1zM58.04 121.47h1v1h-1zM56.13 117.6h1v1h-1zM56.88 122.71h1v1h-1zM60.18 122.76h1v1h-1zM58.87 121.92h1v1h-1zM60.19 120.54h1v1h-1zM64.21 121.22h1v1h-1zM59.08 120.27h1v1h-1zM52.66 123.51h1v1h-1zM58.44 122.22h1v1h-1zM59.79 125.22h1v1h-1zM63.24 120.47h1v1h-1zM63.3 124.12h1v1h-1zM62.99 120.05h1v1h-1zM58.66 120.87h1v1h-1zM61.87 119.11h1v1h-1zM54.19 122.26h1v1h-1zM64.25 121.09h1v1h-1zM61.11 122.46h1v1h-1zM61.36 124.21h1v1h-1zM58.1 121.1h1v1h-1zM59.7 121.97h1v1h-1zM57.04 123.02h1v1h-1zM61.58 121.09h1v1h-1zM54.61 120.11h1v1h-1zM63.07 121.93h1v1h-1zM61.5 122.22h1v1h-1zM66.94 122.78h1v1h-1zM59.36 122.88h1v1h-1zM59.16 119.87h1v1h-1zM60.21 122.11h1v1h-1zM59.63 123.68h1v1h-1zM59.1 120.28h1v1h-1zM55.44 121.94h1v1h-1zM55.43 119.97h1v1h-1zM57.41 121.55h1v1h-1zM58.43 124.7h1v1h-1zM55.13 121.56h1v1h-1zM55.23 119.28h1v1h-1zM58.45 121.91h1v1h-1zM62.22 121.65h1v1h-1zM58.8 123.45h1v1h-1zM61.99 118.46h1v1h-1zM63.07 119.38h1v1h-1zM62.32 121.06h1v1h-1zM57.95 118.1h1v1h-1zM58.01 123.49h1v1h-1zM52.64 117.15h1v1h-1zM56.99 119.55h1v1h-1zM61.22 118.25h1v1h-1zM55.5 119.9h1v1h-1zM64.48 122.82h1v1h-1zM64.77 122.42h1v1h-1zM58.14 123.07h1v1h-1z"/>
<path fill="#6070e0" d="M62.89 122.42h1v1h-1zM54.29 117.14h1v1h-1zM55.64 121.82h1v1h-1zM58.13 117.51h1v1h-1zM59.53 120.21h1v1h-1zM58.82 120.43h1v1h-1zM56.33 120.12h1v1h-1zM66.73 122.2h1v1h-1zM60.57 119.59h1v1h-1zM60.55 124.69h1v1h-1zM62 122.41h1v1h-1zM60.14 123.58h1v1h-1zM58.65 122.74h1v1h-1zM57.45 123.01h1v1h-1zM53.48 121.13h1v1h-1zM64.99 125.15h1v1h-1zM56.11 119.11h1v1h-1zM53.39 122.14h1v1h-1zM56.53 121.22h1v1h-1zM53.61 120.77h1v1h-1zM66.83 121.85h1v1h-1zM60.84 119.71h1v1h-1zM64.68 122.96h1v1h-1zM64.85 122.79h1v1h-1zM61.59 121.41h1v1h-1zM61.61 122.7h1v1h-1zM56.84 119.13h1v1h-1zM59.19 117.59h1v1h-1zM57.28 120.05h1v1h-1zM59.66 120.74h1v1h-1zM56.93 126.21h1v1h-1zM64.16 120.76h1v1h-1zM62.31 123.29h1v1h-1zM59.11 122.91h1v1h-1zM53.36 125.45h1v1h-1zM62.02 121.45h1v1h-1zM62.75 122.53h1v1h-1zM59.25 120.83h1v1h-1zM54.87 119.48h1v1h-1zM61.09 119.2h1v1h-1zM63.36 119.65h1v1h-1zM52.46 124.08h1v1h-1zM61.58 121.79h1v1h-1zM52.83 120.91h1v1h-1zM59.79 121.25h1v1h-1zM65.92 120.09h1v1h-1zM59.84 121.15h1v1h-1zM61.26 121.14h1v1h-1zM58.32 122.52h1v1h-1zM59.48 123.04h1v1h-1zM68.13 117.94h1v1h-1zM64.4 121.68h1v1h-1zM58.35 123.97h1v1h-1zM58.1 119.17h1v1h-1zM59.57 120.72h1v1h-1zM67.56 121.56h1v1h-1zM60.27 123.42h1v1h-1zM63.58 122.41h1v1h-1zM58.16 120.78h1v1h-1zM54.83 122.22h1v1h-1zM64.36 123.3h1v1h-1zM59.22 122h1v1h-1zM56.62 124.94h1v1h-1zM56.96 122.07h1v1h-1zM57.04 119.12h1v1h-1zM57.27 119.65h1v1h-1zM53.85 120.95h1v1h-1zM63.91 120.81h1v1h-1zM60.9 122.47h1v1h-1zM63.08 121.93h1v1h-1zM58.24 124.66h1v1h-1zM60.77 122.85h1v1h-1zM60.11 124.2h1v1h-1zM63.81 119.7h1v1h-1zM62.49 120.37h1v1h-1zM60.81 122.6h1v1h-1zM57.12 121.41h1v1h-1zM55.1 122.48h1v1h-1zM56.57 121.73h1v1h-1zM57.18 119.98h1v1h-1z"/>
<path fill="#2430c8" d="M129.03 121.49h1v1h-1zM125.1 118.15h1v1h-1zM106.21 116.02h1v1h-1zM112.78 111.33h1v1h-1zM117.26 100.26h1v1h-1zM121.86 119.63h1v1h-1zM116.6 115.15h1v1h-1zM107.57 127.57h1v1h-1zM122.93 104.11h1v1h-1zM115.66 120.8h1v1h-1zM125.54 110.22h1v1h-1zM119.23 115.81h1v1h-1zM124.13 110.6h1v1h-1zM122.97 117.89h1v1h-1zM123.3 115.65h1v1h-1zM113.56 121.01h1v1h-1zM124.33 116.69h1v1h-1zM118.55 118.65h1v1h-1zM108.4 123.37h1v1h-1zM114.37 118.89h1v1h-1zM114.77 115.04h1v1h-1zM120.42 123.15h1v1h-1zM121.93 115.17h1v1h-1zM109.34 118.24h1v1h-1zM122.21 113.94h1v1h-1zM116.69 111.92h1v1h-1zM109.76 98.12h1v1h-1zM122.98 119.94h1v1h-1zM111.83 109.03h1v1h-1zM108.81 120.17h1v1h-1zM122.44 126.49h1v1h-1zM123.45 108.06h1v1h-1zM112.55 121.02h1v1h-1zM124.55 115.27h1v1h-1zM124.17 118.52h1v1h-1zM113.54 108.79h1v1h-1zM131.13 116.02h1v1h-1zM116.76 116.77h1v1h-1zM118.74 124.28h1v1h-1zM100.5 128.49h1v1h-1zM121.62 117.7h1v1h-1zM112.85 113.7h1v1h-1zM120.26 128.94h1v1h-1zM105.23 115.23h1v1h-1zM125.26 115.52h1v1h-1zM127.36 116.46h1v1h-1zM130.39 118.61h1v1h-1zM96.55 120.05h1v1h-1zM121.3 112.47h1v1h-1zM119.61 115.22h1v1h-1zM96.09 126.95h1v1h-1zM112.09 125.32h1v1h-1zM116.62 118.5h1v1h-1zM127.15 117.49h1v1h-1zM111.4 114.52h1v1h-1zM118.66 121.92h1v1h-1zM116.83 112.84h1v1h-1zM119.79 116.61h1v1h-1zM114.46 113.19h1v1h-1zM123.48 112.21h1v1h-1zM124.04 116.12h1v1h-1zM107.74 115.92h1v1h-1zM125.09 112.47h1v1h-1zM112.03 115.51h1v1h-1zM115.34 116.29h1v1h-1zM125.12 113.13h1v1h-1zM117.96 112.03h1v1h-1zM121.29 115.08h1v1h-1zM122.79 120.03h1v1h-1zM121.47 122.42h1v1h-1zM113.53 116.99h1v1h-1zM110.65 114.31h1v1h-1zM122.06 115.72h1v1h-1zM122.6 127.16h1v1h-1zM119.8 121.29h1v1h-1zM115.99 110.29h1v1h-1zM123.3 115.59h1v1h-1zM117.13 112.78h1v1h-1zM107.76 113.75h1v1h-1zM119.29 105.98h1v1h-1zM120.85 116.07h1v1h-1zM122.74 107.9h1v1h-1zM111.11 112.43h1v1h-1zM112.1 124.85h1v1h-1zM119.67 121.79h1v1h-1zM114.23 110.78h1v1h-1zM116.89 109.81h1v1h-1zM123.92 110.53h1v1h-1zM120.12 104.79h1v1h-1zM130.12 110.12h1v1h-1zM119.42 114.31h1v1h-1zM129.33 109.73h1v1h-1zM124.83 120.36h1v1h-1zM135.18 115.6h1v1h-1zM117.55 112.77h1v1h-1zM116.85 126.23h1v1h-1zM126.56 120.09h1v1h-1zM113.87 116.32h1v1h-1zM114.24 126.82h1v1h-1zM119.21 123.66h1v1h-1zM120.12 111.75h1v1h-1zM107.73 117.82h1v1h-1zM119.29 113.33h1v1h-1zM115.37 107.43h1v1h-1zM117.35 127.12h1v1h-1zM118.77 124.77h1v1h-1zM116.22 108.41h1v1h-1zM125.03 118.82h1v1h-1zM120.96 106.22h1v1h-1zM116.28 122.26h1v1h-1zM118.12 115.6h1v1h-1zM124.84 114.19h1v1h-1zM123.08 123.35h1v1h-1zM126.44 115.97h1v1h-1zM116.67 114.38h1v1h-1zM118.6 121.32h1v1h-1zM131.65 114.12h1v1h-1zM117.39 121.08h1v1h-1zM129.35 115.93h1v1h-1zM123.54 120.81h1v1h-1zM114.69 119.63h1v1h-1zM107.95 120.6h1v1h-1zM122.1 109.95h1v1h-1zM112.78 127.07h1v1h-1zM112.76 114.96h1v1h-1zM105.66 126.36h1v1h-1zM125.95 112.38h1v1h-1zM118.42 114.3h1v1h-1zM117.88 114.36h1v1h-1zM120.45 122.78h1v1h-1zM119.4 113.38h1v1h-1zM118.38 118.39h1v1h-1zM121.31 106.61h1v1h-1zM115.8 113.07h1v1h-1zM99.77 117.25h1v1h-1zM122.86 115.28h1v1h-1zM120.68 104.78h1v1h-1zM117.89 118.9h1v1h-1zM128.77 110.17h1v1h-1zM108.03 127.46h1v1h-1zM97.61 114.78h1v1h-1zM128.07 129.37h1v1h-1zM120.61 119.88h1v1h-1zM106.31 118.66h1v1h-1zM114.9 113.06h1v1h-1zM122.04 115.22h1v1h-1zM109.3 118.62h1v1h-1zM121.59 104.31h1v1h-1zM132.45 121.85h1v1h-1zM127.39 108.94h1v1h-1zM117.52 114.38h1v1h-1zM119.98 99.61h1v1h-1zM111.14 118.63h1v1h-1zM118.65 120.37h1v1h-1zM115.42 117.61h1v1h-1zM110.82 117.84h1v1h-1zM108.4 113.7h1v1h-1zM131.15 116.83h1v1h-1zM118.33 123.14h1v1h-1zM110.63 113.37h1v1h-1zM114.8 118.92h1v1h-1zM128.07 120.26h1v1h-1zM128.99 114.51h1v1h-1zM113.46 117.34h1v1h-1zM119.09 117.22h1v1h-1zM123.92 112.95h1v1h-1zM115.32 130.47h1v1h-1zM109.56 113.32h1v1h-1zM110.95 126.16h1v1h-1zM117.8 122.32h1v1h-1zM112.36 103.73h1v1h-1zM108.72 117.42h1v1h-1zM116.08 122.09h1v1h-1zM124.2 120.8h1v1h-1zM122.47 110.5h1v1h-1zM116.13 117.46h1v1h-1zM130.98 108.73h1v1h-1zM112.26 109.68h1v1h-1zM117.19 114.47h1v1h-1zM108.23 117.04h1v1h-1zM123.12 125.54h1v1h-1zM116.84 118.06h1v1h-1zM106.02 122.27h1v1h-1zM111.96 108.71h1v1h-1zM130.19 108.97h1v1h-1zM122.73 112.99h1v1h-1zM118.47 126.43h1v1h-1zM123.71 107.87h1v1h-1zM106.6 106.4h1v1h-1zM111.95 115.45h1v1h-1zM108.48 123.05h1v1h-1zM111.94 106.11h1v1h-1zM115.03 114.38h1v1h-1zM121.37 107.74h1v1h-1zM124.68 124.61h1v1h-1zM124.49 120.06h1v1h-1zM136.34 117.55h1v1h-1zM114.25 115.61h1v1h-1zM117.55 114.48h1v1h-1zM121.21 116.72h1v1h-1zM111.92 111.99h1v1h-1zM115.68 110.58h1v1h-1zM120.51 109.2h1v1h-1zM111.53 115.96h1v1h-1zM120.94 111.1h1v1h-1zM126.18 121.15h1v1h-1zM109.91 103.23h1v1h-1zM101.79 119.31h1v1h-1zM118.23 119.1h1v1h-1zM110.42 123.21h1v1h-1zM118.85 114.36h1v1h-1zM114.52 106.84h1v1h-1zM119.76 110.31h1v1h-1zM125.5 122.7h1v1h-1zM123.32 114.04h1v1h-1zM115.15 113.39h1v1h-1zM109.5 112.35h1v1h-1zM100.36 115.49h1v1h-1zM102.51 114.5h1v1h-1zM112.08 106.48h1v1h-1zM118.27 112.27h1v1h-1zM112.88 121.94h1v1h-1zM113.42 124.6h1v1h-1zM106.44 115.13h1v1h-1zM106.06 112.75h1v1h-1zM105.52 124.05h1v1h-1zM121.8 114.8h1v1h-1zM103.7 108.77h1v1h-1zM122.14 115.11h1v1h-1zM111.14 120.06h1v1h-1zM121.12 125.27h1v1h-1zM119.03 112.93h1v1h-1zM122.59 119.12h1v1h-1zM125.58 113.87h1v1h-1zM111.85 122.74h1v1h-1zM110.52 117.42h1v1h-1zM114.2 117.44h1v1h-1zM111.86 109.93h1v1h-1zM121.8 113.93h1v1h-1zM116.39 113.91h1v1h-1zM117.2 94.14h1v1h-1zM120.04 121.03h1v1h-1zM113.85 115.8h1v1h-1zM124.76 114.6h1v1h-1zM104.32 113.68h1v1h-1zM118.73 116.01h1v1h-1zM120.57 117.31h1v1h-1zM111.74 107.97h1v1h-1zM112.25 116.61h1v1h-1zM123.36 116.54h1v1h-1zM114.84 116.02h1v1h-1zM103.68 106.89h1v1h-1zM107.66 115.01h1v1h-1zM124.05 108.11h1v1h-1zM110.91 117.96h1v1h-1zM126.15 123.79h1v1h-1zM126.56 121.1h1v1h-1zM115.62 113.8h1v1h-1zM120.8 112.59h1v1h-1zM111.26 112.44h1v1h-1zM114.2 117.96h1v1h-1zM112.14 111.84h1v1h-1zM121.1 112.62h1v1h-1zM108.07 100.73h1v1h-1zM116.08 110.72h1v1h-1zM117.34 111.12h1v1h-1zM120.59 112.6h1v1h-1zM102.21 123.17h1v1h-1zM104.53 107.66h1v1h-1zM110.85 107.83h1v1h-1zM115.41 119.47h1v1h-1zM117.94 109.92h1v1h-1zM118.3 114.85h1v1h-1zM131 116.89h1v1h-1zM121.51 115.94h1v1h-1zM121.04 111.16h1v1h-1zM113.55 121.38h1v1h-1zM122.39 124.88h1v1h-1zM121.75 109.79h1v1h-1zM121.6 114.2h1v1h-1zM116.15 121.51h1v1h-1zM121.27 114.59h1v1h-1zM127.54 109.8h1v1h-1zM111.38 113.25h1v1h-1zM101.89 120.85h1v1h-1zM122.62 109.84h1v1h-1zM122.02 117.37h1v1h-1zM115.31 118.14h1v1h-1zM113.83 111.91h1v1h-1zM136.09 119.24h1v1h-1zM113.68 119.86h1v1h-1zM108.43 121.85h1v1h-1zM113.59 121.46h1v1h-1zM120.39 106.86h1v1h-1zM112.65 121.23h1v1h-1zM114.19 119.34h1v1h-1zM119.02 121.72h1v1h-1zM113.91 110.72h1v1h-1zM117.78 121.28h1v1h-1zM116.6 118.08h1v1h-1zM109.5 108.86h1v1h-1zM117.39 123.5h1v1h-1zM108.82 111.14h1v1h-1zM123.37 109.73h1v1h-1zM110.4 118.23h1v1h-1zM115.23 112.2h1v1h-1zM104.24 118.02h1v1h-1zM113.77 114.37h1v1h-1zM108.19 117.55h1v1h-1zM127.25 120.75h1v1h-1zM116.03 115.65h1v1h-1zM120.5 121.08h1v1h-1zM104.72 120.95h1v1h-1zM108.26 110.81h1v1h-1zM115.68 121h1v1h-1zM107.44 119.57h1v1h-1zM124.79 116.66h1v1h-1zM114.06 122.58h1v1h-1zM117.89 125.81h1v1h-1zM118.96 120.43h1v1h-1zM115.81 107.03h1v1h-1zM122.22 118.53h1v1h-1zM112.18 115.07h1v1h-1zM119.38 114.25h1v1h-1zM125.15 117.94h1v1h-1zM118.32 113.9h1v1h-1zM117.7 125.68h1v1h-1zM114.53 117.53h1v1h-1zM117.24 115.99h1v1h-1zM121.51 120.59h1v1h-1zM115.14 120.69h1v1h-1zM105.19 122.99h1v1h-1zM117.97 119.69h1v1h-1zM115.79 115.67h1v1h-1zM120.07 116.7h1v1h-1zM117.1 102.91h1v1h-1zM127.71 107.07h1v1h-1zM108.51 122.13h1v1h-1zM110.12 113.92h1v1h-1zM121.33 126.78h1v1h-1zM109.72 126.72h1v1h-1zM119.07 108.37h1v1h-1zM116.71 117.76h1v1h-1zM103.26 133.25h1v1h-1zM121.42 111.16h1v1h-1zM126.27 118.27h1v1h-1zM118.24 114.51h1v1h-1zM107.16 114.45h1v1h-1zM122.24 114.22h1v1h-1zM109.64 115.79h1v1h-1zM115.97 120.48h1v1h-1zM119.65 111.07h1v1h-1zM111.44 118.93h1v1h-1zM105.15 111.66h1v1h-1zM115.82 119.05h1v1h-1zM116.5 117.8h1v1h-1zM110.92 111.23h1v1h-1zM111.43 116.75h1v1h-1zM121.89 111.48h1v1h-1zM116.17 110.82h1v1h-1zM113.56 122.93h1v1h-1zM112.69 104.96h1v1h-1zM117.95 119.26h1v1h-1zM117.43 120.15h1v1h-1zM115.6 112.34h1v1h-1zM107.25 122.45h1v1h-1zM114.23 121.37h1v1h-1zM112.47 108.12h1v1h-1zM117.23 119.06h1v1h-1zM124.69 118.72h1v1h-1zM123.28 111.47h1v1h-1zM121.17 119.37h1v1h-1zM117.53 120.42h1v1h-1zM114.56 111.57h1v1h-1zM119.06 103.92h1v1h-1zM113.51 118.32h1v1h-1zM114.44 111.44h1v1h-1zM111.02 105.57h1v1h-1zM116.39 113.6h1v1h-1zM116.23 101.58h1v1h-1zM129.34 113.87h1v1h-1zM120.54 124.94h1v1h-1zM114.18 98.76h1v1h-1zM122.05 118.66h1v1h-1zM113.54 110.35h1v1h-1zM123.65 113.43h1v1h-1zM122.06 110.42h1v1h-1zM136.48 119.74h1v1h-1zM109.38 115.84h1v1h-1zM116.26 111.2h1v1h-1zM115.98 108.03h1v1h-1zM118.78 113.33h1v1h-1zM121.6 122.85h1v1h-1zM110.13 108.59h1v1h-1zM111.83 118.41h1v1h-1zM118.81 117.94h1v1h-1zM123.34 103.86h1v1h-1zM109.14 122.56h1v1h-1zM106.22 115.66h1v1h-1zM124.53 129.36h1v1h-1zM122.48 126.39h1v1h-1zM124.13 114.4h1v1h-1zM110.17 114.98h1v1h-1zM115.4 109.84h1v1h-1zM118.3 107.61h1v1h-1zM119.75 120.71h1v1h-1zM115.95 114.39h1v1h-1zM116.42 113.48h1v1h-1zM123.61 114.87h1v1h-1zM113.82 120.02h1v1h-1zM113.05 121.6h1v1h-1zM113.85 115.91h1v1h-1zM113.31 114.74h1v1h-1zM117.65 116.53h1v1h-1zM115.35 128.43h1v1h-1zM113.8 103.35h1v1h-1zM126.36 108.9h1v1h-1zM118.8 118.79h1v1h-1zM114.49 116.81h1v1h-1zM125.29 123.36h1v1h-1zM113.05 123.86h1v1h-1zM116.75 127.91h1v1h-1zM116.13 111.08h1v1h-1zM112.89 119.64h1v1h-1zM114.18 114.48h1v1h-1zM117.33 121.81h1v1h-1zM107.12 117.05h1v1h-1zM114.14 121.3h1v1h-1zM118.44 111.43h1v1h-1zM118.61 116.93h1v1h-1zM118.76 112.82h1v1h-1zM132.48 114.35h1v1h-1zM121.23 113.18h1v1h-1zM115.8 109.69h1v1h-1zM115.94 122.71h1v1h-1zM116.74 117.73h1v1h-1zM119.68 122.57h1v1h-1zM114.77 109.9h1v1h-1zM126.86 104.08h1v1h-1zM109.36 112.02h1v1h-1zM120.98 115.02h1v1h-1zM120.12 120.75h1v1h-1zM109.11 122.36h1v1h-1zM120.96 123.36h1v1h-1zM120.47 125.29h1v1h-1zM112.48 120.38h1v1h-1zM132.22 116.63h1v1h-1zM121.5 111.31h1v1h-1zM114.55 120.12h1v1h-1zM113.56 112.91h1v1h-1z"/>
<path fill="#4a5ee0" d="M111.79 111.06h1v1h-1zM118.47 119.52h1v1h-1zM117.16 117.29h1v1h-1zM107.33 121.16h1v1h-1zM109.81 111.6h1v1h-1zM111.98 123.08h1v1h-1zM114.06 118.14h1v1h-1zM114.33 114.93h1v1h-1zM112.3 111.35h1v1h-1zM121.01 109.4h1v1h-1zM123.06 107.66h1v1h-1zM117.24 124.48h1v1h-1zM102.12 107.33h1v1h-1zM115.7 119.8h1v1h-1zM120.47 114.45h1v1h-1zM116.2 112.46h1v1h-1zM118.55 113.08h1v1h-1zM117.42 115.37h1v1h-1zM106.8 121.46h1v1h-1zM99.9 119.39h1v1h-1zM120.87 115.95h1v1h-1zM113.26 107.62h1v1h-1zM119.49 105.12h1v1h-1zM114.71 127.32h1v1h-1zM115.6 109.83h1v1h-1zM125.84 106.41h1v1h-1zM108.76 122.79h1v1h-1zM116.66 106.83h1v1h-1zM109.46 120.47h1v1h-1zM117.21 121.62h1v1h-1zM119.9 117.47h1v1h-1zM121.06 121.82h1v1h-1zM117.73 107.49h1v1h-1zM107.55 108.51h1v1h-1zM118.35 114.77h1v1h-1zM122.66 115.93h1v1h-1zM123.34 115.43h1v1h-1zM130.97 118.78h1v1h-1zM120.47 111.46h1v1h-1zM109.96 102.98h1v1h-1zM113.27 118.41h1v1h-1zM117.3 114.56h1v1h-1zM123.69 120.9h1v1h-1zM109.14 128.6h1v1h-1zM122.8 116.43h1v1h-1zM121.06 119.48h1v1h-1zM110.95 110.49h1v1h-1zM120.77 121.47h1v1h-1zM111.65 118.01h1v1h-1zM116.7 117.46h1v1h-1zM114.72 121.51h1v1h-1zM118.3 109.05h1v1h-1zM108.89 119.37h1v1h-1zM120.23 118.72h1v1h-1zM102.3 125.61h1v1h-1zM114.03 104.94h1v1h-1zM112.97 115.39h1v1h-1zM127.2 129.28h1v1h-1zM120.3 113.45h1v1h-1zM113.49 113.27h1v1h-1zM110.79 126.79h1v1h-1zM116.96 131.19h1v1h-1zM112.55 116.64h1v1h-1zM131.58 111.59h1v1h-1zM98.3 112.32h1v1h-1zM117.17 113.52h1v1h-1zM100.41 110.79h1v1h-1zM123.63 111.01h1v1h-1zM111.39 116.99h1v1h-1zM127.39 116.17h1v1h-1zM113.11 118.83h1v1h-1zM123.92 116.09h1v1h-1zM118.08 108.56h1v1h-1zM124.59 120.42h1v1h-1zM116.89 117.42h1v1h-1zM96.98 112.38h1v1h-1zM111.92 114.27h1v1h-1zM106.38 117.88h1v1h-1zM123.02 116.4h1v1h-1zM120.31 115.14h1v1h-1zM116.78 120.58h1v1h-1zM119.75 122.4h1v1h-1zM118.04 114.01h1v1h-1zM112.94 115.79h1v1h-1zM129.73 109.18h1v1h-1zM118.33 114.89h1v1h-1zM115.45 118.82h1v1h-1zM106.99 121.18h1v1h-1zM112.61 116.94h1v1h-1zM116.82 115.39h1v1h-1zM115.55 111.56h1v1h-1zM113.57 117.23h1v1h-1zM116.4 109.28h1v1h-1zM109.27 116.69h1v1h-1zM116.79 116.04h1v1h-1zM106.46 110.4h1v1h-1zM111.02 117.91h1v1h-1zM111.83 114.62h1v1h-1zM122.52 119.57h1v1h-1zM119.99 112.97h1v1h-1zM117.23 118.85h1v1h-1zM109.09 125.41h1v1h-1zM114.08 117h1v1h-1zM122.06 120.71h1v1h-1zM125.07 112.01h1v1h-1zM106.94 113.76h1v1h-1zM113.88 104.44h1v1h-1zM117.46 114.99h1v1h-1zM119.07 109.04h1v1h-1zM116.8 116.6h1v1h-1zM121.19 103.38h1v1h-1zM107.13 110.67h1v1h-1zM127.1 116.41h1v1h-1zM109.14 118.28h1v1h-1zM117.15 105.84h1v1h-1zM120.23 113.38h1v1h-1zM124.52 131.47h1v1h-1zM122.78 120.69h1v1h-1zM122.57 116.88h1v1h-1zM125.27 99.16h1v1h-1zM115.76 110.3h1v1h-1zM121.77 119.06h1v1h-1zM127.04 117.33h1v1h-1zM111.74 118.66h1v1h-1zM107.47 121.72h1v1h-1zM110.1 116.49h1v1h-1zM126.21 121.06h1v1h-1zM125.07 105.01h1v1h-1zM114.42 131.08h1v1h-1zM118.44 114.08h1v1h-1zM119.97 111.96h1v1h-1zM123.81 125h1v1h-1zM104.27 119.56h1v1h-1zM113.09 121.79h1v1h-1zM115.08 112.13h1v1h-1zM118.95 117.6h1v1h-1zM117.33 120.2h1v1h-1zM114.72 108.98h1v1h-1zM118.77 114.56h1v1h-1zM99.68 114.4h1v1h-1zM137.36 114.11h1v1h-1zM122.33 111.63h1v1h-1zM122.75 108.23h1v1h-1zM112.46 118.49h1v1h-1zM119.62 117.36h1v1h-1zM130.57 122.88h1v1h-1zM129 115.46h1v1h-1zM117.36 111.8h1v1h-1zM108.57 107.08h1v1h-1zM117.95 116.39h1v1h-1zM114.86 113.98h1v1h-1zM122.56 128.09h1v1h-1zM108.32 129.78h1v1h-1zM115.61 125.44h1v1h-1zM118.68 110.38h1v1h-1zM113.75 107.4h1v1h-1zM123.93 114.44h1v1h-1zM109.28 110.44h1v1h-1zM108.61 124.49h1v1h-1zM114.53 116.57h1v1h-1zM122.43 113.4h1v1h-1zM114.85 115.78h1v1h-1zM112.92 123.48h1v1h-1zM122.27 110.13h1v1h-1zM118.38 118.82h1v1h-1zM113.35 107.83h1v1h-1zM117.71 114.6h1v1h-1zM115.28 111.85h1v1h-1zM120.96 117.77h1v1h-1zM117.84 116.8h1v1h-1zM111.53 123.13h1v1h-1zM113.68 120.02h1v1h-1zM114.1 112.19h1v1h-1zM119.36 107.82h1v1h-1zM119.39 110.91h1v1h-1zM111.31 113.26h1v1h-1zM115.61 114.46h1v1h-1zM118.95 111.25h1v1h-1zM124.23 122.41h1v1h-1zM118.55 121.51h1v1h-1zM129.95 114.2h1v1h-1zM117.05 112.84h1v1h-1zM121.8 114.41h1v1h-1zM114.69 115.58h1v1h-1zM110.21 115.71h1v1h-1zM117.59 106.03h1v1h-1zM120.11 113.23h1v1h-1zM119.04 104.46h1v1h-1zM117.85 116.06h1v1h-1zM114.65 119.94h1v1h-1zM111.38 109.39h1v1h-1zM114.86 116.84h1v1h-1zM120.01 112.12h1v1h-1zM123.28 111.62h1v1h-1zM94.82 127.75h1v1h-1zM120.96 121.24h1v1h-1zM124.13 118.77h1v1h-1zM125.34 113.2h1v1h-1zM119.44 118.33h1v1h-1zM121.36 114.67h1v1h-1zM113.89 118.59h1v1h-1zM116.28 110.38h1v1h-1zM120.4 115.4h1v1h-1zM109.52 113.44h1v1h-1zM111.57 107.26h1v1h-1zM118.19 126.09h1v1h-1zM107.92 120.79h1v1h-1zM117.22 111.04h1v1h-1zM106.92 106.92h1v1h-1zM118.18 111.42h1v1h-1zM117.06 110.74h1v1h-1zM113.1 112.13h1v1h-1zM110.55 106.65h1v1h-1zM113.47 110.8h1v1h-1zM101.84 116.21h1v1h-1zM114.21 118.33h1v1h-1zM117.66 103.8h1v1h-1zM124.95 115.81h1v1h-1zM113.46 109.82h1v1h-1zM115.69 109.49h1v1h-1zM126.19 113.88h1v1h-1zM128.52 111.65h1v1h-1zM113.6 120.06h1v1h-1zM123.9 120.08h1v1h-1zM124.76 113.96h1v1h-1zM120.33 111.9h1v1h-1zM110.25 126.71h1v1h-1zM110.55 127.18h1v1h-1zM120.74 118.17h1v1h-1zM132.52 114.88h1v1h-1zM115.67 121.95h1v1h-1zM127.39 124.65h1v1h-1zM129.59 112.62h1v1h-1zM108.49 126.82h1v1h-1zM112.85 114.85h1v1h-1zM127.01 122.47h1v1h-1zM123.42 112.68h1v1h-1zM120.55 116.23h1v1h-1zM116.79 113.05h1v1h-1zM121.1 115.98h1v1h-1zM112.63 122.03h1v1h-1zM133.68 110.34h1v1h-1zM109.13 114h1v1h-1zM104.8 119.14h1v1h-1zM117.87 112.97h1v1h-1zM126.57 128.24h1v1h-1zM113.56 106.88h1v1h-1zM116.51 131.32h1v1h-1zM110.01 111.79h1v1h-1zM116.37 121.77h1v1h-1zM110.04 125.7h1v1h-1zM110.13 119.07h1v1h-1zM106.97 107.19h1v1h-1zM113.18 113.77h1v1h-1zM129.38 116.24h1v1h-1zM116.48 119.28h1v1h-1zM118.16 121.84h1v1h-1zM131.89 122.7h1v1h-1zM112.61 124.84h1v1h-1zM110.16 109.98h1v1h-1zM120.38 121.89h1v1h-1zM108.59 105.13h1v1h-1zM119.1 116.72h1v1h-1zM124.64 109.25h1v1h-1zM109.6 104.89h1v1h-1zM113.36 121.45h1v1h-1zM128.29 115.63h1v1h-1zM109.74 121.89h1v1h-1zM112.28 106.1h1v1h-1zM118.47 108.33h1v1h-1zM114.74 115.2h1v1h-1zM111.13 111.72h1v1h-1zM127.63 116.25h1v1h-1zM112.95 111.98h1v1h-1zM119.09 113.72h1v1h-1zM114.1 108.79h1v1h-1zM115.32 123.69h1v1h-1zM107.62 113.85h1v1h-1zM123.1 108.55h1v1h-1zM113.97 119.99h1v1h-1zM125.45 118.78h1v1h-1zM109.03 117.14h1v1h-1zM113.61 117.18h1v1h-1zM120.08 113.38h1v1h-1zM117.6 115h1v1h-1zM112.44 102.2h1v1h-1zM115.95 106.23h1v1h-1zM108.13 108.24h1v1h-1zM117.23 117.57h1v1h-1zM99.01 123.32h1v1h-1zM118.03 114.8h1v1h-1zM126 114.16h1v1h-1zM122.88 122.75h1v1h-1zM122.6 113.57h1v1h-1zM114.03 119.84h1v1h-1zM120.16 118.46h1v1h-1zM114.15 107.64h1v1h-1zM116.25 117.75h1v1h-1zM116.19 117.07h1v1h-1zM94.18 108.74h1v1h-1zM123.09 109.44h1v1h-1zM119.93 107.96h1v1h-1zM122.54 124.26h1v1h-1zM110.46 128.82h1v1h-1zM121.53 120.16h1v1h-1zM120.11 125.47h1v1h-1zM101.82 107.5h1v1h-1zM104.98 124.48h1v1h-1zM117.21 127.97h1v1h-1zM112.39 125.77h1v1h-1zM116.75 110.02h1v1h-1zM112.55 122.5h1v1h-1zM126.94 115.11h1v1h-1zM104.06 122.45h1v1h-1zM107.68 111.85h1v1h-1zM110.28 115.89h1v1h-1zM107.66 112.29h1v1h-1zM112.96 118.75h1v1h-1zM116.65 115.19h1v1h-1zM107.83 122.68h1v1h-1zM119.32 120.9h1v1h-1zM125.71 118.38h1v1h-1zM124.24 115.59h1v1h-1zM130.39 113.95h1v1h-1zM124.52 115.85h1v1h-1zM116.67 120.45h1v1h-1zM128.88 116.62h1v1h-1zM121.64 117.61h1v1h-1zM129.52 115.59h1v1h-1zM115.59 115.35h1v1h-1zM102.72 111.71h1v1h-1zM109.03 104.23h1v1h-1zM118.11 119.35h1v1h-1zM120.6 119.28h1v1h-1zM115.52 109.83h1v1h-1zM123.65 127.63h1v1h-1zM109.16 108.61h1v1h-1zM112.17 121.98h1v1h-1zM123.58 117.38h1v1h-1zM117.27 117.77h1v1h-1zM117.57 122.85h1v1h-1zM126.42 121.51h1v1h-1zM124.32 115.97h1v1h-1zM111.58 109.28h1v1h-1zM118.29 108.28h1v1h-1zM105.47 117h1v1h-1zM116.86 125.58h1v1h-1zM119.58 121.26h1v1h-1zM105.27 115.63h1v1h-1zM127.48 117.87h1v1h-1zM130.43 120.06h1v1h-1zM120.3 126.45h1v1h-1zM123.2 111.13h1v1h-1zM127.09 120.31h1v1h-1zM115.81 117.54h1v1h-1zM124 111.13h1v1h-1zM119.57 109.54h1v1h-1zM106.67 123.67h1v1h-1zM110.9 117.87h1v1h-1zM113.17 114.53h1v1h-1zM124.21 116.45h1v1h-1zM117.66 121.9h1v1h-1zM123.65 116.41h1v1h-1zM113.82 125.76h1v1h-1zM108.39 114.22h1v1h-1zM130.92 110.98h1v1h-1zM135.37 115.14h1v1h-1zM119.59 110.03h1v1h-1zM115.67 113.67h1v1h-1zM125.02 123.41h1v1h-1zM109.54 126.38h1v1h-1zM115.6 119.74h1v1h-1zM107.34 117.05h1v1h-1zM120.27 110.21h1v1h-1zM118.68 109.63h1v1h-1zM114.3 118.12h1v1h-1zM112.63 116.86h1v1h-1zM106.78 112.24h1v1h-1zM111.44 113.07h1v1h-1zM125.31 125.48h1v1h-1zM114.64 121.96h1v1h-1zM125.5 116.16h1v1h-1zM111.17 117.25h1v1h-1zM116.47 123.73h1v1h-1zM113.92 118.06h1v1h-1zM115.26 117.31h1v1h-1zM122.2 106.1h1v1h-1zM103.17 105.39h1v1h-1zM122.01 104.02h1v1h-1zM121.7 101.89h1v1h-1zM117.03 115.75h1v1h-1zM117.53 117.88h1v1h-1zM115.53 110.44h1v1h-1zM121.68 118.56h1v1h-1zM117.41 118.57h1v1h-1zM111.31 115.35h1v1h-1zM118.04 106.71h1v1h-1zM123.44 124.77h1v1h-1zM119.51 124.35h1v1h-1zM117.22 112.26h1v1h-1zM118.4 127.85h1v1h-1zM113.68 116.12h1v1h-1zM113.92 110.97h1v1h-1zM104.33 113.3h1v1h-1zM115.78 104.34h1v1h-1zM123.65 113.66h1v1h-1zM114.4 105.92h1v1h-1zM110.92 122.85h1v1h-1zM123.05 117.81h1v1h-1zM118.12 107.23h1v1h-1zM117.97 119.39h1v1h-1zM120.19 105.2h1v1h-1zM121.71 116.8h1v1h-1zM116.73 118.79h1v1h-1zM111.43 116.25h1v1h-1zM128.71 108.86h1v1h-1zM117.4 115.14h1v1h-1zM111.83 114.69h1v1h-1zM118.26 116.2h1v1h-1zM125.02 125.04h1v1h-1zM107.52 126.32h1v1h-1zM125.81 125.62h1v1h-1zM116.11 111.9h1v1h-1zM130.4 111.19h1v1h-1zM121.49 115.96h1v1h-1zM116.31 118.52h1v1h-1zM125.43 103.07h1v1h-1zM125.55 112.02h1v1h-1zM114.67 126.93h1v1h-1zM118.59 108.13h1v1h-1zM113.57 111.25h1v1h-1zM123.17 111.44h1v1h-1zM107.61 118.85h1v1h-1zM115.84 115.42h1v1h-1zM102.77 113.81h1v1h-1zM120.97 106.41h1v1h-1zM102.12 119.6h1v1h-1zM109.95 115.83h1v1h-1zM118.8 111.69h1v1h-1zM114.67 115.97h1v1h-1zM114.06 120.7h1v1h-1zM110.57 106.66h1v1h-1zM113.9 106.19h1v1h-1zM105.31 109.47h1v1h-1zM119.18 110.39h1v1h-1zM122.41 96.9h1v1h-1zM122.12 112.07h1v1h-1zM116.78 122.71h1v1h-1zM125.19 113.76h1v1h-1zM120.12 122.11h1v1h-1z"/>
<ellipse cx="59.5" cy="121.3" rx="7.8" ry="4.4" fill="url(#llg)"/>
<path d="M55,71.5 C61,70 70,70.8 80,73.3 C90,75.6 98,77.5 103,80.5" stroke="#2c44dc" stroke-width="6" fill="none" opacity="0.3" filter="url(#bl1)"/>
<path d="M101,77 C106,83 111,91 117,102" stroke="#2a40d8" stroke-width="6" fill="none" opacity="0.25" filter="url(#bl1)"/>
<path d="M58,71.3 C62,70.5 68,70.8 74,72" stroke="#4a84f4" stroke-width="4" fill="none" opacity="0.55" filter="url(#bl1)"/>
<ellipse cx="117.4" cy="115.8" rx="13.6" ry="11.6" fill="url(#hotg)"/>
<rect x="48.4" y="60.4" width="55.2" height="30.9" fill="none" stroke="#8a8a8a" stroke-width="0.9"/>
<rect x="104.2" y="68.3" width="32.8" height="35.7" fill="none" stroke="#8a8a8a" stroke-width="0.85"/>
<rect x="104.2" y="106.3" width="32.3" height="23.0" fill="none" stroke="#8a8a8a" stroke-width="0.85"/>
<text x="68" y="58.6" font-size="7.8" text-anchor="start" fill="#2e2e2e" font-weight="normal">3</text>
<text x="130.3" y="65.2" font-size="7.8" text-anchor="start" fill="#2e2e2e" font-weight="normal">2</text>
<text x="128.2" y="135.6" font-size="7.8" text-anchor="start" fill="#2e2e2e" font-weight="normal">1</text>
<rect x="41.5" y="45.4" width="99.5" height="92.6" fill="none" stroke="#111" stroke-width="1.3"/>
<line x1="41" y1="138.3" x2="141.6" y2="138.3" stroke="#111" stroke-width="1.2"/>
<line x1="38.5" y1="53.6" x2="41.5" y2="53.6" stroke="#111" stroke-width="1.1"/>
<line x1="38.5" y1="75.2" x2="41.5" y2="75.2" stroke="#111" stroke-width="1.1"/>
<line x1="38.5" y1="96.8" x2="41.5" y2="96.8" stroke="#111" stroke-width="1.1"/>
<line x1="38.5" y1="121.2" x2="41.5" y2="121.2" stroke="#111" stroke-width="1.1"/>
<line x1="38.5" y1="128.6" x2="41.5" y2="128.6" stroke="#111" stroke-width="1.1"/>
<line x1="38.5" y1="136.2" x2="41.5" y2="136.2" stroke="#111" stroke-width="1.1"/>
<line x1="39.7" y1="68.7" x2="41.5" y2="68.7" stroke="#111" stroke-width="0.8"/>
<line x1="39.7" y1="64.89" x2="41.5" y2="64.89" stroke="#111" stroke-width="0.8"/>
<line x1="39.7" y1="62.2" x2="41.5" y2="62.2" stroke="#111" stroke-width="0.8"/>
<line x1="39.7" y1="60.1" x2="41.5" y2="60.1" stroke="#111" stroke-width="0.8"/>
<line x1="39.7" y1="58.39" x2="41.5" y2="58.39" stroke="#111" stroke-width="0.8"/>
<line x1="39.7" y1="56.95" x2="41.5" y2="56.95" stroke="#111" stroke-width="0.8"/>
<line x1="39.7" y1="55.69" x2="41.5" y2="55.69" stroke="#111" stroke-width="0.8"/>
<line x1="39.7" y1="54.59" x2="41.5" y2="54.59" stroke="#111" stroke-width="0.8"/>
<line x1="39.7" y1="90.3" x2="41.5" y2="90.3" stroke="#111" stroke-width="0.8"/>
<line x1="39.7" y1="86.49" x2="41.5" y2="86.49" stroke="#111" stroke-width="0.8"/>
<line x1="39.7" y1="83.8" x2="41.5" y2="83.8" stroke="#111" stroke-width="0.8"/>
<line x1="39.7" y1="81.7" x2="41.5" y2="81.7" stroke="#111" stroke-width="0.8"/>
<line x1="39.7" y1="79.99" x2="41.5" y2="79.99" stroke="#111" stroke-width="0.8"/>
<line x1="39.7" y1="78.55" x2="41.5" y2="78.55" stroke="#111" stroke-width="0.8"/>
<line x1="39.7" y1="77.29" x2="41.5" y2="77.29" stroke="#111" stroke-width="0.8"/>
<line x1="39.7" y1="76.19" x2="41.5" y2="76.19" stroke="#111" stroke-width="0.8"/>
<line x1="39.7" y1="113.85" x2="41.5" y2="113.85" stroke="#111" stroke-width="0.8"/>
<line x1="39.7" y1="109.56" x2="41.5" y2="109.56" stroke="#111" stroke-width="0.8"/>
<line x1="39.7" y1="106.51" x2="41.5" y2="106.51" stroke="#111" stroke-width="0.8"/>
<line x1="39.7" y1="104.15" x2="41.5" y2="104.15" stroke="#111" stroke-width="0.8"/>
<line x1="39.7" y1="102.21" x2="41.5" y2="102.21" stroke="#111" stroke-width="0.8"/>
<line x1="39.7" y1="100.58" x2="41.5" y2="100.58" stroke="#111" stroke-width="0.8"/>
<line x1="39.7" y1="99.16" x2="41.5" y2="99.16" stroke="#111" stroke-width="0.8"/>
<line x1="39.7" y1="97.92" x2="41.5" y2="97.92" stroke="#111" stroke-width="0.8"/>
<line x1="39.7" y1="124.5" x2="41.5" y2="124.5" stroke="#111" stroke-width="0.8"/>
<line x1="39.7" y1="132.5" x2="41.5" y2="132.5" stroke="#111" stroke-width="0.8"/>
<text x="23.9" y="57.5" font-size="7.7" text-anchor="start" fill="#2e2e2e" font-weight="normal" textLength="6.7" lengthAdjust="spacingAndGlyphs">10</text>
<text x="31.3" y="54.8" font-size="6.2" text-anchor="start" fill="#2e2e2e" font-weight="normal" textLength="3.1" lengthAdjust="spacingAndGlyphs">5</text>
<text x="23.9" y="79.1" font-size="7.7" text-anchor="start" fill="#2e2e2e" font-weight="normal" textLength="6.7" lengthAdjust="spacingAndGlyphs">10</text>
<text x="31.3" y="76.4" font-size="6.2" text-anchor="start" fill="#2e2e2e" font-weight="normal" textLength="3.1" lengthAdjust="spacingAndGlyphs">4</text>
<text x="23.9" y="100.7" font-size="7.7" text-anchor="start" fill="#2e2e2e" font-weight="normal" textLength="6.7" lengthAdjust="spacingAndGlyphs">10</text>
<text x="31.3" y="98" font-size="6.2" text-anchor="start" fill="#2e2e2e" font-weight="normal" textLength="3.1" lengthAdjust="spacingAndGlyphs">3</text>
<text x="23.9" y="125.1" font-size="7.7" text-anchor="start" fill="#2e2e2e" font-weight="normal" textLength="6.7" lengthAdjust="spacingAndGlyphs">10</text>
<text x="31.3" y="122.4" font-size="6.2" text-anchor="start" fill="#2e2e2e" font-weight="normal" textLength="3.1" lengthAdjust="spacingAndGlyphs">2</text>
<text x="30.8" y="132.5" font-size="7.7" text-anchor="start" fill="#2e2e2e" font-weight="normal" textLength="3.6" lengthAdjust="spacingAndGlyphs">0</text>
<text x="21.4" y="140.1" font-size="7.7" text-anchor="start" fill="#2e2e2e" font-weight="normal" textLength="9.2" lengthAdjust="spacingAndGlyphs">-10</text>
<text x="31.3" y="137.4" font-size="6.2" text-anchor="start" fill="#2e2e2e" font-weight="normal" textLength="3.1" lengthAdjust="spacingAndGlyphs">2</text>
<line x1="54.1" y1="138" x2="54.1" y2="141" stroke="#111" stroke-width="1.1"/>
<line x1="86" y1="138" x2="86" y2="141" stroke="#111" stroke-width="1.1"/>
<line x1="108.7" y1="138" x2="108.7" y2="141" stroke="#111" stroke-width="1.1"/>
<line x1="131.8" y1="138" x2="131.8" y2="141" stroke="#111" stroke-width="1.1"/>
<line x1="92.83" y1="138" x2="92.83" y2="139.8" stroke="#111" stroke-width="0.8"/>
<line x1="96.83" y1="138" x2="96.83" y2="139.8" stroke="#111" stroke-width="0.8"/>
<line x1="99.67" y1="138" x2="99.67" y2="139.8" stroke="#111" stroke-width="0.8"/>
<line x1="101.87" y1="138" x2="101.87" y2="139.8" stroke="#111" stroke-width="0.8"/>
<line x1="103.66" y1="138" x2="103.66" y2="139.8" stroke="#111" stroke-width="0.8"/>
<line x1="105.18" y1="138" x2="105.18" y2="139.8" stroke="#111" stroke-width="0.8"/>
<line x1="106.5" y1="138" x2="106.5" y2="139.8" stroke="#111" stroke-width="0.8"/>
<line x1="107.66" y1="138" x2="107.66" y2="139.8" stroke="#111" stroke-width="0.8"/>
<line x1="115.65" y1="138" x2="115.65" y2="139.8" stroke="#111" stroke-width="0.8"/>
<line x1="119.72" y1="138" x2="119.72" y2="139.8" stroke="#111" stroke-width="0.8"/>
<line x1="122.61" y1="138" x2="122.61" y2="139.8" stroke="#111" stroke-width="0.8"/>
<line x1="124.85" y1="138" x2="124.85" y2="139.8" stroke="#111" stroke-width="0.8"/>
<line x1="126.68" y1="138" x2="126.68" y2="139.8" stroke="#111" stroke-width="0.8"/>
<line x1="128.22" y1="138" x2="128.22" y2="139.8" stroke="#111" stroke-width="0.8"/>
<line x1="129.56" y1="138" x2="129.56" y2="139.8" stroke="#111" stroke-width="0.8"/>
<line x1="130.74" y1="138" x2="130.74" y2="139.8" stroke="#111" stroke-width="0.8"/>
<line x1="45.5" y1="138" x2="45.5" y2="139.8" stroke="#111" stroke-width="0.8"/>
<line x1="49.5" y1="138" x2="49.5" y2="139.8" stroke="#111" stroke-width="0.8"/>
<line x1="58.5" y1="138" x2="58.5" y2="139.8" stroke="#111" stroke-width="0.8"/>
<line x1="63" y1="138" x2="63" y2="139.8" stroke="#111" stroke-width="0.8"/>
<line x1="67.5" y1="138" x2="67.5" y2="139.8" stroke="#111" stroke-width="0.8"/>
<line x1="72" y1="138" x2="72" y2="139.8" stroke="#111" stroke-width="0.8"/>
<line x1="76.5" y1="138" x2="76.5" y2="139.8" stroke="#111" stroke-width="0.8"/>
<line x1="81" y1="138" x2="81" y2="139.8" stroke="#111" stroke-width="0.8"/>
<text x="52.3" y="151.6" font-size="7.7" text-anchor="start" fill="#2e2e2e" font-weight="normal" textLength="3.6" lengthAdjust="spacingAndGlyphs">0</text>
<text x="80.75" y="151.6" font-size="7.7" text-anchor="start" fill="#2e2e2e" font-weight="normal" textLength="6.7" lengthAdjust="spacingAndGlyphs">10</text>
<text x="88.15" y="148.9" font-size="6.2" text-anchor="start" fill="#2e2e2e" font-weight="normal" textLength="3.1" lengthAdjust="spacingAndGlyphs">3</text>
<text x="103.45" y="151.6" font-size="7.7" text-anchor="start" fill="#2e2e2e" font-weight="normal" textLength="6.7" lengthAdjust="spacingAndGlyphs">10</text>
<text x="110.85" y="148.9" font-size="6.2" text-anchor="start" fill="#2e2e2e" font-weight="normal" textLength="3.1" lengthAdjust="spacingAndGlyphs">4</text>
<text x="126.55" y="151.6" font-size="7.7" text-anchor="start" fill="#2e2e2e" font-weight="normal" textLength="6.7" lengthAdjust="spacingAndGlyphs">10</text>
<text x="133.95" y="148.9" font-size="6.2" text-anchor="start" fill="#2e2e2e" font-weight="normal" textLength="3.1" lengthAdjust="spacingAndGlyphs">5</text>
<text x="91.5" y="163.2" font-size="8.4" text-anchor="middle" fill="#2e2e2e" font-weight="normal" textLength="18.2" lengthAdjust="spacingAndGlyphs">CD14</text>
<text x="15.2" y="92.5" font-size="8.4" text-anchor="middle" fill="#2e2e2e" font-weight="normal" textLength="18.2" lengthAdjust="spacingAndGlyphs" transform="rotate(-90 15.2 92.5)">CD16</text>
<path d="M198.5,138.2 C198.75,137.67 199.58,137.7 200,135 C200.42,132.3 200.7,127.83 201,122 C201.3,116.17 201.55,107 201.8,100 C202.05,93 202.25,86.33 202.5,80 C202.75,73.67 203,66.9 203.3,62 C203.6,57.1 203.97,50.6 204.3,50.6 C204.63,50.6 204.98,57.1 205.3,62 C205.62,66.9 205.87,74.17 206.2,80 C206.53,85.83 206.92,91.67 207.3,97 C207.68,102.33 208.05,107.5 208.5,112 C208.95,116.5 209.42,120.75 210,124 C210.58,127.25 211.17,129.58 212,131.5 C212.83,133.42 213.83,134.5 215,135.5 C216.17,136.5 217.67,137.05 219,137.5 C220.33,137.95 222.33,138.08 223,138.2 Z" stroke="none" stroke-width="1" fill="#c6c6c6"/>
<path d="M302,138.2 C302.33,137.83 303.47,137.37 304,136 C304.53,134.63 304.82,133 305.2,130 C305.58,127 305.95,122.33 306.3,118 C306.65,113.67 306.97,109 307.3,104 C307.63,99 307.98,93.33 308.3,88 C308.62,82.67 308.93,77 309.2,72 C309.47,67 309.68,61.58 309.9,58 C310.12,54.42 310.3,50.5 310.5,50.5 C310.7,50.5 310.87,54.42 311.1,58 C311.33,61.58 311.62,67 311.9,72 C312.18,77 312.48,82.67 312.8,88 C313.12,93.33 313.43,99 313.8,104 C314.17,109 314.5,114 315,118 C315.5,122 316.13,125.42 316.8,128 C317.47,130.58 318.05,132.08 319,133.5 C319.95,134.92 321,135.72 322.5,136.5 C324,137.28 327.08,137.92 328,138.2 Z" stroke="none" stroke-width="1" fill="#c6c6c6"/>
<path d="M408,138.2 C408.3,137.83 409.33,137.2 409.8,136 C410.27,134.8 410.47,133 410.8,131 C411.13,129 411.47,127.17 411.8,124 C412.13,120.83 412.5,116.67 412.8,112 C413.1,107.33 413.33,101.33 413.6,96 C413.87,90.67 414.13,85.5 414.4,80 C414.67,74.5 414.92,68 415.2,63 C415.48,58 415.8,50 416.1,50 C416.4,50 416.72,58 417,63 C417.28,68 417.53,74.5 417.8,80 C418.07,85.5 418.3,91 418.6,96 C418.9,101 419.2,106 419.6,110 C420,114 420.43,117.08 421,120 C421.57,122.92 422.17,125.42 423,127.5 C423.83,129.58 424.83,131.08 426,132.5 C427.17,133.92 428.33,135.05 430,136 C431.67,136.95 435,137.83 436,138.2 Z" stroke="none" stroke-width="1" fill="#c6c6c6"/>
<path d="M199,138.2 C199.67,137.92 201.92,138.2 203,136.5 C204.08,134.8 204.73,133.58 205.5,128 C206.27,122.42 206.93,110.55 207.6,103 C208.27,95.45 208.87,89.22 209.5,82.7 C210.13,76.18 210.67,69.13 211.4,63.9 C212.13,58.67 212.97,52.35 213.9,51.3 C214.83,50.25 216.17,53.42 217,57.6 C217.83,61.78 218.27,71.17 218.9,76.4 C219.53,81.63 220.27,85.9 220.8,89 C221.33,92.1 221.5,92.08 222.1,95 C222.7,97.92 223.63,102.67 224.4,106.5 C225.17,110.33 225.63,114.15 226.7,118 C227.77,121.85 229.17,126.52 230.8,129.6 C232.43,132.68 234.8,135.07 236.5,136.5 C238.2,137.93 240.25,137.92 241,138.2" stroke="#1a3058" stroke-width="1.3" fill="none" stroke-dasharray="1.2 0.8"/>
<path d="M305,138.2 C306.07,138.07 309.57,137.77 311.4,137.4 C313.23,137.03 314.57,136.73 316,136 C317.43,135.27 318.67,134.25 320,133 C321.33,131.75 322.75,130.25 324,128.5 C325.25,126.75 326.42,124.75 327.5,122.5 C328.58,120.25 329.58,117.75 330.5,115 C331.42,112.25 332.28,109.17 333,106 C333.72,102.83 334.27,99 334.8,96 C335.33,93 335.73,89.92 336.2,88 C336.67,86.08 337.1,86.17 337.6,84.5 C338.1,82.83 338.6,80.75 339.2,78 C339.8,75.25 340.52,71.17 341.2,68 C341.88,64.83 342.7,59.67 343.3,59 C343.9,58.33 344.32,61.67 344.8,64 C345.28,66.33 345.78,69.67 346.2,73 C346.62,76.33 346.95,80.33 347.3,84 C347.65,87.67 347.93,91.5 348.3,95 C348.67,98.5 349.08,101.83 349.5,105 C349.92,108.17 350.33,111 350.8,114 C351.27,117 351.77,120.25 352.3,123 C352.83,125.75 353.3,128.42 354,130.5 C354.7,132.58 355.5,134.32 356.5,135.5 C357.5,136.68 358.75,137.15 360,137.6 C361.25,138.05 363.33,138.1 364,138.2" stroke="#1a3058" stroke-width="1.3" fill="none" stroke-dasharray="1.2 0.8"/>
<path d="M428,138.2 C429.2,138.1 433,138.38 435.2,137.6 C437.4,136.82 439.57,135.68 441.2,133.5 C442.83,131.32 443.97,127.75 445,124.5 C446.03,121.25 446.7,117.75 447.4,114 C448.1,110.25 448.7,105.67 449.2,102 C449.7,98.33 450.02,95.67 450.4,92 C450.78,88.33 451.13,84 451.5,80 C451.87,76 452.18,71.7 452.6,68 C453.02,64.3 453.57,58.47 454,57.8 C454.43,57.13 454.82,61.63 455.2,64 C455.58,66.37 455.95,69.25 456.3,72 C456.65,74.75 456.95,77.58 457.3,80.5 C457.65,83.42 458.02,86.58 458.4,89.5 C458.78,92.42 459.13,94.92 459.6,98 C460.07,101.08 460.67,104.83 461.2,108 C461.73,111.17 462.17,113.75 462.8,117 C463.43,120.25 464.22,124.58 465,127.5 C465.78,130.42 466.58,132.82 467.5,134.5 C468.42,136.18 469.42,136.98 470.5,137.6 C471.58,138.22 473.42,138.1 474,138.2" stroke="#1a3058" stroke-width="1.3" fill="none" stroke-dasharray="1.2 0.8"/>
<path d="M192,138.2 C193.08,138.17 196.55,138.28 198.5,138 C200.45,137.72 202.37,138.28 203.7,136.5 C205.03,134.72 205.73,131.33 206.5,127.3 C207.27,123.27 207.72,117.68 208.3,112.3 C208.88,106.92 209.47,100.38 210,95 C210.53,89.62 210.97,84.77 211.5,80 C212.03,75.23 212.6,70.57 213.2,66.4 C213.8,62.23 214.47,57.52 215.1,55 C215.73,52.48 216.45,51.05 217,51.3 C217.55,51.55 217.87,54.97 218.4,56.5 C218.93,58.03 219.58,58.58 220.2,60.5 C220.82,62.42 221.47,64.92 222.1,68 C222.73,71.08 223.35,75.17 224,79 C224.65,82.83 225.32,87.25 226,91 C226.68,94.75 227.33,98 228.1,101.5 C228.87,105 229.68,108.58 230.6,112 C231.52,115.42 232.53,119 233.6,122 C234.67,125 235.77,127.67 237,130 C238.23,132.33 239.67,134.65 241,136 C242.33,137.35 237,137.73 245,138.1 C253,138.47 281.67,138.18 289,138.2" stroke="#9a1642" stroke-width="1.7" fill="none" stroke-linejoin="round"/>
<path d="M298,138.2 C300.23,138.1 308.23,137.88 311.4,137.6 C314.57,137.32 315.4,137.02 317,136.5 C318.6,135.98 319.75,135.33 321,134.5 C322.25,133.67 323.42,132.08 324.5,131.5 C325.58,130.92 326.5,131.42 327.5,131 C328.5,130.58 329.42,129.58 330.5,129 C331.58,128.42 332.83,128.25 334,127.5 C335.17,126.75 336.58,126.08 337.5,124.5 C338.42,122.92 338.92,120.75 339.5,118 C340.08,115.25 340.55,111.67 341,108 C341.45,104.33 341.82,99.67 342.2,96 C342.58,92.33 342.93,88.63 343.3,86 C343.67,83.37 343.98,80.53 344.4,80.2 C344.82,79.87 345.33,82.95 345.8,84 C346.27,85.05 346.73,85.5 347.2,86.5 C347.67,87.5 348.13,88.25 348.6,90 C349.07,91.75 349.52,94.33 350,97 C350.48,99.67 350.95,102.83 351.5,106 C352.05,109.17 352.63,112.83 353.3,116 C353.97,119.17 354.72,122.42 355.5,125 C356.28,127.58 357.02,129.78 358,131.5 C358.98,133.22 360.2,134.72 361.4,135.3 C362.6,135.88 364.1,135.55 365.2,135 C366.3,134.45 367.23,132.63 368,132 C368.77,131.37 369.13,131.03 369.8,131.2 C370.47,131.37 371.22,132.23 372,133 C372.78,133.77 373.58,135.1 374.5,135.8 C375.42,136.5 375.83,136.87 377.5,137.2 C379.17,137.53 381.58,137.63 384.5,137.8 C387.42,137.97 393.25,138.13 395,138.2" stroke="#9a1642" stroke-width="1.7" fill="none" stroke-linejoin="round"/>
<path d="M403,138.2 C406.67,138.18 419.63,138.2 425,138.1 C430.37,138 432.5,138.2 435.2,137.6 C437.9,137 439.52,136.18 441.2,134.5 C442.88,132.82 444.23,130.58 445.3,127.5 C446.37,124.42 446.95,119.58 447.6,116 C448.25,112.42 448.75,109 449.2,106 C449.65,103 449.97,101.17 450.3,98 C450.63,94.83 450.95,89.83 451.2,87 C451.45,84.17 451.48,82.4 451.8,81 C452.12,79.6 452.68,79.43 453.1,78.6 C453.52,77.77 453.95,76.63 454.3,76 C454.65,75.37 454.87,74.77 455.2,74.8 C455.53,74.83 455.92,75.33 456.3,76.2 C456.68,77.07 457.15,78.45 457.5,80 C457.85,81.55 458.12,83.25 458.4,85.5 C458.68,87.75 458.88,91.58 459.2,93.5 C459.52,95.42 459.9,95.95 460.3,97 C460.7,98.05 461.08,98.4 461.6,99.8 C462.12,101.2 462.7,102.47 463.4,105.4 C464.1,108.33 464.97,116.07 465.8,117.4 C466.63,118.73 467.47,114.57 468.4,113.4 C469.33,112.23 470.4,111.73 471.4,110.4 C472.4,109.07 473.55,107.08 474.4,105.4 C475.25,103.72 475.82,101.82 476.5,100.3 C477.18,98.78 477.83,96.63 478.5,96.3 C479.17,95.97 480,98.3 480.5,98.3 C481,98.3 481,96.87 481.5,96.3 C482,95.73 482.83,94.4 483.5,94.9 C484.17,95.4 484.83,96.55 485.5,99.3 C486.17,102.05 486.83,107.7 487.5,111.4 C488.17,115.1 488.83,118.48 489.5,121.5 C490.17,124.52 490.82,127.33 491.5,129.5 C492.18,131.67 492.75,133.33 493.6,134.5 C494.45,135.67 495.45,135.88 496.6,136.5 C497.75,137.12 499.85,137.92 500.5,138.2" stroke="#9a1642" stroke-width="1.7" fill="none" stroke-linejoin="round"/>
<rect x="190" y="45.5" width="99.4" height="92.7" fill="none" stroke="#111" stroke-width="1.3"/>
<line x1="189.5" y1="138.4" x2="290" y2="138.4" stroke="#111" stroke-width="1"/>
<line x1="186.7" y1="138.2" x2="190" y2="138.2" stroke="#111" stroke-width="1.1"/>
<line x1="188.2" y1="133.77" x2="190" y2="133.77" stroke="#111" stroke-width="0.9"/>
<line x1="188.2" y1="129.33" x2="190" y2="129.33" stroke="#111" stroke-width="0.9"/>
<line x1="188.2" y1="124.9" x2="190" y2="124.9" stroke="#111" stroke-width="0.9"/>
<line x1="186.7" y1="120.46" x2="190" y2="120.46" stroke="#111" stroke-width="1.1"/>
<line x1="188.2" y1="116.03" x2="190" y2="116.03" stroke="#111" stroke-width="0.9"/>
<line x1="188.2" y1="111.6" x2="190" y2="111.6" stroke="#111" stroke-width="0.9"/>
<line x1="188.2" y1="107.16" x2="190" y2="107.16" stroke="#111" stroke-width="0.9"/>
<line x1="186.7" y1="102.73" x2="190" y2="102.73" stroke="#111" stroke-width="1.1"/>
<line x1="188.2" y1="98.29" x2="190" y2="98.29" stroke="#111" stroke-width="0.9"/>
<line x1="188.2" y1="93.86" x2="190" y2="93.86" stroke="#111" stroke-width="0.9"/>
<line x1="188.2" y1="89.43" x2="190" y2="89.43" stroke="#111" stroke-width="0.9"/>
<line x1="186.7" y1="84.99" x2="190" y2="84.99" stroke="#111" stroke-width="1.1"/>
<line x1="188.2" y1="80.56" x2="190" y2="80.56" stroke="#111" stroke-width="0.9"/>
<line x1="188.2" y1="76.12" x2="190" y2="76.12" stroke="#111" stroke-width="0.9"/>
<line x1="188.2" y1="71.69" x2="190" y2="71.69" stroke="#111" stroke-width="0.9"/>
<line x1="186.7" y1="67.26" x2="190" y2="67.26" stroke="#111" stroke-width="1.1"/>
<line x1="188.2" y1="62.82" x2="190" y2="62.82" stroke="#111" stroke-width="0.9"/>
<line x1="188.2" y1="58.39" x2="190" y2="58.39" stroke="#111" stroke-width="0.9"/>
<line x1="188.2" y1="53.95" x2="190" y2="53.95" stroke="#111" stroke-width="0.9"/>
<line x1="186.7" y1="49.52" x2="190" y2="49.52" stroke="#111" stroke-width="1.1"/>
<line x1="202.1" y1="138.2" x2="202.1" y2="141" stroke="#111" stroke-width="1.1"/>
<line x1="234" y1="138.2" x2="234" y2="141" stroke="#111" stroke-width="1.1"/>
<line x1="258.2" y1="138.2" x2="258.2" y2="141" stroke="#111" stroke-width="1.1"/>
<line x1="280" y1="138.2" x2="280" y2="141" stroke="#111" stroke-width="1.1"/>
<line x1="241.28" y1="138.2" x2="241.28" y2="139.9" stroke="#111" stroke-width="0.8"/>
<line x1="245.55" y1="138.2" x2="245.55" y2="139.9" stroke="#111" stroke-width="0.8"/>
<line x1="248.57" y1="138.2" x2="248.57" y2="139.9" stroke="#111" stroke-width="0.8"/>
<line x1="250.92" y1="138.2" x2="250.92" y2="139.9" stroke="#111" stroke-width="0.8"/>
<line x1="252.83" y1="138.2" x2="252.83" y2="139.9" stroke="#111" stroke-width="0.8"/>
<line x1="254.45" y1="138.2" x2="254.45" y2="139.9" stroke="#111" stroke-width="0.8"/>
<line x1="255.85" y1="138.2" x2="255.85" y2="139.9" stroke="#111" stroke-width="0.8"/>
<line x1="257.09" y1="138.2" x2="257.09" y2="139.9" stroke="#111" stroke-width="0.8"/>
<line x1="264.76" y1="138.2" x2="264.76" y2="139.9" stroke="#111" stroke-width="0.8"/>
<line x1="268.6" y1="138.2" x2="268.6" y2="139.9" stroke="#111" stroke-width="0.8"/>
<line x1="271.32" y1="138.2" x2="271.32" y2="139.9" stroke="#111" stroke-width="0.8"/>
<line x1="273.44" y1="138.2" x2="273.44" y2="139.9" stroke="#111" stroke-width="0.8"/>
<line x1="275.16" y1="138.2" x2="275.16" y2="139.9" stroke="#111" stroke-width="0.8"/>
<line x1="276.62" y1="138.2" x2="276.62" y2="139.9" stroke="#111" stroke-width="0.8"/>
<line x1="277.89" y1="138.2" x2="277.89" y2="139.9" stroke="#111" stroke-width="0.8"/>
<line x1="279" y1="138.2" x2="279" y2="139.9" stroke="#111" stroke-width="0.8"/>
<line x1="193" y1="138.2" x2="193" y2="139.9" stroke="#111" stroke-width="0.8"/>
<line x1="197.5" y1="138.2" x2="197.5" y2="139.9" stroke="#111" stroke-width="0.8"/>
<line x1="206" y1="138.2" x2="206" y2="139.9" stroke="#111" stroke-width="0.8"/>
<line x1="210.5" y1="138.2" x2="210.5" y2="139.9" stroke="#111" stroke-width="0.8"/>
<line x1="215" y1="138.2" x2="215" y2="139.9" stroke="#111" stroke-width="0.8"/>
<line x1="219.5" y1="138.2" x2="219.5" y2="139.9" stroke="#111" stroke-width="0.8"/>
<line x1="223.5" y1="138.2" x2="223.5" y2="139.9" stroke="#111" stroke-width="0.8"/>
<line x1="227.5" y1="138.2" x2="227.5" y2="139.9" stroke="#111" stroke-width="0.8"/>
<line x1="230.5" y1="138.2" x2="230.5" y2="139.9" stroke="#111" stroke-width="0.8"/>
<line x1="282" y1="138.2" x2="282" y2="139.9" stroke="#111" stroke-width="0.8"/>
<line x1="284" y1="138.2" x2="284" y2="139.9" stroke="#111" stroke-width="0.8"/>
<line x1="286" y1="138.2" x2="286" y2="139.9" stroke="#111" stroke-width="0.8"/>
<text x="200.3" y="151.6" font-size="7.7" text-anchor="start" fill="#2e2e2e" font-weight="normal" textLength="3.6" lengthAdjust="spacingAndGlyphs">0</text>
<text x="228.75" y="151.6" font-size="7.7" text-anchor="start" fill="#2e2e2e" font-weight="normal" textLength="6.7" lengthAdjust="spacingAndGlyphs">10</text>
<text x="236.15" y="148.9" font-size="6.2" text-anchor="start" fill="#2e2e2e" font-weight="normal" textLength="3.1" lengthAdjust="spacingAndGlyphs">3</text>
<text x="252.95" y="151.6" font-size="7.7" text-anchor="start" fill="#2e2e2e" font-weight="normal" textLength="6.7" lengthAdjust="spacingAndGlyphs">10</text>
<text x="260.35" y="148.9" font-size="6.2" text-anchor="start" fill="#2e2e2e" font-weight="normal" textLength="3.1" lengthAdjust="spacingAndGlyphs">4</text>
<text x="274.75" y="151.6" font-size="7.7" text-anchor="start" fill="#2e2e2e" font-weight="normal" textLength="6.7" lengthAdjust="spacingAndGlyphs">10</text>
<text x="282.15" y="148.9" font-size="6.2" text-anchor="start" fill="#2e2e2e" font-weight="normal" textLength="3.1" lengthAdjust="spacingAndGlyphs">5</text>
<rect x="296" y="45.5" width="99.4" height="92.7" fill="none" stroke="#111" stroke-width="1.3"/>
<line x1="295.5" y1="138.4" x2="396" y2="138.4" stroke="#111" stroke-width="1"/>
<line x1="292.7" y1="138.2" x2="296" y2="138.2" stroke="#111" stroke-width="1.1"/>
<line x1="294.2" y1="133.77" x2="296" y2="133.77" stroke="#111" stroke-width="0.9"/>
<line x1="294.2" y1="129.33" x2="296" y2="129.33" stroke="#111" stroke-width="0.9"/>
<line x1="294.2" y1="124.9" x2="296" y2="124.9" stroke="#111" stroke-width="0.9"/>
<line x1="292.7" y1="120.46" x2="296" y2="120.46" stroke="#111" stroke-width="1.1"/>
<line x1="294.2" y1="116.03" x2="296" y2="116.03" stroke="#111" stroke-width="0.9"/>
<line x1="294.2" y1="111.6" x2="296" y2="111.6" stroke="#111" stroke-width="0.9"/>
<line x1="294.2" y1="107.16" x2="296" y2="107.16" stroke="#111" stroke-width="0.9"/>
<line x1="292.7" y1="102.73" x2="296" y2="102.73" stroke="#111" stroke-width="1.1"/>
<line x1="294.2" y1="98.29" x2="296" y2="98.29" stroke="#111" stroke-width="0.9"/>
<line x1="294.2" y1="93.86" x2="296" y2="93.86" stroke="#111" stroke-width="0.9"/>
<line x1="294.2" y1="89.43" x2="296" y2="89.43" stroke="#111" stroke-width="0.9"/>
<line x1="292.7" y1="84.99" x2="296" y2="84.99" stroke="#111" stroke-width="1.1"/>
<line x1="294.2" y1="80.56" x2="296" y2="80.56" stroke="#111" stroke-width="0.9"/>
<line x1="294.2" y1="76.12" x2="296" y2="76.12" stroke="#111" stroke-width="0.9"/>
<line x1="294.2" y1="71.69" x2="296" y2="71.69" stroke="#111" stroke-width="0.9"/>
<line x1="292.7" y1="67.26" x2="296" y2="67.26" stroke="#111" stroke-width="1.1"/>
<line x1="294.2" y1="62.82" x2="296" y2="62.82" stroke="#111" stroke-width="0.9"/>
<line x1="294.2" y1="58.39" x2="296" y2="58.39" stroke="#111" stroke-width="0.9"/>
<line x1="294.2" y1="53.95" x2="296" y2="53.95" stroke="#111" stroke-width="0.9"/>
<line x1="292.7" y1="49.52" x2="296" y2="49.52" stroke="#111" stroke-width="1.1"/>
<line x1="308.1" y1="138.2" x2="308.1" y2="141" stroke="#111" stroke-width="1.1"/>
<line x1="340" y1="138.2" x2="340" y2="141" stroke="#111" stroke-width="1.1"/>
<line x1="364.2" y1="138.2" x2="364.2" y2="141" stroke="#111" stroke-width="1.1"/>
<line x1="386" y1="138.2" x2="386" y2="141" stroke="#111" stroke-width="1.1"/>
<line x1="347.28" y1="138.2" x2="347.28" y2="139.9" stroke="#111" stroke-width="0.8"/>
<line x1="351.55" y1="138.2" x2="351.55" y2="139.9" stroke="#111" stroke-width="0.8"/>
<line x1="354.57" y1="138.2" x2="354.57" y2="139.9" stroke="#111" stroke-width="0.8"/>
<line x1="356.92" y1="138.2" x2="356.92" y2="139.9" stroke="#111" stroke-width="0.8"/>
<line x1="358.83" y1="138.2" x2="358.83" y2="139.9" stroke="#111" stroke-width="0.8"/>
<line x1="360.45" y1="138.2" x2="360.45" y2="139.9" stroke="#111" stroke-width="0.8"/>
<line x1="361.85" y1="138.2" x2="361.85" y2="139.9" stroke="#111" stroke-width="0.8"/>
<line x1="363.09" y1="138.2" x2="363.09" y2="139.9" stroke="#111" stroke-width="0.8"/>
<line x1="370.76" y1="138.2" x2="370.76" y2="139.9" stroke="#111" stroke-width="0.8"/>
<line x1="374.6" y1="138.2" x2="374.6" y2="139.9" stroke="#111" stroke-width="0.8"/>
<line x1="377.32" y1="138.2" x2="377.32" y2="139.9" stroke="#111" stroke-width="0.8"/>
<line x1="379.44" y1="138.2" x2="379.44" y2="139.9" stroke="#111" stroke-width="0.8"/>
<line x1="381.16" y1="138.2" x2="381.16" y2="139.9" stroke="#111" stroke-width="0.8"/>
<line x1="382.62" y1="138.2" x2="382.62" y2="139.9" stroke="#111" stroke-width="0.8"/>
<line x1="383.89" y1="138.2" x2="383.89" y2="139.9" stroke="#111" stroke-width="0.8"/>
<line x1="385" y1="138.2" x2="385" y2="139.9" stroke="#111" stroke-width="0.8"/>
<line x1="299" y1="138.2" x2="299" y2="139.9" stroke="#111" stroke-width="0.8"/>
<line x1="303.5" y1="138.2" x2="303.5" y2="139.9" stroke="#111" stroke-width="0.8"/>
<line x1="312" y1="138.2" x2="312" y2="139.9" stroke="#111" stroke-width="0.8"/>
<line x1="316.5" y1="138.2" x2="316.5" y2="139.9" stroke="#111" stroke-width="0.8"/>
<line x1="321" y1="138.2" x2="321" y2="139.9" stroke="#111" stroke-width="0.8"/>
<line x1="325.5" y1="138.2" x2="325.5" y2="139.9" stroke="#111" stroke-width="0.8"/>
<line x1="329.5" y1="138.2" x2="329.5" y2="139.9" stroke="#111" stroke-width="0.8"/>
<line x1="333.5" y1="138.2" x2="333.5" y2="139.9" stroke="#111" stroke-width="0.8"/>
<line x1="336.5" y1="138.2" x2="336.5" y2="139.9" stroke="#111" stroke-width="0.8"/>
<line x1="388" y1="138.2" x2="388" y2="139.9" stroke="#111" stroke-width="0.8"/>
<line x1="390" y1="138.2" x2="390" y2="139.9" stroke="#111" stroke-width="0.8"/>
<line x1="392" y1="138.2" x2="392" y2="139.9" stroke="#111" stroke-width="0.8"/>
<text x="306.3" y="151.6" font-size="7.7" text-anchor="start" fill="#2e2e2e" font-weight="normal" textLength="3.6" lengthAdjust="spacingAndGlyphs">0</text>
<text x="334.75" y="151.6" font-size="7.7" text-anchor="start" fill="#2e2e2e" font-weight="normal" textLength="6.7" lengthAdjust="spacingAndGlyphs">10</text>
<text x="342.15" y="148.9" font-size="6.2" text-anchor="start" fill="#2e2e2e" font-weight="normal" textLength="3.1" lengthAdjust="spacingAndGlyphs">3</text>
<text x="358.95" y="151.6" font-size="7.7" text-anchor="start" fill="#2e2e2e" font-weight="normal" textLength="6.7" lengthAdjust="spacingAndGlyphs">10</text>
<text x="366.35" y="148.9" font-size="6.2" text-anchor="start" fill="#2e2e2e" font-weight="normal" textLength="3.1" lengthAdjust="spacingAndGlyphs">4</text>
<text x="380.75" y="151.6" font-size="7.7" text-anchor="start" fill="#2e2e2e" font-weight="normal" textLength="6.7" lengthAdjust="spacingAndGlyphs">10</text>
<text x="388.15" y="148.9" font-size="6.2" text-anchor="start" fill="#2e2e2e" font-weight="normal" textLength="3.1" lengthAdjust="spacingAndGlyphs">5</text>
<rect x="401.3" y="45.5" width="99.4" height="92.7" fill="none" stroke="#111" stroke-width="1.3"/>
<line x1="400.8" y1="138.4" x2="501.3" y2="138.4" stroke="#111" stroke-width="1"/>
<line x1="398" y1="138.2" x2="401.3" y2="138.2" stroke="#111" stroke-width="1.1"/>
<line x1="399.5" y1="133.77" x2="401.3" y2="133.77" stroke="#111" stroke-width="0.9"/>
<line x1="399.5" y1="129.33" x2="401.3" y2="129.33" stroke="#111" stroke-width="0.9"/>
<line x1="399.5" y1="124.9" x2="401.3" y2="124.9" stroke="#111" stroke-width="0.9"/>
<line x1="398" y1="120.46" x2="401.3" y2="120.46" stroke="#111" stroke-width="1.1"/>
<line x1="399.5" y1="116.03" x2="401.3" y2="116.03" stroke="#111" stroke-width="0.9"/>
<line x1="399.5" y1="111.6" x2="401.3" y2="111.6" stroke="#111" stroke-width="0.9"/>
<line x1="399.5" y1="107.16" x2="401.3" y2="107.16" stroke="#111" stroke-width="0.9"/>
<line x1="398" y1="102.73" x2="401.3" y2="102.73" stroke="#111" stroke-width="1.1"/>
<line x1="399.5" y1="98.29" x2="401.3" y2="98.29" stroke="#111" stroke-width="0.9"/>
<line x1="399.5" y1="93.86" x2="401.3" y2="93.86" stroke="#111" stroke-width="0.9"/>
<line x1="399.5" y1="89.43" x2="401.3" y2="89.43" stroke="#111" stroke-width="0.9"/>
<line x1="398" y1="84.99" x2="401.3" y2="84.99" stroke="#111" stroke-width="1.1"/>
<line x1="399.5" y1="80.56" x2="401.3" y2="80.56" stroke="#111" stroke-width="0.9"/>
<line x1="399.5" y1="76.12" x2="401.3" y2="76.12" stroke="#111" stroke-width="0.9"/>
<line x1="399.5" y1="71.69" x2="401.3" y2="71.69" stroke="#111" stroke-width="0.9"/>
<line x1="398" y1="67.26" x2="401.3" y2="67.26" stroke="#111" stroke-width="1.1"/>
<line x1="399.5" y1="62.82" x2="401.3" y2="62.82" stroke="#111" stroke-width="0.9"/>
<line x1="399.5" y1="58.39" x2="401.3" y2="58.39" stroke="#111" stroke-width="0.9"/>
<line x1="399.5" y1="53.95" x2="401.3" y2="53.95" stroke="#111" stroke-width="0.9"/>
<line x1="398" y1="49.52" x2="401.3" y2="49.52" stroke="#111" stroke-width="1.1"/>
<line x1="413.4" y1="138.2" x2="413.4" y2="141" stroke="#111" stroke-width="1.1"/>
<line x1="445.3" y1="138.2" x2="445.3" y2="141" stroke="#111" stroke-width="1.1"/>
<line x1="469.5" y1="138.2" x2="469.5" y2="141" stroke="#111" stroke-width="1.1"/>
<line x1="491.3" y1="138.2" x2="491.3" y2="141" stroke="#111" stroke-width="1.1"/>
<line x1="452.58" y1="138.2" x2="452.58" y2="139.9" stroke="#111" stroke-width="0.8"/>
<line x1="456.85" y1="138.2" x2="456.85" y2="139.9" stroke="#111" stroke-width="0.8"/>
<line x1="459.87" y1="138.2" x2="459.87" y2="139.9" stroke="#111" stroke-width="0.8"/>
<line x1="462.22" y1="138.2" x2="462.22" y2="139.9" stroke="#111" stroke-width="0.8"/>
<line x1="464.13" y1="138.2" x2="464.13" y2="139.9" stroke="#111" stroke-width="0.8"/>
<line x1="465.75" y1="138.2" x2="465.75" y2="139.9" stroke="#111" stroke-width="0.8"/>
<line x1="467.15" y1="138.2" x2="467.15" y2="139.9" stroke="#111" stroke-width="0.8"/>
<line x1="468.39" y1="138.2" x2="468.39" y2="139.9" stroke="#111" stroke-width="0.8"/>
<line x1="476.06" y1="138.2" x2="476.06" y2="139.9" stroke="#111" stroke-width="0.8"/>
<line x1="479.9" y1="138.2" x2="479.9" y2="139.9" stroke="#111" stroke-width="0.8"/>
<line x1="482.62" y1="138.2" x2="482.62" y2="139.9" stroke="#111" stroke-width="0.8"/>
<line x1="484.74" y1="138.2" x2="484.74" y2="139.9" stroke="#111" stroke-width="0.8"/>
<line x1="486.46" y1="138.2" x2="486.46" y2="139.9" stroke="#111" stroke-width="0.8"/>
<line x1="487.92" y1="138.2" x2="487.92" y2="139.9" stroke="#111" stroke-width="0.8"/>
<line x1="489.19" y1="138.2" x2="489.19" y2="139.9" stroke="#111" stroke-width="0.8"/>
<line x1="490.3" y1="138.2" x2="490.3" y2="139.9" stroke="#111" stroke-width="0.8"/>
<line x1="404.3" y1="138.2" x2="404.3" y2="139.9" stroke="#111" stroke-width="0.8"/>
<line x1="408.8" y1="138.2" x2="408.8" y2="139.9" stroke="#111" stroke-width="0.8"/>
<line x1="417.3" y1="138.2" x2="417.3" y2="139.9" stroke="#111" stroke-width="0.8"/>
<line x1="421.8" y1="138.2" x2="421.8" y2="139.9" stroke="#111" stroke-width="0.8"/>
<line x1="426.3" y1="138.2" x2="426.3" y2="139.9" stroke="#111" stroke-width="0.8"/>
<line x1="430.8" y1="138.2" x2="430.8" y2="139.9" stroke="#111" stroke-width="0.8"/>
<line x1="434.8" y1="138.2" x2="434.8" y2="139.9" stroke="#111" stroke-width="0.8"/>
<line x1="438.8" y1="138.2" x2="438.8" y2="139.9" stroke="#111" stroke-width="0.8"/>
<line x1="441.8" y1="138.2" x2="441.8" y2="139.9" stroke="#111" stroke-width="0.8"/>
<line x1="493.3" y1="138.2" x2="493.3" y2="139.9" stroke="#111" stroke-width="0.8"/>
<line x1="495.3" y1="138.2" x2="495.3" y2="139.9" stroke="#111" stroke-width="0.8"/>
<line x1="497.3" y1="138.2" x2="497.3" y2="139.9" stroke="#111" stroke-width="0.8"/>
<text x="411.6" y="151.6" font-size="7.7" text-anchor="start" fill="#2e2e2e" font-weight="normal" textLength="3.6" lengthAdjust="spacingAndGlyphs">0</text>
<text x="440.05" y="151.6" font-size="7.7" text-anchor="start" fill="#2e2e2e" font-weight="normal" textLength="6.7" lengthAdjust="spacingAndGlyphs">10</text>
<text x="447.45" y="148.9" font-size="6.2" text-anchor="start" fill="#2e2e2e" font-weight="normal" textLength="3.1" lengthAdjust="spacingAndGlyphs">3</text>
<text x="464.25" y="151.6" font-size="7.7" text-anchor="start" fill="#2e2e2e" font-weight="normal" textLength="6.7" lengthAdjust="spacingAndGlyphs">10</text>
<text x="471.65" y="148.9" font-size="6.2" text-anchor="start" fill="#2e2e2e" font-weight="normal" textLength="3.1" lengthAdjust="spacingAndGlyphs">4</text>
<text x="486.05" y="151.6" font-size="7.7" text-anchor="start" fill="#2e2e2e" font-weight="normal" textLength="6.7" lengthAdjust="spacingAndGlyphs">10</text>
<text x="493.45" y="148.9" font-size="6.2" text-anchor="start" fill="#2e2e2e" font-weight="normal" textLength="3.1" lengthAdjust="spacingAndGlyphs">5</text>
<text x="183.2" y="140.9" font-size="7.8" text-anchor="end" fill="#2e2e2e" font-weight="normal" textLength="4" lengthAdjust="spacingAndGlyphs">0</text>
<text x="183.2" y="123.16" font-size="7.8" text-anchor="end" fill="#2e2e2e" font-weight="normal" textLength="8" lengthAdjust="spacingAndGlyphs">20</text>
<text x="183.2" y="105.43" font-size="7.8" text-anchor="end" fill="#2e2e2e" font-weight="normal" textLength="8" lengthAdjust="spacingAndGlyphs">40</text>
<text x="183.2" y="87.69" font-size="7.8" text-anchor="end" fill="#2e2e2e" font-weight="normal" textLength="8" lengthAdjust="spacingAndGlyphs">60</text>
<text x="183.2" y="69.96" font-size="7.8" text-anchor="end" fill="#2e2e2e" font-weight="normal" textLength="8" lengthAdjust="spacingAndGlyphs">80</text>
<text x="183.2" y="52.22" font-size="7.8" text-anchor="end" fill="#2e2e2e" font-weight="normal" textLength="12" lengthAdjust="spacingAndGlyphs">100</text>
<text x="164.2" y="92" font-size="8.2" text-anchor="middle" fill="#2e2e2e" font-weight="normal" textLength="30.5" lengthAdjust="spacingAndGlyphs" transform="rotate(-90 164.2 92)">% of max</text>
<text x="239.8" y="29.5" font-size="9.0" text-anchor="middle" fill="#2e2e2e" textLength="46.7" lengthAdjust="spacingAndGlyphs">1: Classical</text>
<text x="239.6" y="40.7" font-size="9.0" text-anchor="middle" fill="#2e2e2e" textLength="57.3" lengthAdjust="spacingAndGlyphs">CD14<tspan font-size="6.6" dy="-3.6">hi</tspan><tspan dy="3.6">CD16</tspan><tspan font-size="6.6" dy="-3.6">-</tspan></text>
<text x="347.4" y="29.5" font-size="9.0" text-anchor="middle" fill="#2e2e2e" textLength="62.8" lengthAdjust="spacingAndGlyphs">2: Intermediate</text>
<text x="345.5" y="40.7" font-size="9.0" text-anchor="middle" fill="#2e2e2e" textLength="59" lengthAdjust="spacingAndGlyphs">CD14<tspan font-size="6.6" dy="-3.6">hi</tspan><tspan dy="3.6">CD16</tspan><tspan font-size="6.6" dy="-3.6">+</tspan></text>
<text x="451.9" y="29.5" font-size="9.0" text-anchor="middle" fill="#2e2e2e" textLength="53.8" lengthAdjust="spacingAndGlyphs">3: Patrolling</text>
<text x="451.4" y="40.7" font-size="9.0" text-anchor="middle" fill="#2e2e2e" textLength="64.8" lengthAdjust="spacingAndGlyphs">CD14<tspan font-size="6.6" dy="-3.6">low</tspan><tspan dy="3.6">CD16</tspan><tspan font-size="6.6" dy="-3.6">+</tspan></text>
<path d="M439.4,60.6 L439.4,56.8 L467.3,56.8 L467.3,60.6" stroke="#111" stroke-width="1.1" fill="none"/>
<path d="M467.5,93.2 L467.5,89 L495.6,89 L495.6,93.2" stroke="#111" stroke-width="1.1" fill="none"/>
<text x="453.3" y="54.0" font-size="7.6" text-anchor="middle" fill="#2e2e2e">HO-1<tspan font-size="5" dy="-2.6">low</tspan></text>
<text x="480.8" y="86.1" font-size="7.6" text-anchor="middle" fill="#2e2e2e">HO-1<tspan font-size="5" dy="-2.6">hi</tspan></text>
<line x1="192.5" y1="160.2" x2="432" y2="160.2" stroke="#000" stroke-width="1.7"/>
<path d="M430.8,156.4 L440,160.2 L430.8,164 Z" stroke="none" stroke-width="1" fill="#000"/>
<text x="443" y="163.3" font-size="8.6" text-anchor="start" fill="#2e2e2e" font-weight="normal" textLength="16.2" lengthAdjust="spacingAndGlyphs">HO-1</text>
<line x1="43" y1="198.8" x2="43" y2="280.8" stroke="#111" stroke-width="1.5"/>
<line x1="42.3" y1="280.2" x2="250.5" y2="280.2" stroke="#111" stroke-width="1.5"/>
<line x1="40" y1="280.2" x2="43" y2="280.2" stroke="#111" stroke-width="1.1"/>
<text x="37" y="282.95" font-size="7.7" text-anchor="end" fill="#2e2e2e" font-weight="normal" textLength="4.2" lengthAdjust="spacingAndGlyphs">0</text>
<line x1="40" y1="264.44" x2="43" y2="264.44" stroke="#111" stroke-width="1.1"/>
<text x="37" y="267.19" font-size="7.7" text-anchor="end" fill="#2e2e2e" font-weight="normal" textLength="8.4" lengthAdjust="spacingAndGlyphs">20</text>
<line x1="40" y1="248.68" x2="43" y2="248.68" stroke="#111" stroke-width="1.1"/>
<text x="37" y="251.43" font-size="7.7" text-anchor="end" fill="#2e2e2e" font-weight="normal" textLength="8.4" lengthAdjust="spacingAndGlyphs">40</text>
<line x1="40" y1="232.92" x2="43" y2="232.92" stroke="#111" stroke-width="1.1"/>
<text x="37" y="235.67" font-size="7.7" text-anchor="end" fill="#2e2e2e" font-weight="normal" textLength="8.4" lengthAdjust="spacingAndGlyphs">60</text>
<line x1="40" y1="217.16" x2="43" y2="217.16" stroke="#111" stroke-width="1.1"/>
<text x="37" y="219.91" font-size="7.7" text-anchor="end" fill="#2e2e2e" font-weight="normal" textLength="8.4" lengthAdjust="spacingAndGlyphs">80</text>
<line x1="40" y1="201.4" x2="43" y2="201.4" stroke="#111" stroke-width="1.1"/>
<text x="37" y="204.15" font-size="7.7" text-anchor="end" fill="#2e2e2e" font-weight="normal" textLength="12.6" lengthAdjust="spacingAndGlyphs">100</text>
<line x1="55.5" y1="280.2" x2="55.5" y2="283" stroke="#111" stroke-width="1.1"/>
<line x1="81.17" y1="280.2" x2="81.17" y2="283" stroke="#111" stroke-width="1.1"/>
<line x1="106.84" y1="280.2" x2="106.84" y2="283" stroke="#111" stroke-width="1.1"/>
<line x1="132.51" y1="280.2" x2="132.51" y2="283" stroke="#111" stroke-width="1.1"/>
<line x1="158.18" y1="280.2" x2="158.18" y2="283" stroke="#111" stroke-width="1.1"/>
<line x1="183.85" y1="280.2" x2="183.85" y2="283" stroke="#111" stroke-width="1.1"/>
<line x1="209.52" y1="280.2" x2="209.52" y2="283" stroke="#111" stroke-width="1.1"/>
<line x1="235.19" y1="280.2" x2="235.19" y2="283" stroke="#111" stroke-width="1.1"/>
<text x="18" y="239.3" font-size="8.4" text-anchor="middle" fill="#2e2e2e" font-weight="normal" textLength="64" lengthAdjust="spacingAndGlyphs" transform="rotate(-90 18 239.3)">%HO-1<tspan font-size="6.2" dy="-3.2">+</tspan><tspan dy="3.2"> monocyte</tspan></text>
<text x="55.5" y="293.3" font-size="8.4" text-anchor="middle" fill="#2e2e2e" font-weight="normal" textLength="10.8" lengthAdjust="spacingAndGlyphs">HD</text>
<text x="81.17" y="293.3" font-size="8.4" text-anchor="middle" fill="#2e2e2e" font-weight="normal" textLength="16" lengthAdjust="spacingAndGlyphs">SCD</text>
<text x="106.84" y="293.3" font-size="8.4" text-anchor="middle" fill="#2e2e2e" font-weight="normal" textLength="10.8" lengthAdjust="spacingAndGlyphs">HD</text>
<text x="132.51" y="293.3" font-size="8.4" text-anchor="middle" fill="#2e2e2e" font-weight="normal" textLength="16" lengthAdjust="spacingAndGlyphs">SCD</text>
<text x="158.18" y="293.3" font-size="8.4" text-anchor="middle" fill="#2e2e2e" font-weight="normal" textLength="10.8" lengthAdjust="spacingAndGlyphs">HD</text>
<text x="183.85" y="293.3" font-size="8.4" text-anchor="middle" fill="#2e2e2e" font-weight="normal" textLength="16" lengthAdjust="spacingAndGlyphs">SCD</text>
<text x="209.52" y="293.3" font-size="8.4" text-anchor="middle" fill="#2e2e2e" font-weight="normal" textLength="10.8" lengthAdjust="spacingAndGlyphs">HD</text>
<text x="235.19" y="293.3" font-size="8.4" text-anchor="middle" fill="#2e2e2e" font-weight="normal" textLength="16" lengthAdjust="spacingAndGlyphs">SCD</text>
<line x1="50.2" y1="297.9" x2="88.87" y2="297.9" stroke="#111" stroke-width="1.5"/>
<text x="69.53" y="308.2" font-size="8.5" text-anchor="middle" fill="#2e2e2e" font-weight="normal" textLength="17.3" lengthAdjust="spacingAndGlyphs">Total</text>
<line x1="101.54" y1="297.9" x2="140.21" y2="297.9" stroke="#111" stroke-width="1.5"/>
<text x="120.88" y="308.2" font-size="8.5" text-anchor="middle" fill="#2e2e2e" font-weight="normal" textLength="31" lengthAdjust="spacingAndGlyphs">Classical</text>
<line x1="152.88" y1="297.9" x2="191.55" y2="297.9" stroke="#111" stroke-width="1.5"/>
<text x="172.22" y="308.2" font-size="8.5" text-anchor="middle" fill="#2e2e2e" font-weight="normal" textLength="45.2" lengthAdjust="spacingAndGlyphs">Intermediate</text>
<line x1="204.22" y1="297.9" x2="242.89" y2="297.9" stroke="#111" stroke-width="1.5"/>
<text x="223.56" y="308.2" font-size="8.5" text-anchor="middle" fill="#2e2e2e" font-weight="normal" textLength="33.5" lengthAdjust="spacingAndGlyphs">Patrolling</text>
<path d="M55.5,273.31 l2.16,2.16 l-2.16,2.16 l-2.16,-2.16 z" fill="#a5123c"/><path d="M55.5,269.77 l2.16,2.16 l-2.16,2.16 l-2.16,-2.16 z" fill="#a5123c"/><path d="M58.5,269.37 l2.16,2.16 l-2.16,2.16 l-2.16,-2.16 z" fill="#a5123c"/><path d="M52.5,268.98 l2.16,2.16 l-2.16,2.16 l-2.16,-2.16 z" fill="#a5123c"/><path d="M61.5,268.58 l2.16,2.16 l-2.16,2.16 l-2.16,-2.16 z" fill="#a5123c"/><path d="M49.5,268.19 l2.16,2.16 l-2.16,2.16 l-2.16,-2.16 z" fill="#a5123c"/><path d="M49.5,267.8 l2.16,2.16 l-2.16,2.16 l-2.16,-2.16 z" fill="#a5123c"/><path d="M52.5,267.8 l2.16,2.16 l-2.16,2.16 l-2.16,-2.16 z" fill="#a5123c"/><path d="M55.5,267.01 l2.16,2.16 l-2.16,2.16 l-2.16,-2.16 z" fill="#a5123c"/><path d="M58.5,265.83 l2.16,2.16 l-2.16,2.16 l-2.16,-2.16 z" fill="#a5123c"/><path d="M61.5,265.43 l2.16,2.16 l-2.16,2.16 l-2.16,-2.16 z" fill="#a5123c"/><path d="M55.5,263.46 l2.16,2.16 l-2.16,2.16 l-2.16,-2.16 z" fill="#a5123c"/><path d="M52.5,263.07 l2.16,2.16 l-2.16,2.16 l-2.16,-2.16 z" fill="#a5123c"/>
<rect x="79.67" y="276.95" width="3" height="3" fill="#2b4a86"/><rect x="82.67" y="276.45" width="3" height="3" fill="#2b4a86"/><rect x="76.67" y="276.24" width="3" height="3" fill="#2b4a86"/><rect x="85.67" y="274.85" width="3" height="3" fill="#2b4a86"/><rect x="73.67" y="274.71" width="3" height="3" fill="#2b4a86"/><rect x="79.67" y="273.7" width="3" height="3" fill="#2b4a86"/><rect x="82.67" y="273.4" width="3" height="3" fill="#2b4a86"/><rect x="76.67" y="272.83" width="3" height="3" fill="#2b4a86"/><rect x="85.67" y="270.83" width="3" height="3" fill="#2b4a86"/><rect x="81.17" y="270.79" width="3" height="3" fill="#2b4a86"/><rect x="73.67" y="270.59" width="3" height="3" fill="#2b4a86"/><rect x="73.67" y="270.44" width="3" height="3" fill="#2b4a86"/><rect x="76.67" y="270.43" width="3" height="3" fill="#2b4a86"/><rect x="78.17" y="269.99" width="3" height="3" fill="#2b4a86"/><rect x="81.17" y="269.96" width="3" height="3" fill="#2b4a86"/><rect x="84.17" y="269.53" width="3" height="3" fill="#2b4a86"/><rect x="73.67" y="269.47" width="3" height="3" fill="#2b4a86"/><rect x="76.67" y="268.63" width="3" height="3" fill="#2b4a86"/><rect x="81.17" y="268.52" width="3" height="3" fill="#2b4a86"/><rect x="84.17" y="268.25" width="3" height="3" fill="#2b4a86"/><rect x="84.17" y="268.07" width="3" height="3" fill="#2b4a86"/><rect x="75.17" y="267.69" width="3" height="3" fill="#2b4a86"/><rect x="79.67" y="267.2" width="3" height="3" fill="#2b4a86"/><rect x="73.67" y="267.18" width="3" height="3" fill="#2b4a86"/><rect x="76.67" y="266.88" width="3" height="3" fill="#2b4a86"/><rect x="79.67" y="266.77" width="3" height="3" fill="#2b4a86"/><rect x="85.67" y="266.61" width="3" height="3" fill="#2b4a86"/><rect x="73.67" y="266.58" width="3" height="3" fill="#2b4a86"/><rect x="73.67" y="266.27" width="3" height="3" fill="#2b4a86"/><rect x="76.67" y="266.16" width="3" height="3" fill="#2b4a86"/><rect x="79.67" y="265.91" width="3" height="3" fill="#2b4a86"/><rect x="82.67" y="265.66" width="3" height="3" fill="#2b4a86"/><rect x="82.67" y="265.42" width="3" height="3" fill="#2b4a86"/><rect x="85.67" y="265.09" width="3" height="3" fill="#2b4a86"/><rect x="76.67" y="265.07" width="3" height="3" fill="#2b4a86"/><rect x="82.67" y="264.51" width="3" height="3" fill="#2b4a86"/><rect x="79.67" y="263.74" width="3" height="3" fill="#2b4a86"/><rect x="73.67" y="263.14" width="3" height="3" fill="#2b4a86"/><rect x="73.67" y="263.12" width="3" height="3" fill="#2b4a86"/><rect x="76.67" y="263.11" width="3" height="3" fill="#2b4a86"/><rect x="79.67" y="262.88" width="3" height="3" fill="#2b4a86"/><rect x="85.67" y="262.81" width="3" height="3" fill="#2b4a86"/><rect x="73.67" y="262.77" width="3" height="3" fill="#2b4a86"/><rect x="82.67" y="262.38" width="3" height="3" fill="#2b4a86"/><rect x="76.67" y="261.98" width="3" height="3" fill="#2b4a86"/><rect x="85.67" y="261.87" width="3" height="3" fill="#2b4a86"/><rect x="76.67" y="261.71" width="3" height="3" fill="#2b4a86"/><rect x="79.67" y="261.53" width="3" height="3" fill="#2b4a86"/><rect x="82.67" y="261.5" width="3" height="3" fill="#2b4a86"/><rect x="82.67" y="261.43" width="3" height="3" fill="#2b4a86"/><rect x="85.67" y="261.35" width="3" height="3" fill="#2b4a86"/><rect x="73.67" y="261.01" width="3" height="3" fill="#2b4a86"/><rect x="76.67" y="260.98" width="3" height="3" fill="#2b4a86"/><rect x="79.67" y="260.78" width="3" height="3" fill="#2b4a86"/><rect x="79.67" y="260.6" width="3" height="3" fill="#2b4a86"/><rect x="82.67" y="260.38" width="3" height="3" fill="#2b4a86"/><rect x="73.67" y="260.12" width="3" height="3" fill="#2b4a86"/><rect x="73.67" y="260.11" width="3" height="3" fill="#2b4a86"/><rect x="85.67" y="259.65" width="3" height="3" fill="#2b4a86"/><rect x="73.67" y="259.28" width="3" height="3" fill="#2b4a86"/><rect x="76.67" y="258.73" width="3" height="3" fill="#2b4a86"/><rect x="82.67" y="258.38" width="3" height="3" fill="#2b4a86"/><rect x="79.67" y="257.58" width="3" height="3" fill="#2b4a86"/><rect x="73.67" y="256.73" width="3" height="3" fill="#2b4a86"/><rect x="85.67" y="256.57" width="3" height="3" fill="#2b4a86"/><rect x="76.67" y="255.43" width="3" height="3" fill="#2b4a86"/><rect x="79.87" y="227.87" width="3" height="3" fill="#2b4a86"/><rect x="74.97" y="240.8" width="3" height="3" fill="#2b4a86"/><rect x="84.87" y="239.54" width="3" height="3" fill="#2b4a86"/><rect x="79.87" y="243" width="3" height="3" fill="#2b4a86"/><rect x="74.97" y="247.02" width="3" height="3" fill="#2b4a86"/><rect x="84.87" y="250.02" width="3" height="3" fill="#2b4a86"/><rect x="79.87" y="252.14" width="3" height="3" fill="#2b4a86"/>
<circle cx="77.82" cy="219.5" r="0.95" fill="#1e1e1e"/><circle cx="81.17" cy="219.5" r="0.95" fill="#1e1e1e"/><circle cx="84.52" cy="219.5" r="0.95" fill="#1e1e1e"/>
<path d="M106.84,277.65 l2.16,2.16 l-2.16,2.16 l-2.16,-2.16 z" fill="#a5123c"/><path d="M109.84,277.25 l2.16,2.16 l-2.16,2.16 l-2.16,-2.16 z" fill="#a5123c"/><path d="M103.84,276.86 l2.16,2.16 l-2.16,2.16 l-2.16,-2.16 z" fill="#a5123c"/><path d="M112.84,276.46 l2.16,2.16 l-2.16,2.16 l-2.16,-2.16 z" fill="#a5123c"/><path d="M100.84,276.31 l2.16,2.16 l-2.16,2.16 l-2.16,-2.16 z" fill="#a5123c"/><path d="M100.84,275.83 l2.16,2.16 l-2.16,2.16 l-2.16,-2.16 z" fill="#a5123c"/><path d="M103.84,275.68 l2.16,2.16 l-2.16,2.16 l-2.16,-2.16 z" fill="#a5123c"/><path d="M106.84,275.28 l2.16,2.16 l-2.16,2.16 l-2.16,-2.16 z" fill="#a5123c"/><path d="M109.84,274.89 l2.16,2.16 l-2.16,2.16 l-2.16,-2.16 z" fill="#a5123c"/><path d="M106.84,274.49 l2.16,2.16 l-2.16,2.16 l-2.16,-2.16 z" fill="#a5123c"/><path d="M109.84,274.1 l2.16,2.16 l-2.16,2.16 l-2.16,-2.16 z" fill="#a5123c"/><path d="M112.84,273.31 l2.16,2.16 l-2.16,2.16 l-2.16,-2.16 z" fill="#a5123c"/>
<rect x="131.01" y="277.71" width="3" height="3" fill="#2b4a86"/><rect x="134.01" y="277.4" width="3" height="3" fill="#2b4a86"/><rect x="128.01" y="277.26" width="3" height="3" fill="#2b4a86"/><rect x="137.01" y="276.84" width="3" height="3" fill="#2b4a86"/><rect x="125.01" y="276.5" width="3" height="3" fill="#2b4a86"/><rect x="125.01" y="276.02" width="3" height="3" fill="#2b4a86"/><rect x="128.01" y="276.01" width="3" height="3" fill="#2b4a86"/><rect x="131.01" y="275.58" width="3" height="3" fill="#2b4a86"/><rect x="131.01" y="274.67" width="3" height="3" fill="#2b4a86"/><rect x="134.01" y="274.24" width="3" height="3" fill="#2b4a86"/><rect x="128.01" y="273.93" width="3" height="3" fill="#2b4a86"/><rect x="137.01" y="273.66" width="3" height="3" fill="#2b4a86"/><rect x="134.01" y="273.61" width="3" height="3" fill="#2b4a86"/><rect x="125.01" y="273.33" width="3" height="3" fill="#2b4a86"/><rect x="137.01" y="273.2" width="3" height="3" fill="#2b4a86"/><rect x="125.01" y="273.18" width="3" height="3" fill="#2b4a86"/><rect x="128.01" y="273.12" width="3" height="3" fill="#2b4a86"/><rect x="125.01" y="272.97" width="3" height="3" fill="#2b4a86"/><rect x="128.01" y="272.77" width="3" height="3" fill="#2b4a86"/><rect x="131.01" y="272.28" width="3" height="3" fill="#2b4a86"/><rect x="131.01" y="272.04" width="3" height="3" fill="#2b4a86"/><rect x="134.01" y="271.98" width="3" height="3" fill="#2b4a86"/><rect x="131.01" y="271.52" width="3" height="3" fill="#2b4a86"/><rect x="137.01" y="271.5" width="3" height="3" fill="#2b4a86"/><rect x="134.01" y="270.96" width="3" height="3" fill="#2b4a86"/><rect x="128.01" y="270.91" width="3" height="3" fill="#2b4a86"/><rect x="126.51" y="270.33" width="3" height="3" fill="#2b4a86"/><rect x="137.01" y="269.99" width="3" height="3" fill="#2b4a86"/><rect x="125.01" y="269.93" width="3" height="3" fill="#2b4a86"/><rect x="125.01" y="269.76" width="3" height="3" fill="#2b4a86"/><rect x="128.01" y="269.38" width="3" height="3" fill="#2b4a86"/><rect x="131.01" y="269.16" width="3" height="3" fill="#2b4a86"/><rect x="134.01" y="269.15" width="3" height="3" fill="#2b4a86"/><rect x="131.01" y="268.96" width="3" height="3" fill="#2b4a86"/><rect x="134.01" y="268.9" width="3" height="3" fill="#2b4a86"/><rect x="137.01" y="268.81" width="3" height="3" fill="#2b4a86"/><rect x="125.01" y="268.78" width="3" height="3" fill="#2b4a86"/><rect x="131.01" y="268.36" width="3" height="3" fill="#2b4a86"/><rect x="137.01" y="268.24" width="3" height="3" fill="#2b4a86"/><rect x="128.01" y="268.18" width="3" height="3" fill="#2b4a86"/><rect x="131.01" y="268.04" width="3" height="3" fill="#2b4a86"/><rect x="134.01" y="267.82" width="3" height="3" fill="#2b4a86"/><rect x="128.01" y="267.66" width="3" height="3" fill="#2b4a86"/><rect x="125.01" y="267.5" width="3" height="3" fill="#2b4a86"/><rect x="128.01" y="267.47" width="3" height="3" fill="#2b4a86"/><rect x="134.01" y="267.33" width="3" height="3" fill="#2b4a86"/><rect x="137.01" y="266.97" width="3" height="3" fill="#2b4a86"/><rect x="137.01" y="266.96" width="3" height="3" fill="#2b4a86"/><rect x="125.01" y="266.89" width="3" height="3" fill="#2b4a86"/><rect x="125.01" y="266.74" width="3" height="3" fill="#2b4a86"/><rect x="125.01" y="266.45" width="3" height="3" fill="#2b4a86"/><rect x="128.01" y="266.39" width="3" height="3" fill="#2b4a86"/><rect x="128.01" y="266.27" width="3" height="3" fill="#2b4a86"/><rect x="131.01" y="265.63" width="3" height="3" fill="#2b4a86"/><rect x="134.01" y="265.58" width="3" height="3" fill="#2b4a86"/><rect x="131.01" y="265.52" width="3" height="3" fill="#2b4a86"/><rect x="134.01" y="265.37" width="3" height="3" fill="#2b4a86"/><rect x="131.01" y="265.32" width="3" height="3" fill="#2b4a86"/><rect x="137.01" y="265.04" width="3" height="3" fill="#2b4a86"/><rect x="131.01" y="264.8" width="3" height="3" fill="#2b4a86"/><rect x="128.01" y="264.09" width="3" height="3" fill="#2b4a86"/><rect x="137.01" y="263.86" width="3" height="3" fill="#2b4a86"/><rect x="134.01" y="262.31" width="3" height="3" fill="#2b4a86"/><rect x="131.01" y="261.63" width="3" height="3" fill="#2b4a86"/><rect x="126.51" y="261.48" width="3" height="3" fill="#2b4a86"/><rect x="125.01" y="261.3" width="3" height="3" fill="#2b4a86"/><rect x="131.41" y="233" width="3" height="3" fill="#2b4a86"/><rect x="130.91" y="245.92" width="3" height="3" fill="#2b4a86"/><rect x="133.91" y="248.76" width="3" height="3" fill="#2b4a86"/><rect x="128.61" y="251.51" width="3" height="3" fill="#2b4a86"/><rect x="124.61" y="255.53" width="3" height="3" fill="#2b4a86"/><rect x="137.61" y="256.56" width="3" height="3" fill="#2b4a86"/><rect x="129.11" y="259.79" width="3" height="3" fill="#2b4a86"/><rect x="132.91" y="259.79" width="3" height="3" fill="#2b4a86"/>
<circle cx="129.16" cy="225.8" r="0.95" fill="#1e1e1e"/><circle cx="132.51" cy="225.8" r="0.95" fill="#1e1e1e"/><circle cx="135.86" cy="225.8" r="0.95" fill="#1e1e1e"/>
<circle cx="158.58" cy="206.68" r="1.65" fill="#a5123c"/><circle cx="160.98" cy="212.43" r="1.65" fill="#a5123c"/><circle cx="153.48" cy="214.8" r="1.65" fill="#a5123c"/><circle cx="155.38" cy="217.32" r="1.65" fill="#a5123c"/><circle cx="160.98" cy="221.81" r="1.65" fill="#a5123c"/><circle cx="158.58" cy="233.71" r="1.65" fill="#a5123c"/><circle cx="158.18" cy="238.44" r="1.65" fill="#a5123c"/><circle cx="157.78" cy="244.42" r="1.65" fill="#a5123c"/><circle cx="155.88" cy="247.5" r="1.65" fill="#a5123c"/><circle cx="160.98" cy="249.7" r="1.65" fill="#a5123c"/><circle cx="158.18" cy="255.77" r="1.65" fill="#a5123c"/>
<line x1="149.68" y1="230.95" x2="166.68" y2="230.95" stroke="#a5123c" stroke-width="1.3"/>
<line x1="158.18" y1="225.45" x2="158.18" y2="236.25" stroke="#a5123c" stroke-width="1.1"/>
<line x1="154.88" y1="225.45" x2="161.48" y2="225.45" stroke="#a5123c" stroke-width="1.1"/>
<line x1="154.88" y1="236.25" x2="161.48" y2="236.25" stroke="#a5123c" stroke-width="1.1"/>
<rect x="182.35" y="246.75" width="3" height="3" fill="#2b4a86"/><rect x="185.35" y="245.6" width="3" height="3" fill="#2b4a86"/><rect x="179.35" y="244.66" width="3" height="3" fill="#2b4a86"/><rect x="188.35" y="244.28" width="3" height="3" fill="#2b4a86"/><rect x="176.35" y="244.03" width="3" height="3" fill="#2b4a86"/><rect x="182.35" y="243.52" width="3" height="3" fill="#2b4a86"/><rect x="176.35" y="242.81" width="3" height="3" fill="#2b4a86"/><rect x="185.35" y="242.54" width="3" height="3" fill="#2b4a86"/><rect x="179.35" y="242.45" width="3" height="3" fill="#2b4a86"/><rect x="188.35" y="240.88" width="3" height="3" fill="#2b4a86"/><rect x="182.35" y="240.23" width="3" height="3" fill="#2b4a86"/><rect x="176.35" y="240.07" width="3" height="3" fill="#2b4a86"/><rect x="176.35" y="239.73" width="3" height="3" fill="#2b4a86"/><rect x="185.35" y="239.3" width="3" height="3" fill="#2b4a86"/><rect x="179.35" y="237.77" width="3" height="3" fill="#2b4a86"/><rect x="182.35" y="236.94" width="3" height="3" fill="#2b4a86"/><rect x="185.35" y="234.73" width="3" height="3" fill="#2b4a86"/><rect x="179.35" y="234.62" width="3" height="3" fill="#2b4a86"/><rect x="188.35" y="234.15" width="3" height="3" fill="#2b4a86"/><rect x="182.35" y="230.75" width="3" height="3" fill="#2b4a86"/><rect x="185.35" y="230.25" width="3" height="3" fill="#2b4a86"/><rect x="179.35" y="228.87" width="3" height="3" fill="#2b4a86"/><rect x="188.35" y="228.6" width="3" height="3" fill="#2b4a86"/><rect x="176.35" y="228.4" width="3" height="3" fill="#2b4a86"/><rect x="182.35" y="227.71" width="3" height="3" fill="#2b4a86"/><rect x="185.35" y="226.5" width="3" height="3" fill="#2b4a86"/><rect x="180.85" y="224.77" width="3" height="3" fill="#2b4a86"/><rect x="177.85" y="224" width="3" height="3" fill="#2b4a86"/><rect x="188.35" y="223.93" width="3" height="3" fill="#2b4a86"/><rect x="183.85" y="222.59" width="3" height="3" fill="#2b4a86"/><rect x="176.35" y="222.01" width="3" height="3" fill="#2b4a86"/><rect x="180.85" y="220.23" width="3" height="3" fill="#2b4a86"/><rect x="185.35" y="219.67" width="3" height="3" fill="#2b4a86"/><rect x="177.85" y="219.26" width="3" height="3" fill="#2b4a86"/><rect x="182.35" y="216.57" width="3" height="3" fill="#2b4a86"/><rect x="185.35" y="216.57" width="3" height="3" fill="#2b4a86"/><rect x="179.35" y="215.75" width="3" height="3" fill="#2b4a86"/><rect x="182.35" y="213.21" width="3" height="3" fill="#2b4a86"/><rect x="185.35" y="212.67" width="3" height="3" fill="#2b4a86"/><rect x="182.35" y="210.17" width="3" height="3" fill="#2b4a86"/><rect x="179.35" y="209.95" width="3" height="3" fill="#2b4a86"/><rect x="185.35" y="208.89" width="3" height="3" fill="#2b4a86"/><rect x="188.35" y="208.26" width="3" height="3" fill="#2b4a86"/><rect x="176.35" y="207.91" width="3" height="3" fill="#2b4a86"/><rect x="176.35" y="207.78" width="3" height="3" fill="#2b4a86"/><rect x="179.35" y="207.47" width="3" height="3" fill="#2b4a86"/><rect x="182.35" y="206.99" width="3" height="3" fill="#2b4a86"/><rect x="179.35" y="206.2" width="3" height="3" fill="#2b4a86"/><rect x="185.35" y="205.42" width="3" height="3" fill="#2b4a86"/><rect x="188.35" y="204.63" width="3" height="3" fill="#2b4a86"/><rect x="182.35" y="203.94" width="3" height="3" fill="#2b4a86"/><rect x="176.35" y="203.84" width="3" height="3" fill="#2b4a86"/><rect x="176.35" y="203.62" width="3" height="3" fill="#2b4a86"/><rect x="179.35" y="203.52" width="3" height="3" fill="#2b4a86"/><rect x="179.35" y="203.05" width="3" height="3" fill="#2b4a86"/><rect x="182.35" y="202.74" width="3" height="3" fill="#2b4a86"/><rect x="185.35" y="202.33" width="3" height="3" fill="#2b4a86"/><rect x="185.35" y="202.26" width="3" height="3" fill="#2b4a86"/><rect x="188.35" y="201.48" width="3" height="3" fill="#2b4a86"/><rect x="188.35" y="201.08" width="3" height="3" fill="#2b4a86"/><rect x="176.35" y="200.69" width="3" height="3" fill="#2b4a86"/><rect x="176.35" y="200.31" width="3" height="3" fill="#2b4a86"/><rect x="180.85" y="199.9" width="3" height="3" fill="#2b4a86"/><rect x="180.05" y="250.73" width="3" height="3" fill="#2b4a86"/><rect x="187.85" y="257.82" width="3" height="3" fill="#2b4a86"/><rect x="178.45" y="260.58" width="3" height="3" fill="#2b4a86"/><rect x="183.15" y="260.58" width="3" height="3" fill="#2b4a86"/><rect x="185.05" y="268.06" width="3" height="3" fill="#2b4a86"/><rect x="180.35" y="271.84" width="3" height="3" fill="#2b4a86"/>
<line x1="175.35" y1="228.98" x2="192.35" y2="228.98" stroke="#2b4a86" stroke-width="1" opacity="0.6"/>
<path d="M209.52,202.79 l2.16,2.16 l-2.16,2.16 l-2.16,-2.16 z" fill="#a5123c"/><path d="M212.52,202.39 l2.16,2.16 l-2.16,2.16 l-2.16,-2.16 z" fill="#a5123c"/><path d="M206.52,202 l2.16,2.16 l-2.16,2.16 l-2.16,-2.16 z" fill="#a5123c"/><path d="M215.52,201.6 l2.16,2.16 l-2.16,2.16 l-2.16,-2.16 z" fill="#a5123c"/><path d="M203.52,201.6 l2.16,2.16 l-2.16,2.16 l-2.16,-2.16 z" fill="#a5123c"/><path d="M203.52,201.21 l2.16,2.16 l-2.16,2.16 l-2.16,-2.16 z" fill="#a5123c"/><path d="M206.52,200.82 l2.16,2.16 l-2.16,2.16 l-2.16,-2.16 z" fill="#a5123c"/><path d="M209.52,200.66 l2.16,2.16 l-2.16,2.16 l-2.16,-2.16 z" fill="#a5123c"/><path d="M212.52,200.42 l2.16,2.16 l-2.16,2.16 l-2.16,-2.16 z" fill="#a5123c"/><path d="M215.52,200.03 l2.16,2.16 l-2.16,2.16 l-2.16,-2.16 z" fill="#a5123c"/><path d="M209.52,199.63 l2.16,2.16 l-2.16,2.16 l-2.16,-2.16 z" fill="#a5123c"/><path d="M203.52,199.4 l2.16,2.16 l-2.16,2.16 l-2.16,-2.16 z" fill="#a5123c"/>
<rect x="233.69" y="209.05" width="3" height="3" fill="#2b4a86"/><rect x="236.69" y="208.57" width="3" height="3" fill="#2b4a86"/><rect x="230.69" y="208.11" width="3" height="3" fill="#2b4a86"/><rect x="239.69" y="208.09" width="3" height="3" fill="#2b4a86"/><rect x="227.69" y="207.27" width="3" height="3" fill="#2b4a86"/><rect x="227.69" y="206.77" width="3" height="3" fill="#2b4a86"/><rect x="230.69" y="206.52" width="3" height="3" fill="#2b4a86"/><rect x="233.69" y="205.88" width="3" height="3" fill="#2b4a86"/><rect x="233.69" y="205.85" width="3" height="3" fill="#2b4a86"/><rect x="236.69" y="205.1" width="3" height="3" fill="#2b4a86"/><rect x="239.69" y="205.04" width="3" height="3" fill="#2b4a86"/><rect x="230.69" y="204.99" width="3" height="3" fill="#2b4a86"/><rect x="236.69" y="204.84" width="3" height="3" fill="#2b4a86"/><rect x="239.69" y="204.7" width="3" height="3" fill="#2b4a86"/><rect x="227.69" y="204.38" width="3" height="3" fill="#2b4a86"/><rect x="230.69" y="204.37" width="3" height="3" fill="#2b4a86"/><rect x="227.69" y="204.13" width="3" height="3" fill="#2b4a86"/><rect x="233.69" y="204.01" width="3" height="3" fill="#2b4a86"/><rect x="236.69" y="203.89" width="3" height="3" fill="#2b4a86"/><rect x="227.69" y="203.58" width="3" height="3" fill="#2b4a86"/><rect x="230.69" y="203.45" width="3" height="3" fill="#2b4a86"/><rect x="239.69" y="203.44" width="3" height="3" fill="#2b4a86"/><rect x="227.69" y="203.21" width="3" height="3" fill="#2b4a86"/><rect x="230.69" y="203.11" width="3" height="3" fill="#2b4a86"/><rect x="233.69" y="202.96" width="3" height="3" fill="#2b4a86"/><rect x="233.69" y="202.6" width="3" height="3" fill="#2b4a86"/><rect x="233.69" y="202.26" width="3" height="3" fill="#2b4a86"/><rect x="236.69" y="201.96" width="3" height="3" fill="#2b4a86"/><rect x="239.69" y="201.87" width="3" height="3" fill="#2b4a86"/><rect x="230.69" y="201.85" width="3" height="3" fill="#2b4a86"/><rect x="236.69" y="201.85" width="3" height="3" fill="#2b4a86"/><rect x="239.69" y="201.67" width="3" height="3" fill="#2b4a86"/><rect x="227.69" y="201.26" width="3" height="3" fill="#2b4a86"/><rect x="230.69" y="201.26" width="3" height="3" fill="#2b4a86"/><rect x="227.69" y="201.1" width="3" height="3" fill="#2b4a86"/><rect x="233.69" y="200.95" width="3" height="3" fill="#2b4a86"/><rect x="236.69" y="200.93" width="3" height="3" fill="#2b4a86"/><rect x="236.69" y="200.86" width="3" height="3" fill="#2b4a86"/><rect x="227.69" y="200.12" width="3" height="3" fill="#2b4a86"/><rect x="230.69" y="200.1" width="3" height="3" fill="#2b4a86"/>
<line x1="301.2" y1="198.8" x2="301.2" y2="280.3" stroke="#111" stroke-width="1.5"/>
<line x1="300.5" y1="279.7" x2="508.5" y2="279.7" stroke="#111" stroke-width="1.5"/>
<line x1="298.2" y1="279.7" x2="301.2" y2="279.7" stroke="#111" stroke-width="1.1"/>
<text x="294.9" y="282.45" font-size="7.7" text-anchor="end" fill="#2e2e2e" font-weight="normal" textLength="4.2" lengthAdjust="spacingAndGlyphs">0</text>
<line x1="298.2" y1="259.98" x2="301.2" y2="259.98" stroke="#111" stroke-width="1.1"/>
<text x="294.9" y="262.73" font-size="7.7" text-anchor="end" fill="#2e2e2e" font-weight="normal" textLength="8.4" lengthAdjust="spacingAndGlyphs">20</text>
<line x1="298.2" y1="240.26" x2="301.2" y2="240.26" stroke="#111" stroke-width="1.1"/>
<text x="294.9" y="243.01" font-size="7.7" text-anchor="end" fill="#2e2e2e" font-weight="normal" textLength="8.4" lengthAdjust="spacingAndGlyphs">40</text>
<line x1="298.2" y1="220.54" x2="301.2" y2="220.54" stroke="#111" stroke-width="1.1"/>
<text x="294.9" y="223.29" font-size="7.7" text-anchor="end" fill="#2e2e2e" font-weight="normal" textLength="8.4" lengthAdjust="spacingAndGlyphs">60</text>
<line x1="298.2" y1="200.82" x2="301.2" y2="200.82" stroke="#111" stroke-width="1.1"/>
<text x="294.9" y="203.57" font-size="7.7" text-anchor="end" fill="#2e2e2e" font-weight="normal" textLength="8.4" lengthAdjust="spacingAndGlyphs">80</text>
<line x1="315" y1="279.7" x2="315" y2="282.5" stroke="#111" stroke-width="1.1"/>
<line x1="340.5" y1="279.7" x2="340.5" y2="282.5" stroke="#111" stroke-width="1.1"/>
<line x1="366" y1="279.7" x2="366" y2="282.5" stroke="#111" stroke-width="1.1"/>
<line x1="391.5" y1="279.7" x2="391.5" y2="282.5" stroke="#111" stroke-width="1.1"/>
<line x1="417" y1="279.7" x2="417" y2="282.5" stroke="#111" stroke-width="1.1"/>
<line x1="442.5" y1="279.7" x2="442.5" y2="282.5" stroke="#111" stroke-width="1.1"/>
<line x1="468" y1="279.7" x2="468" y2="282.5" stroke="#111" stroke-width="1.1"/>
<line x1="493.5" y1="279.7" x2="493.5" y2="282.5" stroke="#111" stroke-width="1.1"/>
<text x="276.6" y="238.1" font-size="8.4" text-anchor="middle" fill="#2e2e2e" textLength="63" lengthAdjust="spacingAndGlyphs" transform="rotate(-90 276.6 238.1)">%HO-1<tspan font-size="6.2" dy="-3.2">hi</tspan><tspan dy="3.2"> monocyte</tspan></text>
<text x="315" y="293.3" font-size="8.4" text-anchor="middle" fill="#2e2e2e" font-weight="normal" textLength="10.8" lengthAdjust="spacingAndGlyphs">HD</text>
<text x="340.5" y="293.3" font-size="8.4" text-anchor="middle" fill="#2e2e2e" font-weight="normal" textLength="16" lengthAdjust="spacingAndGlyphs">SCD</text>
<text x="366" y="293.3" font-size="8.4" text-anchor="middle" fill="#2e2e2e" font-weight="normal" textLength="10.8" lengthAdjust="spacingAndGlyphs">HD</text>
<text x="391.5" y="293.3" font-size="8.4" text-anchor="middle" fill="#2e2e2e" font-weight="normal" textLength="16" lengthAdjust="spacingAndGlyphs">SCD</text>
<text x="417" y="293.3" font-size="8.4" text-anchor="middle" fill="#2e2e2e" font-weight="normal" textLength="10.8" lengthAdjust="spacingAndGlyphs">HD</text>
<text x="442.5" y="293.3" font-size="8.4" text-anchor="middle" fill="#2e2e2e" font-weight="normal" textLength="16" lengthAdjust="spacingAndGlyphs">SCD</text>
<text x="468" y="293.3" font-size="8.4" text-anchor="middle" fill="#2e2e2e" font-weight="normal" textLength="10.8" lengthAdjust="spacingAndGlyphs">HD</text>
<text x="493.5" y="293.3" font-size="8.4" text-anchor="middle" fill="#2e2e2e" font-weight="normal" textLength="16" lengthAdjust="spacingAndGlyphs">SCD</text>
<line x1="309.7" y1="297.6" x2="348.2" y2="297.6" stroke="#111" stroke-width="1.5"/>
<text x="328.95" y="307.6" font-size="8.5" text-anchor="middle" fill="#2e2e2e" font-weight="normal" textLength="17.3" lengthAdjust="spacingAndGlyphs">Total</text>
<line x1="360.7" y1="297.6" x2="399.2" y2="297.6" stroke="#111" stroke-width="1.5"/>
<text x="379.95" y="307.6" font-size="8.5" text-anchor="middle" fill="#2e2e2e" font-weight="normal" textLength="31" lengthAdjust="spacingAndGlyphs">Classical</text>
<line x1="411.7" y1="297.6" x2="450.2" y2="297.6" stroke="#111" stroke-width="1.5"/>
<text x="430.95" y="307.6" font-size="8.5" text-anchor="middle" fill="#2e2e2e" font-weight="normal" textLength="45.2" lengthAdjust="spacingAndGlyphs">Intermediate</text>
<line x1="462.7" y1="297.6" x2="501.2" y2="297.6" stroke="#111" stroke-width="1.5"/>
<text x="481.95" y="307.6" font-size="8.5" text-anchor="middle" fill="#2e2e2e" font-weight="normal" textLength="33.5" lengthAdjust="spacingAndGlyphs">Patrolling</text>
<path d="M315,277.32 l2.16,2.16 l-2.16,2.16 l-2.16,-2.16 z" fill="#a5123c"/><path d="M318,277.18 l2.16,2.16 l-2.16,2.16 l-2.16,-2.16 z" fill="#a5123c"/><path d="M312,277.15 l2.16,2.16 l-2.16,2.16 l-2.16,-2.16 z" fill="#a5123c"/><path d="M321,277.13 l2.16,2.16 l-2.16,2.16 l-2.16,-2.16 z" fill="#a5123c"/><path d="M309,276.82 l2.16,2.16 l-2.16,2.16 l-2.16,-2.16 z" fill="#a5123c"/><path d="M309,276.21 l2.16,2.16 l-2.16,2.16 l-2.16,-2.16 z" fill="#a5123c"/><path d="M312,276.15 l2.16,2.16 l-2.16,2.16 l-2.16,-2.16 z" fill="#a5123c"/><path d="M315,275.9 l2.16,2.16 l-2.16,2.16 l-2.16,-2.16 z" fill="#a5123c"/><path d="M318,275.84 l2.16,2.16 l-2.16,2.16 l-2.16,-2.16 z" fill="#a5123c"/><path d="M321,275.71 l2.16,2.16 l-2.16,2.16 l-2.16,-2.16 z" fill="#a5123c"/><path d="M309,275.46 l2.16,2.16 l-2.16,2.16 l-2.16,-2.16 z" fill="#a5123c"/><path d="M312,275.39 l2.16,2.16 l-2.16,2.16 l-2.16,-2.16 z" fill="#a5123c"/><path d="M315,275.32 l2.16,2.16 l-2.16,2.16 l-2.16,-2.16 z" fill="#a5123c"/><path d="M318,274.93 l2.16,2.16 l-2.16,2.16 l-2.16,-2.16 z" fill="#a5123c"/>
<rect x="339" y="276.7" width="3" height="3" fill="#2b4a86"/><rect x="342" y="276.21" width="3" height="3" fill="#2b4a86"/><rect x="336" y="276.1" width="3" height="3" fill="#2b4a86"/><rect x="345" y="276.06" width="3" height="3" fill="#2b4a86"/><rect x="333" y="276" width="3" height="3" fill="#2b4a86"/><rect x="331.5" y="275.88" width="3" height="3" fill="#2b4a86"/><rect x="336" y="275.66" width="3" height="3" fill="#2b4a86"/><rect x="339" y="275.22" width="3" height="3" fill="#2b4a86"/><rect x="342" y="275.18" width="3" height="3" fill="#2b4a86"/><rect x="345" y="275.17" width="3" height="3" fill="#2b4a86"/><rect x="331.5" y="275.15" width="3" height="3" fill="#2b4a86"/><rect x="336" y="274.98" width="3" height="3" fill="#2b4a86"/><rect x="339" y="274.89" width="3" height="3" fill="#2b4a86"/><rect x="342" y="274.84" width="3" height="3" fill="#2b4a86"/><rect x="345" y="274.76" width="3" height="3" fill="#2b4a86"/><rect x="331.5" y="274.74" width="3" height="3" fill="#2b4a86"/><rect x="336" y="274.52" width="3" height="3" fill="#2b4a86"/><rect x="339" y="274.48" width="3" height="3" fill="#2b4a86"/><rect x="342" y="274.46" width="3" height="3" fill="#2b4a86"/><rect x="345" y="274.18" width="3" height="3" fill="#2b4a86"/><rect x="331.5" y="273.94" width="3" height="3" fill="#2b4a86"/><rect x="336" y="273.84" width="3" height="3" fill="#2b4a86"/><rect x="339" y="273.84" width="3" height="3" fill="#2b4a86"/><rect x="346.5" y="273.45" width="3" height="3" fill="#2b4a86"/><rect x="339" y="273.41" width="3" height="3" fill="#2b4a86"/><rect x="331.5" y="273.22" width="3" height="3" fill="#2b4a86"/><rect x="334.5" y="273.22" width="3" height="3" fill="#2b4a86"/><rect x="342" y="273.04" width="3" height="3" fill="#2b4a86"/><rect x="331.5" y="272.8" width="3" height="3" fill="#2b4a86"/><rect x="334.5" y="272.63" width="3" height="3" fill="#2b4a86"/><rect x="346.5" y="272.45" width="3" height="3" fill="#2b4a86"/><rect x="334.5" y="272.3" width="3" height="3" fill="#2b4a86"/><rect x="342" y="272.29" width="3" height="3" fill="#2b4a86"/><rect x="339" y="272.2" width="3" height="3" fill="#2b4a86"/><rect x="346.5" y="272.16" width="3" height="3" fill="#2b4a86"/><rect x="343.5" y="271.56" width="3" height="3" fill="#2b4a86"/><rect x="331.5" y="271.45" width="3" height="3" fill="#2b4a86"/><rect x="339" y="271.29" width="3" height="3" fill="#2b4a86"/><rect x="334.7" y="265.88" width="3" height="3" fill="#2b4a86"/><rect x="340.7" y="270.31" width="3" height="3" fill="#2b4a86"/>
<circle cx="337.15" cy="262.5" r="0.95" fill="#1e1e1e"/><circle cx="340.5" cy="262.5" r="0.95" fill="#1e1e1e"/><circle cx="343.85" cy="262.5" r="0.95" fill="#1e1e1e"/>
<path d="M366,277.34 l2.16,2.16 l-2.16,2.16 l-2.16,-2.16 z" fill="#a5123c"/><path d="M369,277.32 l2.16,2.16 l-2.16,2.16 l-2.16,-2.16 z" fill="#a5123c"/><path d="M363,277.27 l2.16,2.16 l-2.16,2.16 l-2.16,-2.16 z" fill="#a5123c"/><path d="M372,277.17 l2.16,2.16 l-2.16,2.16 l-2.16,-2.16 z" fill="#a5123c"/><path d="M360,276.94 l2.16,2.16 l-2.16,2.16 l-2.16,-2.16 z" fill="#a5123c"/><path d="M360,276.94 l2.16,2.16 l-2.16,2.16 l-2.16,-2.16 z" fill="#a5123c"/><path d="M363,276.92 l2.16,2.16 l-2.16,2.16 l-2.16,-2.16 z" fill="#a5123c"/><path d="M366,276.91 l2.16,2.16 l-2.16,2.16 l-2.16,-2.16 z" fill="#a5123c"/><path d="M369,276.82 l2.16,2.16 l-2.16,2.16 l-2.16,-2.16 z" fill="#a5123c"/><path d="M372,276.77 l2.16,2.16 l-2.16,2.16 l-2.16,-2.16 z" fill="#a5123c"/><path d="M360,276.57 l2.16,2.16 l-2.16,2.16 l-2.16,-2.16 z" fill="#a5123c"/><path d="M363,276.57 l2.16,2.16 l-2.16,2.16 l-2.16,-2.16 z" fill="#a5123c"/>
<rect x="390" y="277.83" width="3" height="3" fill="#2b4a86"/><rect x="393" y="277.12" width="3" height="3" fill="#2b4a86"/><rect x="387" y="277.11" width="3" height="3" fill="#2b4a86"/><rect x="396" y="277.05" width="3" height="3" fill="#2b4a86"/><rect x="384" y="276.93" width="3" height="3" fill="#2b4a86"/><rect x="382.5" y="276.86" width="3" height="3" fill="#2b4a86"/><rect x="387" y="276.59" width="3" height="3" fill="#2b4a86"/><rect x="390" y="276.51" width="3" height="3" fill="#2b4a86"/><rect x="393" y="276.36" width="3" height="3" fill="#2b4a86"/><rect x="396" y="276.35" width="3" height="3" fill="#2b4a86"/><rect x="382.5" y="276.33" width="3" height="3" fill="#2b4a86"/><rect x="387" y="276.21" width="3" height="3" fill="#2b4a86"/><rect x="390" y="276.19" width="3" height="3" fill="#2b4a86"/><rect x="393" y="276.05" width="3" height="3" fill="#2b4a86"/><rect x="396" y="275.94" width="3" height="3" fill="#2b4a86"/><rect x="382.5" y="275.93" width="3" height="3" fill="#2b4a86"/><rect x="387" y="275.92" width="3" height="3" fill="#2b4a86"/><rect x="390" y="275.81" width="3" height="3" fill="#2b4a86"/><rect x="393" y="275.62" width="3" height="3" fill="#2b4a86"/><rect x="396" y="275.61" width="3" height="3" fill="#2b4a86"/><rect x="382.5" y="275.6" width="3" height="3" fill="#2b4a86"/><rect x="387" y="275.54" width="3" height="3" fill="#2b4a86"/><rect x="390" y="275.49" width="3" height="3" fill="#2b4a86"/><rect x="393" y="275.39" width="3" height="3" fill="#2b4a86"/><rect x="396" y="275.37" width="3" height="3" fill="#2b4a86"/><rect x="382.5" y="275.24" width="3" height="3" fill="#2b4a86"/>
<circle cx="388.15" cy="267" r="0.95" fill="#1e1e1e"/><circle cx="391.5" cy="267" r="0.95" fill="#1e1e1e"/><circle cx="394.85" cy="267" r="0.95" fill="#1e1e1e"/>
<path d="M417,276.4 l2.16,2.16 l-2.16,2.16 l-2.16,-2.16 z" fill="#a5123c"/><path d="M420,276.24 l2.16,2.16 l-2.16,2.16 l-2.16,-2.16 z" fill="#a5123c"/><path d="M414,276.21 l2.16,2.16 l-2.16,2.16 l-2.16,-2.16 z" fill="#a5123c"/><path d="M423,276.14 l2.16,2.16 l-2.16,2.16 l-2.16,-2.16 z" fill="#a5123c"/><path d="M411,275.97 l2.16,2.16 l-2.16,2.16 l-2.16,-2.16 z" fill="#a5123c"/><path d="M411,275.94 l2.16,2.16 l-2.16,2.16 l-2.16,-2.16 z" fill="#a5123c"/><path d="M414,274.99 l2.16,2.16 l-2.16,2.16 l-2.16,-2.16 z" fill="#a5123c"/><path d="M417,274.89 l2.16,2.16 l-2.16,2.16 l-2.16,-2.16 z" fill="#a5123c"/><path d="M420,274.54 l2.16,2.16 l-2.16,2.16 l-2.16,-2.16 z" fill="#a5123c"/><path d="M423,274.47 l2.16,2.16 l-2.16,2.16 l-2.16,-2.16 z" fill="#a5123c"/><path d="M411,274.46 l2.16,2.16 l-2.16,2.16 l-2.16,-2.16 z" fill="#a5123c"/><path d="M414,274.22 l2.16,2.16 l-2.16,2.16 l-2.16,-2.16 z" fill="#a5123c"/><path d="M417,274.17 l2.16,2.16 l-2.16,2.16 l-2.16,-2.16 z" fill="#a5123c"/>
<rect x="441" y="275.55" width="3" height="3" fill="#2b4a86"/><rect x="444" y="275.39" width="3" height="3" fill="#2b4a86"/><rect x="438" y="274.81" width="3" height="3" fill="#2b4a86"/><rect x="447" y="274.09" width="3" height="3" fill="#2b4a86"/><rect x="435" y="273.32" width="3" height="3" fill="#2b4a86"/><rect x="441" y="272.39" width="3" height="3" fill="#2b4a86"/><rect x="444" y="271.73" width="3" height="3" fill="#2b4a86"/><rect x="438" y="271.52" width="3" height="3" fill="#2b4a86"/><rect x="448.5" y="271.45" width="3" height="3" fill="#2b4a86"/><rect x="433.5" y="271.41" width="3" height="3" fill="#2b4a86"/><rect x="438" y="271.06" width="3" height="3" fill="#2b4a86"/><rect x="441" y="270.83" width="3" height="3" fill="#2b4a86"/><rect x="444" y="270.82" width="3" height="3" fill="#2b4a86"/><rect x="447" y="270.76" width="3" height="3" fill="#2b4a86"/><rect x="433.5" y="270.71" width="3" height="3" fill="#2b4a86"/><rect x="433.5" y="270.33" width="3" height="3" fill="#2b4a86"/><rect x="436.5" y="269.99" width="3" height="3" fill="#2b4a86"/><rect x="441" y="269.73" width="3" height="3" fill="#2b4a86"/><rect x="444" y="269.45" width="3" height="3" fill="#2b4a86"/><rect x="441" y="269.28" width="3" height="3" fill="#2b4a86"/><rect x="447" y="269.23" width="3" height="3" fill="#2b4a86"/><rect x="436.5" y="268.8" width="3" height="3" fill="#2b4a86"/><rect x="447" y="268.78" width="3" height="3" fill="#2b4a86"/><rect x="444" y="268.67" width="3" height="3" fill="#2b4a86"/><rect x="433.5" y="268.63" width="3" height="3" fill="#2b4a86"/><rect x="436.5" y="268.13" width="3" height="3" fill="#2b4a86"/><rect x="439.5" y="267.79" width="3" height="3" fill="#2b4a86"/><rect x="444" y="267.77" width="3" height="3" fill="#2b4a86"/><rect x="433.5" y="267.48" width="3" height="3" fill="#2b4a86"/><rect x="447" y="267.4" width="3" height="3" fill="#2b4a86"/><rect x="433.5" y="267.16" width="3" height="3" fill="#2b4a86"/><rect x="439.5" y="267.11" width="3" height="3" fill="#2b4a86"/><rect x="436.5" y="266.92" width="3" height="3" fill="#2b4a86"/><rect x="439.5" y="266.58" width="3" height="3" fill="#2b4a86"/><rect x="442.5" y="266.29" width="3" height="3" fill="#2b4a86"/><rect x="448.5" y="266.13" width="3" height="3" fill="#2b4a86"/><rect x="442.5" y="265.98" width="3" height="3" fill="#2b4a86"/><rect x="445.5" y="265.83" width="3" height="3" fill="#2b4a86"/><rect x="448.5" y="265.8" width="3" height="3" fill="#2b4a86"/><rect x="433.5" y="265.56" width="3" height="3" fill="#2b4a86"/><rect x="436.5" y="265.51" width="3" height="3" fill="#2b4a86"/><rect x="433.5" y="265.5" width="3" height="3" fill="#2b4a86"/><rect x="436.5" y="265.45" width="3" height="3" fill="#2b4a86"/><rect x="439.5" y="265.24" width="3" height="3" fill="#2b4a86"/><rect x="442.5" y="265.2" width="3" height="3" fill="#2b4a86"/><rect x="445.5" y="265.17" width="3" height="3" fill="#2b4a86"/><rect x="436.5" y="265.06" width="3" height="3" fill="#2b4a86"/><rect x="442.5" y="264.93" width="3" height="3" fill="#2b4a86"/><rect x="445.5" y="264.72" width="3" height="3" fill="#2b4a86"/><rect x="448.5" y="264.71" width="3" height="3" fill="#2b4a86"/><rect x="435.6" y="253.94" width="3" height="3" fill="#2b4a86"/><rect x="440.8" y="253.94" width="3" height="3" fill="#2b4a86"/><rect x="445.8" y="253.94" width="3" height="3" fill="#2b4a86"/>
<circle cx="439.15" cy="246.5" r="0.95" fill="#1e1e1e"/><circle cx="442.5" cy="246.5" r="0.95" fill="#1e1e1e"/><circle cx="445.85" cy="246.5" r="0.95" fill="#1e1e1e"/>
<path d="M468,274.58 l2.16,2.16 l-2.16,2.16 l-2.16,-2.16 z" fill="#a5123c"/><path d="M471,274.09 l2.16,2.16 l-2.16,2.16 l-2.16,-2.16 z" fill="#a5123c"/><path d="M465,273.6 l2.16,2.16 l-2.16,2.16 l-2.16,-2.16 z" fill="#a5123c"/><path d="M474,273.4 l2.16,2.16 l-2.16,2.16 l-2.16,-2.16 z" fill="#a5123c"/><path d="M462,273.1 l2.16,2.16 l-2.16,2.16 l-2.16,-2.16 z" fill="#a5123c"/><path d="M462,272.61 l2.16,2.16 l-2.16,2.16 l-2.16,-2.16 z" fill="#a5123c"/><path d="M465,272.61 l2.16,2.16 l-2.16,2.16 l-2.16,-2.16 z" fill="#a5123c"/><path d="M468,272.12 l2.16,2.16 l-2.16,2.16 l-2.16,-2.16 z" fill="#a5123c"/><path d="M471,271.62 l2.16,2.16 l-2.16,2.16 l-2.16,-2.16 z" fill="#a5123c"/><path d="M468,271.43 l2.16,2.16 l-2.16,2.16 l-2.16,-2.16 z" fill="#a5123c"/><path d="M471,270.64 l2.16,2.16 l-2.16,2.16 l-2.16,-2.16 z" fill="#a5123c"/><path d="M463.5,269.65 l2.16,2.16 l-2.16,2.16 l-2.16,-2.16 z" fill="#a5123c"/><path d="M474,269.16 l2.16,2.16 l-2.16,2.16 l-2.16,-2.16 z" fill="#a5123c"/>
<rect x="492" y="251.72" width="3" height="3" fill="#2b4a86"/><rect x="495" y="251.37" width="3" height="3" fill="#2b4a86"/><rect x="489" y="251.07" width="3" height="3" fill="#2b4a86"/><rect x="498" y="250.74" width="3" height="3" fill="#2b4a86"/><rect x="486" y="250.51" width="3" height="3" fill="#2b4a86"/><rect x="484.5" y="250.07" width="3" height="3" fill="#2b4a86"/><rect x="489" y="249.88" width="3" height="3" fill="#2b4a86"/><rect x="492" y="249.86" width="3" height="3" fill="#2b4a86"/><rect x="495" y="249.66" width="3" height="3" fill="#2b4a86"/><rect x="498" y="249.13" width="3" height="3" fill="#2b4a86"/><rect x="484.5" y="248.74" width="3" height="3" fill="#2b4a86"/><rect x="492" y="248.15" width="3" height="3" fill="#2b4a86"/><rect x="489" y="248.02" width="3" height="3" fill="#2b4a86"/><rect x="495" y="248.01" width="3" height="3" fill="#2b4a86"/><rect x="499.5" y="247.91" width="3" height="3" fill="#2b4a86"/><rect x="484.5" y="246.3" width="3" height="3" fill="#2b4a86"/><rect x="492" y="244.97" width="3" height="3" fill="#2b4a86"/><rect x="495" y="244.43" width="3" height="3" fill="#2b4a86"/><rect x="489" y="244.4" width="3" height="3" fill="#2b4a86"/><rect x="498" y="244.06" width="3" height="3" fill="#2b4a86"/><rect x="486" y="243.21" width="3" height="3" fill="#2b4a86"/><rect x="484.5" y="243.1" width="3" height="3" fill="#2b4a86"/><rect x="489" y="242.96" width="3" height="3" fill="#2b4a86"/><rect x="492" y="242.72" width="3" height="3" fill="#2b4a86"/><rect x="492" y="241.85" width="3" height="3" fill="#2b4a86"/><rect x="495" y="241.76" width="3" height="3" fill="#2b4a86"/><rect x="498" y="240.58" width="3" height="3" fill="#2b4a86"/><rect x="484.5" y="240.56" width="3" height="3" fill="#2b4a86"/><rect x="487.5" y="240.53" width="3" height="3" fill="#2b4a86"/><rect x="484.5" y="239.95" width="3" height="3" fill="#2b4a86"/><rect x="487.5" y="239.33" width="3" height="3" fill="#2b4a86"/><rect x="490.5" y="239.25" width="3" height="3" fill="#2b4a86"/><rect x="493.5" y="238.88" width="3" height="3" fill="#2b4a86"/><rect x="490.5" y="238.73" width="3" height="3" fill="#2b4a86"/><rect x="493.5" y="238.06" width="3" height="3" fill="#2b4a86"/><rect x="496.5" y="237.59" width="3" height="3" fill="#2b4a86"/><rect x="499.5" y="237.45" width="3" height="3" fill="#2b4a86"/><rect x="484.5" y="237.37" width="3" height="3" fill="#2b4a86"/><rect x="487.5" y="237.11" width="3" height="3" fill="#2b4a86"/><rect x="496.5" y="237.06" width="3" height="3" fill="#2b4a86"/><rect x="499.5" y="237.03" width="3" height="3" fill="#2b4a86"/><rect x="484.5" y="236.9" width="3" height="3" fill="#2b4a86"/><rect x="484.5" y="236.87" width="3" height="3" fill="#2b4a86"/><rect x="487.5" y="236.84" width="3" height="3" fill="#2b4a86"/><rect x="490.5" y="236.8" width="3" height="3" fill="#2b4a86"/><rect x="493.5" y="236.78" width="3" height="3" fill="#2b4a86"/><rect x="496.5" y="236.66" width="3" height="3" fill="#2b4a86"/><rect x="499.5" y="236.54" width="3" height="3" fill="#2b4a86"/><rect x="484.5" y="236.47" width="3" height="3" fill="#2b4a86"/><rect x="487.5" y="236.01" width="3" height="3" fill="#2b4a86"/><rect x="490.5" y="235.88" width="3" height="3" fill="#2b4a86"/><rect x="493.5" y="235.78" width="3" height="3" fill="#2b4a86"/><rect x="490.5" y="235.43" width="3" height="3" fill="#2b4a86"/><rect x="487.5" y="235.3" width="3" height="3" fill="#2b4a86"/><rect x="493.5" y="234.14" width="3" height="3" fill="#2b4a86"/><rect x="496.5" y="234.06" width="3" height="3" fill="#2b4a86"/><rect x="484.5" y="233.81" width="3" height="3" fill="#2b4a86"/><rect x="499.5" y="233.24" width="3" height="3" fill="#2b4a86"/><rect x="484.5" y="232.91" width="3" height="3" fill="#2b4a86"/><rect x="487.5" y="232.87" width="3" height="3" fill="#2b4a86"/><rect x="490.5" y="232.06" width="3" height="3" fill="#2b4a86"/><rect x="487.5" y="231.64" width="3" height="3" fill="#2b4a86"/><rect x="490.5" y="231.63" width="3" height="3" fill="#2b4a86"/><rect x="493.5" y="230.5" width="3" height="3" fill="#2b4a86"/><rect x="492.1" y="211.15" width="3" height="3" fill="#2b4a86"/><rect x="486.8" y="216.57" width="3" height="3" fill="#2b4a86"/><rect x="492.1" y="221.01" width="3" height="3" fill="#2b4a86"/><rect x="496.5" y="221.41" width="3" height="3" fill="#2b4a86"/><rect x="499.8" y="221.01" width="3" height="3" fill="#2b4a86"/><rect x="486.8" y="224.46" width="3" height="3" fill="#2b4a86"/><rect x="492.1" y="226.63" width="3" height="3" fill="#2b4a86"/><rect x="492.1" y="265.58" width="3" height="3" fill="#2b4a86"/><rect x="492.1" y="271.79" width="3" height="3" fill="#2b4a86"/>
<circle cx="490.15" cy="204.5" r="0.95" fill="#1e1e1e"/><circle cx="493.5" cy="204.5" r="0.95" fill="#1e1e1e"/><circle cx="496.85" cy="204.5" r="0.95" fill="#1e1e1e"/>
<line x1="42.8" y1="354" x2="42.8" y2="438.9" stroke="#111" stroke-width="1.5"/>
<line x1="39.8" y1="438.3" x2="42.8" y2="438.3" stroke="#111" stroke-width="1.1"/>
<text x="36.8" y="441.05" font-size="7.7" text-anchor="end" fill="#2e2e2e" font-weight="normal" textLength="4.25" lengthAdjust="spacingAndGlyphs">0</text>
<line x1="39.8" y1="411.1" x2="42.8" y2="411.1" stroke="#111" stroke-width="1.1"/>
<text x="36.8" y="413.85" font-size="7.7" text-anchor="end" fill="#2e2e2e" font-weight="normal" textLength="17" lengthAdjust="spacingAndGlyphs">1000</text>
<line x1="39.8" y1="384" x2="42.8" y2="384" stroke="#111" stroke-width="1.1"/>
<text x="36.8" y="386.75" font-size="7.7" text-anchor="end" fill="#2e2e2e" font-weight="normal" textLength="17" lengthAdjust="spacingAndGlyphs">2000</text>
<line x1="39.8" y1="356.9" x2="42.8" y2="356.9" stroke="#111" stroke-width="1.1"/>
<text x="36.8" y="359.65" font-size="7.7" text-anchor="end" fill="#2e2e2e" font-weight="normal" textLength="17" lengthAdjust="spacingAndGlyphs">3000</text>
<line x1="54.75" y1="363.3" x2="54.75" y2="367.9" stroke="#222" stroke-width="1.1"/>
<line x1="51.75" y1="363.3" x2="57.75" y2="363.3" stroke="#222" stroke-width="1.1"/>
<rect x="48.5" y="367.4" width="12.5" height="70.9" fill="#2d4f8e" stroke="#223f75" stroke-width="0.7"/>
<line x1="72.2" y1="385" x2="72.2" y2="388" stroke="#222" stroke-width="1.1"/>
<line x1="69.2" y1="385" x2="75.2" y2="385" stroke="#222" stroke-width="1.1"/>
<rect x="65.9" y="387.5" width="12.6" height="50.8" fill="#b00530" stroke="#8e0a2a" stroke-width="0.7"/>
<line x1="94.6" y1="397.3" x2="94.6" y2="399.3" stroke="#222" stroke-width="1.1"/>
<line x1="91.6" y1="397.3" x2="97.6" y2="397.3" stroke="#222" stroke-width="1.1"/>
<rect x="88.6" y="398.8" width="12" height="39.5" fill="#2d4f8e" stroke="#223f75" stroke-width="0.7"/>
<line x1="112.2" y1="405" x2="112.2" y2="407.9" stroke="#222" stroke-width="1.1"/>
<line x1="109.2" y1="405" x2="115.2" y2="405" stroke="#222" stroke-width="1.1"/>
<rect x="106.2" y="407.4" width="12" height="30.9" fill="#b00530" stroke="#8e0a2a" stroke-width="0.7"/>
<line x1="42.1" y1="438.3" x2="125.5" y2="438.3" stroke="#111" stroke-width="1.5"/>
<line x1="63.2" y1="438.3" x2="63.2" y2="441.1" stroke="#111" stroke-width="1.1"/>
<line x1="103.4" y1="438.3" x2="103.4" y2="441.1" stroke="#111" stroke-width="1.1"/>
<circle cx="70.53" cy="381" r="0.95" fill="#1e1e1e"/><circle cx="73.88" cy="381" r="0.95" fill="#1e1e1e"/>
<circle cx="112.2" cy="402.6" r="0.95" fill="#1e1e1e"/>
<text x="63.7" y="451" font-size="8" text-anchor="middle" fill="#2e2e2e" font-weight="normal" textLength="22" lengthAdjust="spacingAndGlyphs">TNF-&#945;</text>
<text x="103.7" y="451" font-size="8" text-anchor="middle" fill="#2e2e2e" font-weight="normal" textLength="13.6" lengthAdjust="spacingAndGlyphs">IL-6</text>
<text x="13.4" y="395.5" font-size="8.6" text-anchor="middle" fill="#2e2e2e" font-weight="normal" textLength="12.8" lengthAdjust="spacingAndGlyphs" transform="rotate(-90 13.4 395.5)">MFI</text>
<rect x="84" y="342.8" width="5.1" height="5.1" fill="#223f75"/>
<rect x="84" y="351.2" width="5.1" height="5.1" fill="#8e0a2a"/>
<text x="92" y="347.9" font-size="7.8" fill="#2e2e2e">HO-1<tspan font-size="5.2" dy="-2.8">low</tspan></text>
<text x="92" y="356.6" font-size="7.8" fill="#2e2e2e">HO-1<tspan font-size="5.2" dy="-2.8">hi</tspan></text>
<line x1="185.2" y1="354.4" x2="185.2" y2="438.8" stroke="#111" stroke-width="1.5"/>
<line x1="182.2" y1="438.2" x2="185.2" y2="438.2" stroke="#111" stroke-width="1.1"/>
<text x="179" y="440.95" font-size="7.7" text-anchor="end" fill="#2e2e2e" font-weight="normal" textLength="4.3" lengthAdjust="spacingAndGlyphs">0</text>
<line x1="182.2" y1="421.82" x2="185.2" y2="421.82" stroke="#111" stroke-width="1.1"/>
<text x="179" y="424.57" font-size="7.7" text-anchor="end" fill="#2e2e2e" font-weight="normal" textLength="8.6" lengthAdjust="spacingAndGlyphs">50</text>
<line x1="182.2" y1="405.44" x2="185.2" y2="405.44" stroke="#111" stroke-width="1.1"/>
<text x="179" y="408.19" font-size="7.7" text-anchor="end" fill="#2e2e2e" font-weight="normal" textLength="12.9" lengthAdjust="spacingAndGlyphs">100</text>
<line x1="182.2" y1="389.06" x2="185.2" y2="389.06" stroke="#111" stroke-width="1.1"/>
<text x="179" y="391.81" font-size="7.7" text-anchor="end" fill="#2e2e2e" font-weight="normal" textLength="12.9" lengthAdjust="spacingAndGlyphs">150</text>
<line x1="182.2" y1="372.68" x2="185.2" y2="372.68" stroke="#111" stroke-width="1.1"/>
<text x="179" y="375.43" font-size="7.7" text-anchor="end" fill="#2e2e2e" font-weight="normal" textLength="12.9" lengthAdjust="spacingAndGlyphs">200</text>
<line x1="182.2" y1="356.3" x2="185.2" y2="356.3" stroke="#111" stroke-width="1.1"/>
<text x="179" y="359.05" font-size="7.7" text-anchor="end" fill="#2e2e2e" font-weight="normal" textLength="12.9" lengthAdjust="spacingAndGlyphs">250</text>
<text font-size="8.4" fill="#2e2e2e" text-anchor="middle" transform="translate(150.6 394.0) rotate(-90)"><tspan x="0" y="0" textLength="49" lengthAdjust="spacingAndGlyphs">MFI of marker</tspan><tspan x="0" y="8.7" textLength="47" lengthAdjust="spacingAndGlyphs">(relative to HD)</tspan></text>
<line x1="186" y1="405.5" x2="515.5" y2="405.5" stroke="#1a1a1a" stroke-width="1.15" stroke-dasharray="2.7 2.1"/>
<line x1="195.25" y1="404.2" x2="195.25" y2="408.5" stroke="#222" stroke-width="1.1"/>
<line x1="192.5" y1="404.2" x2="198" y2="404.2" stroke="#222" stroke-width="1.1"/>
<rect x="189.5" y="408" width="11.5" height="30.2" fill="#2d4f8e" stroke="#223f75" stroke-width="0.7"/>
<line x1="210.95" y1="365.2" x2="210.95" y2="368.7" stroke="#222" stroke-width="1.1"/>
<line x1="208.2" y1="365.2" x2="213.7" y2="365.2" stroke="#222" stroke-width="1.1"/>
<rect x="205.1" y="368.2" width="11.7" height="70" fill="#b00530" stroke="#8e0a2a" stroke-width="0.7"/>
<line x1="231.67" y1="411.6" x2="231.67" y2="413" stroke="#222" stroke-width="1.1"/>
<line x1="228.92" y1="411.6" x2="234.42" y2="411.6" stroke="#222" stroke-width="1.1"/>
<rect x="225.92" y="412.5" width="11.5" height="25.7" fill="#2d4f8e" stroke="#223f75" stroke-width="0.7"/>
<line x1="247.37" y1="392.2" x2="247.37" y2="394.7" stroke="#222" stroke-width="1.1"/>
<line x1="244.62" y1="392.2" x2="250.12" y2="392.2" stroke="#222" stroke-width="1.1"/>
<rect x="241.52" y="394.2" width="11.7" height="44" fill="#b00530" stroke="#8e0a2a" stroke-width="0.7"/>
<line x1="268.09" y1="407" x2="268.09" y2="409" stroke="#222" stroke-width="1.1"/>
<line x1="265.34" y1="407" x2="270.84" y2="407" stroke="#222" stroke-width="1.1"/>
<rect x="262.34" y="408.5" width="11.5" height="29.7" fill="#2d4f8e" stroke="#223f75" stroke-width="0.7"/>
<line x1="283.79" y1="394.2" x2="283.79" y2="396.5" stroke="#222" stroke-width="1.1"/>
<line x1="281.04" y1="394.2" x2="286.54" y2="394.2" stroke="#222" stroke-width="1.1"/>
<rect x="277.94" y="396" width="11.7" height="42.2" fill="#b00530" stroke="#8e0a2a" stroke-width="0.7"/>
<line x1="304.51" y1="391" x2="304.51" y2="394.1" stroke="#222" stroke-width="1.1"/>
<line x1="301.76" y1="391" x2="307.26" y2="391" stroke="#222" stroke-width="1.1"/>
<rect x="298.76" y="393.6" width="11.5" height="44.6" fill="#2d4f8e" stroke="#223f75" stroke-width="0.7"/>
<line x1="320.21" y1="364.7" x2="320.21" y2="369.5" stroke="#222" stroke-width="1.1"/>
<line x1="317.46" y1="364.7" x2="322.96" y2="364.7" stroke="#222" stroke-width="1.1"/>
<rect x="314.36" y="369" width="11.7" height="69.2" fill="#b00530" stroke="#8e0a2a" stroke-width="0.7"/>
<line x1="340.93" y1="381.6" x2="340.93" y2="384.1" stroke="#222" stroke-width="1.1"/>
<line x1="338.18" y1="381.6" x2="343.68" y2="381.6" stroke="#222" stroke-width="1.1"/>
<rect x="335.18" y="383.6" width="11.5" height="54.6" fill="#2d4f8e" stroke="#223f75" stroke-width="0.7"/>
<line x1="356.63" y1="365.7" x2="356.63" y2="369.5" stroke="#222" stroke-width="1.1"/>
<line x1="353.88" y1="365.7" x2="359.38" y2="365.7" stroke="#222" stroke-width="1.1"/>
<rect x="350.78" y="369" width="11.7" height="69.2" fill="#b00530" stroke="#8e0a2a" stroke-width="0.7"/>
<line x1="377.35" y1="385.6" x2="377.35" y2="387.4" stroke="#222" stroke-width="1.1"/>
<line x1="374.6" y1="385.6" x2="380.1" y2="385.6" stroke="#222" stroke-width="1.1"/>
<rect x="371.6" y="386.9" width="11.5" height="51.3" fill="#2d4f8e" stroke="#223f75" stroke-width="0.7"/>
<line x1="393.05" y1="369" x2="393.05" y2="370.8" stroke="#222" stroke-width="1.1"/>
<line x1="390.3" y1="369" x2="395.8" y2="369" stroke="#222" stroke-width="1.1"/>
<rect x="387.2" y="370.3" width="11.7" height="67.9" fill="#b00530" stroke="#8e0a2a" stroke-width="0.7"/>
<line x1="413.77" y1="390.5" x2="413.77" y2="392.8" stroke="#222" stroke-width="1.1"/>
<line x1="411.02" y1="390.5" x2="416.52" y2="390.5" stroke="#222" stroke-width="1.1"/>
<rect x="408.02" y="392.3" width="11.5" height="45.9" fill="#2d4f8e" stroke="#223f75" stroke-width="0.7"/>
<line x1="429.47" y1="399.4" x2="429.47" y2="401.1" stroke="#222" stroke-width="1.1"/>
<line x1="426.72" y1="399.4" x2="432.22" y2="399.4" stroke="#222" stroke-width="1.1"/>
<rect x="423.62" y="400.6" width="11.7" height="37.6" fill="#b00530" stroke="#8e0a2a" stroke-width="0.7"/>
<line x1="450.19" y1="380.2" x2="450.19" y2="383.5" stroke="#222" stroke-width="1.1"/>
<line x1="447.44" y1="380.2" x2="452.94" y2="380.2" stroke="#222" stroke-width="1.1"/>
<rect x="444.44" y="383" width="11.5" height="55.2" fill="#2d4f8e" stroke="#223f75" stroke-width="0.7"/>
<line x1="465.89" y1="391" x2="465.89" y2="393.5" stroke="#222" stroke-width="1.1"/>
<line x1="463.14" y1="391" x2="468.64" y2="391" stroke="#222" stroke-width="1.1"/>
<rect x="460.04" y="393" width="11.7" height="45.2" fill="#b00530" stroke="#8e0a2a" stroke-width="0.7"/>
<line x1="486.61" y1="419.4" x2="486.61" y2="420.5" stroke="#222" stroke-width="1.1"/>
<line x1="483.86" y1="419.4" x2="489.36" y2="419.4" stroke="#222" stroke-width="1.1"/>
<rect x="480.86" y="420" width="11.5" height="18.2" fill="#2d4f8e" stroke="#223f75" stroke-width="0.7"/>
<line x1="502.31" y1="421.4" x2="502.31" y2="422.5" stroke="#222" stroke-width="1.1"/>
<line x1="499.56" y1="421.4" x2="505.06" y2="421.4" stroke="#222" stroke-width="1.1"/>
<rect x="496.46" y="422" width="11.7" height="16.2" fill="#b00530" stroke="#8e0a2a" stroke-width="0.7"/>
<circle cx="207.55" cy="361.4" r="0.95" fill="#1e1e1e"/><circle cx="210.9" cy="361.4" r="0.95" fill="#1e1e1e"/><circle cx="214.25" cy="361.4" r="0.95" fill="#1e1e1e"/>
<path d="M196.3,352.4 L196.3,348.4 L212.1,348.4 L212.1,352.4" stroke="#111" stroke-width="1.2" fill="none"/>
<circle cx="200.85" cy="345" r="0.95" fill="#1e1e1e"/><circle cx="204.2" cy="345" r="0.95" fill="#1e1e1e"/><circle cx="207.55" cy="345" r="0.95" fill="#1e1e1e"/>
<circle cx="247.32" cy="388.4" r="0.95" fill="#1e1e1e"/>
<path d="M232.72,379.8 L232.72,375.8 L248.52,375.8 L248.52,379.8" stroke="#111" stroke-width="1.2" fill="none"/>
<circle cx="237.27" cy="372.4" r="0.95" fill="#1e1e1e"/><circle cx="240.62" cy="372.4" r="0.95" fill="#1e1e1e"/><circle cx="243.97" cy="372.4" r="0.95" fill="#1e1e1e"/>
<circle cx="280.39" cy="390.4" r="0.95" fill="#1e1e1e"/><circle cx="283.74" cy="390.4" r="0.95" fill="#1e1e1e"/><circle cx="287.09" cy="390.4" r="0.95" fill="#1e1e1e"/>
<path d="M269.14,383 L269.14,379 L284.94,379 L284.94,383" stroke="#111" stroke-width="1.2" fill="none"/>
<circle cx="273.69" cy="375.6" r="0.95" fill="#1e1e1e"/><circle cx="277.04" cy="375.6" r="0.95" fill="#1e1e1e"/><circle cx="280.39" cy="375.6" r="0.95" fill="#1e1e1e"/>
<circle cx="304.76" cy="387.2" r="0.95" fill="#1e1e1e"/>
<circle cx="316.81" cy="360.9" r="0.95" fill="#1e1e1e"/><circle cx="320.16" cy="360.9" r="0.95" fill="#1e1e1e"/><circle cx="323.51" cy="360.9" r="0.95" fill="#1e1e1e"/>
<path d="M305.56,352.1 L305.56,348.1 L321.36,348.1 L321.36,352.1" stroke="#111" stroke-width="1.2" fill="none"/>
<circle cx="310.11" cy="344.7" r="0.95" fill="#1e1e1e"/><circle cx="313.46" cy="344.7" r="0.95" fill="#1e1e1e"/><circle cx="316.81" cy="344.7" r="0.95" fill="#1e1e1e"/>
<circle cx="337.83" cy="377.8" r="0.95" fill="#1e1e1e"/><circle cx="341.18" cy="377.8" r="0.95" fill="#1e1e1e"/><circle cx="344.53" cy="377.8" r="0.95" fill="#1e1e1e"/>
<circle cx="353.23" cy="361.9" r="0.95" fill="#1e1e1e"/><circle cx="356.58" cy="361.9" r="0.95" fill="#1e1e1e"/><circle cx="359.93" cy="361.9" r="0.95" fill="#1e1e1e"/>
<path d="M341.98,356.6 L341.98,352.6 L357.78,352.6 L357.78,356.6" stroke="#111" stroke-width="1.2" fill="none"/>
<circle cx="346.53" cy="349.2" r="0.95" fill="#1e1e1e"/><circle cx="349.88" cy="349.2" r="0.95" fill="#1e1e1e"/><circle cx="353.23" cy="349.2" r="0.95" fill="#1e1e1e"/>
<circle cx="374.25" cy="381.8" r="0.95" fill="#1e1e1e"/><circle cx="377.6" cy="381.8" r="0.95" fill="#1e1e1e"/><circle cx="380.95" cy="381.8" r="0.95" fill="#1e1e1e"/>
<circle cx="389.65" cy="365.2" r="0.95" fill="#1e1e1e"/><circle cx="393" cy="365.2" r="0.95" fill="#1e1e1e"/><circle cx="396.35" cy="365.2" r="0.95" fill="#1e1e1e"/>
<path d="M378.4,357.4 L378.4,353.4 L394.2,353.4 L394.2,357.4" stroke="#111" stroke-width="1.2" fill="none"/>
<circle cx="382.95" cy="350" r="0.95" fill="#1e1e1e"/><circle cx="386.3" cy="350" r="0.95" fill="#1e1e1e"/><circle cx="389.65" cy="350" r="0.95" fill="#1e1e1e"/>
<circle cx="414.02" cy="386.7" r="0.95" fill="#1e1e1e"/>
<path d="M414.82,378.9 L414.82,374.9 L430.62,374.9 L430.62,378.9" stroke="#111" stroke-width="1.2" fill="none"/>
<circle cx="422.72" cy="371.5" r="0.95" fill="#1e1e1e"/>
<circle cx="448.76" cy="376.4" r="0.95" fill="#1e1e1e"/><circle cx="452.11" cy="376.4" r="0.95" fill="#1e1e1e"/>
<path d="M451.24,371.4 L451.24,367.4 L467.04,367.4 L467.04,371.4" stroke="#111" stroke-width="1.2" fill="none"/>
<circle cx="459.14" cy="364" r="0.95" fill="#1e1e1e"/>
<circle cx="483.51" cy="415.6" r="0.95" fill="#1e1e1e"/><circle cx="486.86" cy="415.6" r="0.95" fill="#1e1e1e"/><circle cx="490.21" cy="415.6" r="0.95" fill="#1e1e1e"/>
<circle cx="498.91" cy="417.6" r="0.95" fill="#1e1e1e"/><circle cx="502.26" cy="417.6" r="0.95" fill="#1e1e1e"/><circle cx="505.61" cy="417.6" r="0.95" fill="#1e1e1e"/>
<path d="M487.66,398.8 L487.66,394.8 L503.46,394.8 L503.46,398.8" stroke="#111" stroke-width="1.2" fill="none"/>
<circle cx="495.56" cy="391.4" r="0.95" fill="#1e1e1e"/>
<line x1="184.5" y1="438.2" x2="513.5" y2="438.2" stroke="#111" stroke-width="1.5"/>
<line x1="203.3" y1="438.2" x2="203.3" y2="441" stroke="#111" stroke-width="1.1"/>
<line x1="239.72" y1="438.2" x2="239.72" y2="441" stroke="#111" stroke-width="1.1"/>
<line x1="276.14" y1="438.2" x2="276.14" y2="441" stroke="#111" stroke-width="1.1"/>
<line x1="312.56" y1="438.2" x2="312.56" y2="441" stroke="#111" stroke-width="1.1"/>
<line x1="348.98" y1="438.2" x2="348.98" y2="441" stroke="#111" stroke-width="1.1"/>
<line x1="385.4" y1="438.2" x2="385.4" y2="441" stroke="#111" stroke-width="1.1"/>
<line x1="421.82" y1="438.2" x2="421.82" y2="441" stroke="#111" stroke-width="1.1"/>
<line x1="458.24" y1="438.2" x2="458.24" y2="441" stroke="#111" stroke-width="1.1"/>
<line x1="494.66" y1="438.2" x2="494.66" y2="441" stroke="#111" stroke-width="1.1"/>
<text x="0" y="0" font-size="8.4" text-anchor="end" fill="#2e2e2e" transform="translate(206.3 448.4) rotate(-45)">CD31</text>
<text x="0" y="0" font-size="8.4" text-anchor="end" fill="#2e2e2e" transform="translate(242.72 448.4) rotate(-45)">Tie2</text>
<text x="0" y="0" font-size="8.4" text-anchor="end" fill="#2e2e2e" transform="translate(279.14 448.4) rotate(-45)">NUR77</text>
<text x="0" y="0" font-size="8.4" text-anchor="end" fill="#2e2e2e" transform="translate(315.56 448.4) rotate(-45)">HLA-DR</text>
<text x="0" y="0" font-size="8.4" text-anchor="end" fill="#2e2e2e" transform="translate(351.98 448.4) rotate(-45)">CD86</text>
<text x="0" y="0" font-size="8.4" text-anchor="end" fill="#2e2e2e" transform="translate(388.4 448.4) rotate(-45)">CD80</text>
<text x="0" y="0" font-size="8.4" text-anchor="end" fill="#2e2e2e" transform="translate(424.82 448.4) rotate(-45)">CD11b</text>
<text x="0" y="0" font-size="8.4" text-anchor="end" fill="#2e2e2e" transform="translate(461.24 448.4) rotate(-45)">CD14</text>
<text x="0" y="0" font-size="8.4" text-anchor="end" fill="#2e2e2e" transform="translate(497.66 448.4) rotate(-45)">CX3CR1</text>
<rect x="468.3" y="342.6" width="5.1" height="5.1" fill="#223f75"/>
<rect x="468.3" y="350.8" width="5.1" height="5.1" fill="#8e0a2a"/>
<text x="476.8" y="348.0" font-size="7.8" fill="#2e2e2e">HO-1<tspan font-size="5.2" dy="-2.8">low</tspan></text>
<text x="476.8" y="356.0" font-size="7.8" fill="#2e2e2e">HO-1<tspan font-size="5.2" dy="-2.8">hi</tspan></text>
</svg></body></html>
